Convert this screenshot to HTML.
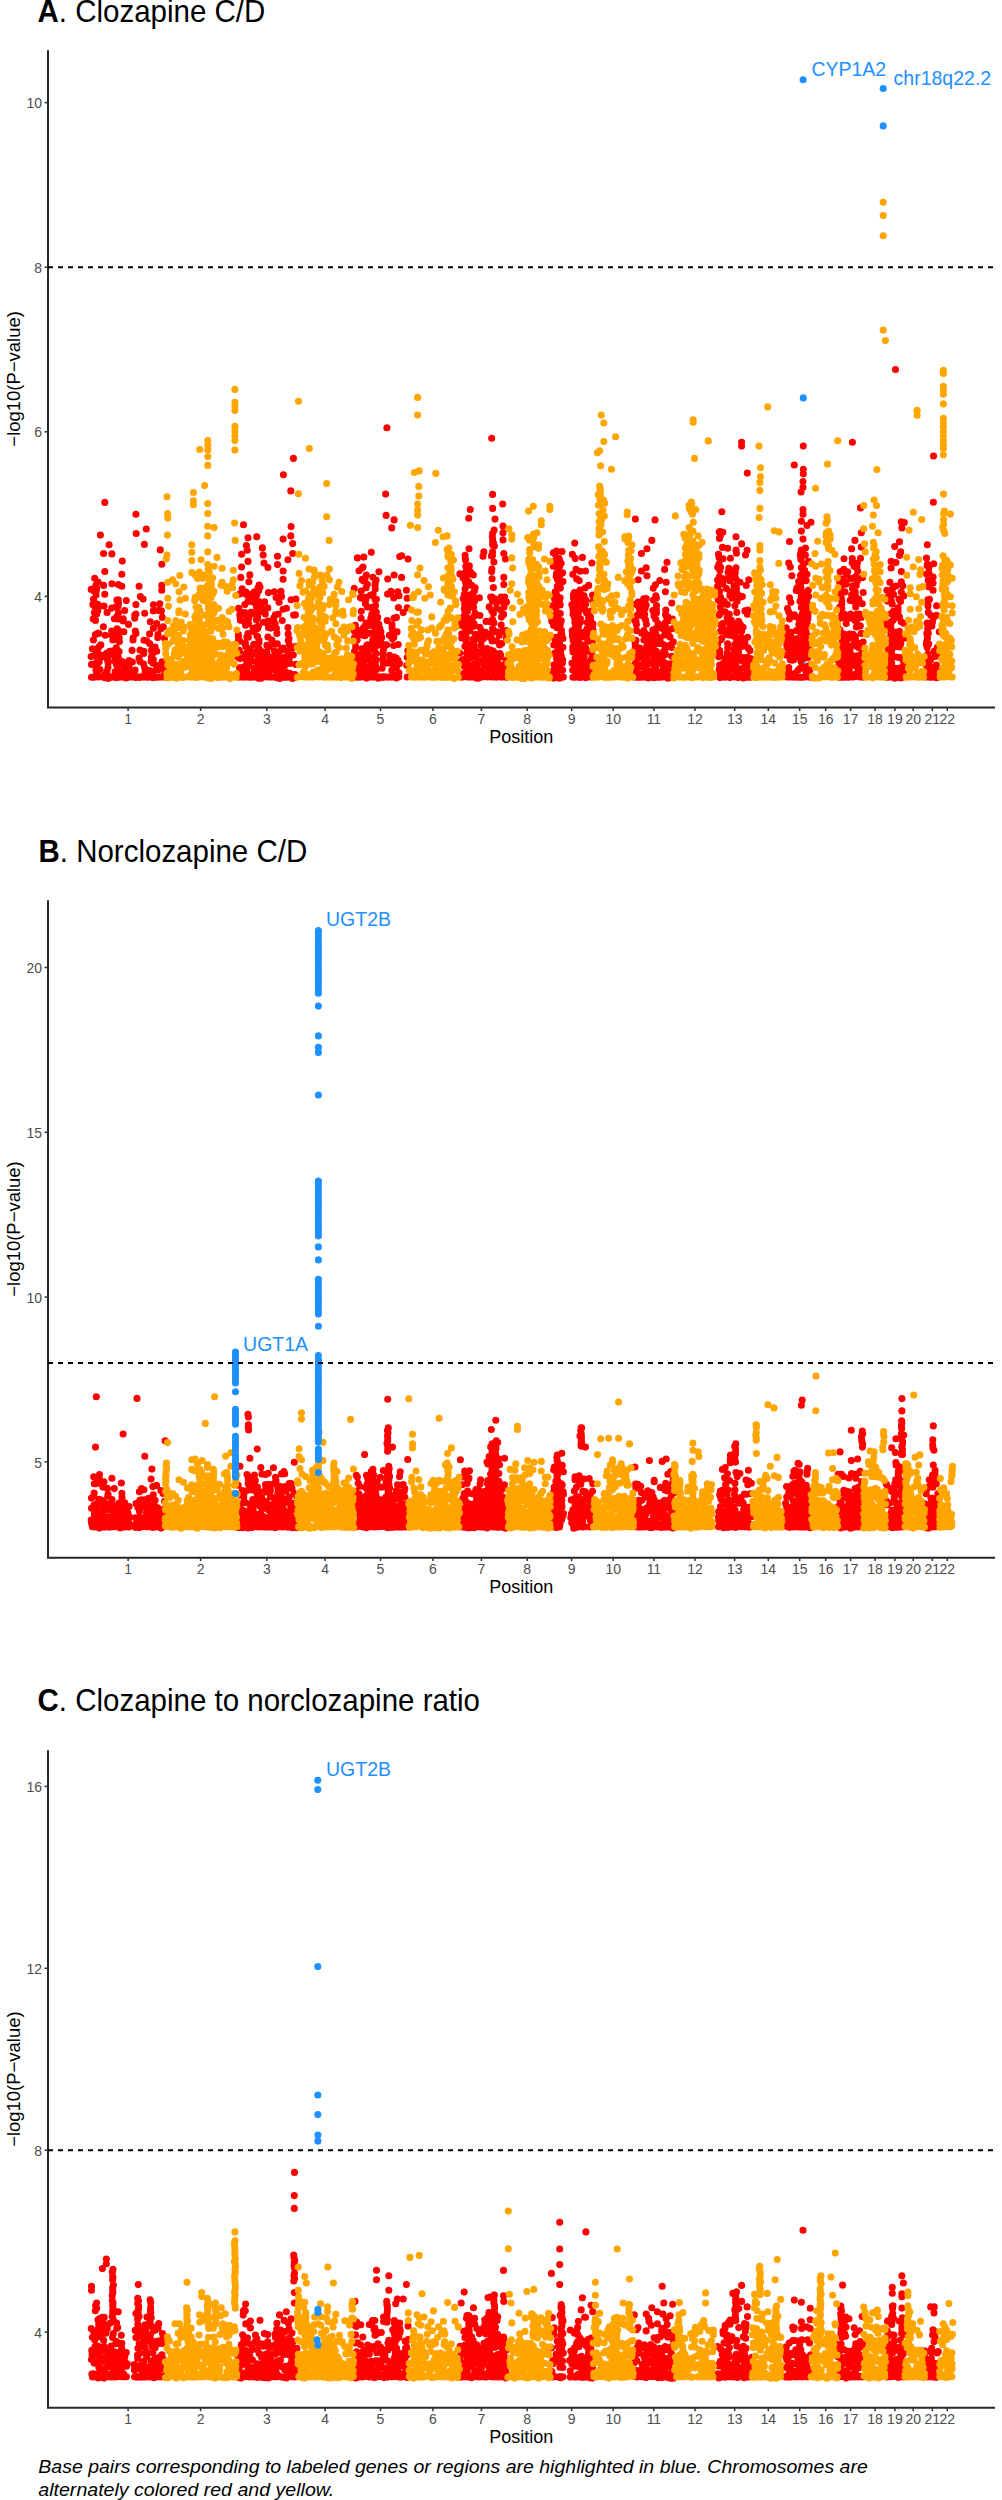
<!DOCTYPE html>
<html><head><meta charset="utf-8"><style>html,body{margin:0;padding:0;background:#fff;width:1002px;height:2500px;overflow:hidden}svg{display:block}</style></head><body>
<svg width="1002" height="2500" viewBox="0 0 1002 2500">
<style>
text{font-family:"Liberation Sans",sans-serif}
.yt{font-size:14px;fill:#4D4D4D;text-anchor:end}
.xt{font-size:14px;fill:#4D4D4D;text-anchor:middle}
.xl{font-size:18px;fill:#000;text-anchor:middle}
.yl{font-size:18px;fill:#000;text-anchor:middle}
.lab{font-size:19.5px;fill:#1E90FF}
.ttl{font-size:29.5px;fill:#000}
.cap{font-size:18.6px;fill:#000;font-style:italic}
</style>
<path d="M804.6 638.1h0M803.8 657.2h0M805.4 666h0" stroke="#1E90FF" stroke-width="7.1" stroke-linecap="round" fill="none"/>
<path d="M104.8 502.4h0M100.4 535.1h0M109.1 544.7h0M103.6 553.5h0M111.9 553.9h0M122.3 561.1h0M104.8 571.5h0M121.8 574.2h0M94.7 578.2h0M111.9 583.8h0M118.3 584.6h0M121.8 586.2h0M91.2 589.4h0M103.6 585.4h0M96 595h0M104.8 594.2h0M118.3 599.8h0M126.3 600.6h0M115.9 606.9h0M124.7 610.6h0M92.8 604.6h0M97.6 605.3h0M104 606.1h0M107.1 612.5h0M94.4 612.5h0M135.9 514.3h0M136.2 533.5h0M146.3 529h0M144.4 544.4h0M139.1 586.2h0M140.4 596.6h0M143.1 599h0M135.9 604.6h0M135.9 614.1h0M144.7 613.3h0M160.3 549.9h0M161.8 564.3h0M161.8 585.4h0M161.8 590.2h0M159.8 603.8h0M161.4 610.9h0M150.3 621.8h0M91.5 664.4h0M91.1 656.5h0M92.4 648.7h0M91.5 677.3h0M93.7 677.2h0M94.7 655.4h0M93.4 640h0M93.3 618.9h0M94 605.4h0M93.5 599.2h0M93.3 590.5h0M94.2 677.2h0M96.5 676.4h0M96 670h0M96.9 668.1h0M96.8 663.4h0M97 650.2h0M95.4 634.6h0M97.8 675h0M97.8 668h0M99.2 661.7h0M97.6 652h0M98.8 647h0M98.8 633.4h0M98 607.9h0M97.8 604.4h0M98.2 676.9h0M99.9 669.5h0M100.9 657.5h0M100.8 644.9h0M100.9 676.8h0M103.2 655.4h0M103.4 626.7h0M103 677h0M104.9 677.7h0M104.7 675h0M105.2 654.9h0M105.3 635.2h0M105 677.1h0M108.2 678.5h0M106.8 671.6h0M108 667.6h0M108.1 662.9h0M107.5 659.7h0M107 653.1h0M107 677.1h0M109.6 677.8h0M110.7 654.7h0M109.8 651.2h0M110.1 676.9h0M112.1 651h0M112.8 640h0M111.9 635.1h0M111.6 631.1h0M111.7 608.1h0M112.6 677h0M115.1 671.8h0M114.6 660.8h0M115.3 654.2h0M114.6 634.2h0M114.4 618.7h0M115 677.2h0M116.3 677.7h0M116.5 674.3h0M117.2 669.8h0M116.3 664.2h0M116.3 647.9h0M117.4 676.9h0M118.4 674.8h0M118.9 664.5h0M118.6 661.2h0M119.1 651.5h0M118.3 640.1h0M119.2 637.7h0M118.5 630.4h0M118.3 619h0M119.1 677.1h0M121.3 671.3h0M120.8 664.1h0M122.1 661.5h0M121.7 676.9h0M123.4 677.2h0M123.4 674.3h0M124.5 667.8h0M123.9 631.7h0M123.1 620.9h0M123.2 618.9h0M126.2 677.9h0M126.8 673.2h0M126 667.7h0M126.8 663.9h0M125.4 677.2h0M129.2 665.2h0M129 660.6h0M128.5 624.4h0M127.8 677h0M130.7 670.5h0M130.1 676.9h0M133.2 674.2h0M132.4 662h0M132.1 650.4h0M133 640h0M133.2 637.8h0M132.7 676.9h0M135.8 677.6h0M135.1 670.1h0M135.9 633.4h0M135.3 631.1h0M134.7 618.3h0M134.8 615.1h0M135 676.9h0M137.1 676.9h0M139.8 677.4h0M139.9 661.5h0M139 658.1h0M140 650h0M139.8 676.9h0M141.7 676.9h0M143.9 677.1h0M145.2 672.9h0M144.7 668.1h0M143.6 664h0M143.7 653.4h0M143.9 651.4h0M144 640.2h0M145.9 671.8h0M146.6 640.7h0M147 677.3h0M148.6 674.5h0M149 670.6h0M149.6 643.6h0M149.6 633.9h0M148.8 677.1h0M151.1 673.9h0M151.1 661.3h0M151.4 657.4h0M152.2 654.9h0M151.5 650.4h0M151.6 677.1h0M152.9 677.7h0M153.4 671.5h0M153.1 663.3h0M153.4 659.8h0M153.4 628.3h0M153.3 610.9h0M153.4 604.7h0M154 677h0M156.3 665.3h0M156.7 651.2h0M155.1 647h0M156.7 623.6h0M156.3 677.2h0M158.3 669.7h0M157.6 668.6h0M157.7 637.6h0M158 634.6h0M158.5 610.4h0M158.2 677.1h0M160.9 628.8h0M160.3 677h0M163.1 667.5h0M162.4 663.8h0M162 661.8h0M163.3 626.9h0M162.3 617.4h0M163.3 676.9h0M164.3 675h0M165.1 671.7h0M164.7 661.8h0M164.4 638.2h0M165.3 676.8h0M239.5 671.7h0M239.5 667.7h0M238.3 657.6h0M239.3 651h0M238.2 641.2h0M238.4 636.7h0M238.4 634.5h0M238.6 608.4h0M238.3 676.9h0M290.8 490.9h0M243.5 524.7h0M291.1 526.6h0M256.8 536.7h0M248 537.8h0M283.1 539.1h0M290.8 535.9h0M292.7 543.6h0M246.4 545.5h0M247.2 550.3h0M262.4 547.9h0M263.2 555h0M241.6 554.3h0M248 561.4h0M264 563h0M267.9 567.5h0M277.5 556.3h0M287.9 559.8h0M292.7 553.5h0M241.6 567h0M277.5 564.6h0M283.1 571h0M283.1 579.3h0M240.8 577.4h0M260 587h0M274.3 591.8h0M281.5 596.6h0M291.1 599.8h0M295.9 599h0M249.6 594.2h0M254.4 591.8h0M241.6 593.4h0M279.1 602.2h0M283.1 609.3h0M244.8 612.5h0M245.6 625.3h0M273.5 620.5h0M282.3 620.5h0M385.6 494.1h0M386.1 515.4h0M394.1 519.9h0M391.7 527.9h0M371.3 552.2h0M357.4 557.9h0M363.8 557.1h0M363 567h0M359 570.7h0M378.9 571.8h0M394.1 575h0M387.7 579h0M362.2 579.8h0M399.7 556.6h0M240.4 674.5h0M240.5 671.1h0M240 658.6h0M239.2 650.3h0M239.9 641.2h0M240.4 620.3h0M240 616.7h0M239.8 614.5h0M240.8 612.1h0M239.6 594.1h0M240.3 676.9h0M242.5 670.5h0M242.8 667.3h0M242.1 588.8h0M242.9 677.2h0M244.8 667.9h0M245 654.3h0M245.1 643.9h0M244.8 622.1h0M244.8 604.6h0M244.4 677h0M246.5 677h0M246.7 671.1h0M246.6 668.3h0M246.3 659.9h0M247.4 658.1h0M246.9 654.7h0M247.5 651.8h0M247.3 648.1h0M246.9 637.3h0M246.6 677h0M249.1 677.1h0M248.9 664.6h0M249.9 661.7h0M249 656.8h0M249.6 649.9h0M248.4 637.3h0M248.5 623.4h0M248.8 618.3h0M248.9 581.8h0M249.8 574.9h0M249.3 677h0M251.3 677.3h0M250.6 657h0M252 654.5h0M250.9 651.8h0M251 612.4h0M251.9 677h0M253.2 673.7h0M253.9 668.5h0M253.7 651.9h0M253.7 644.4h0M253.3 631.5h0M253 628.4h0M254 614h0M253 602.1h0M253.3 597h0M253.8 595.9h0M253.4 677h0M256.2 677h0M256.5 669.9h0M255.7 661.8h0M255.5 653.6h0M256.7 651.4h0M256.1 627.5h0M255.5 676.8h0M258.6 678.3h0M258.4 674h0M257.8 664.6h0M259.1 659.7h0M258.3 658.3h0M259 640.2h0M257.6 636.6h0M257.6 628.6h0M257.7 617.4h0M257.9 611.6h0M257.8 608.1h0M258.5 601.4h0M258.6 590.8h0M259.1 585.1h0M258.9 677.2h0M261.1 678.3h0M260.3 673.5h0M260.5 658.3h0M261.6 651.5h0M260.5 611.5h0M261.2 606.9h0M260.9 677.2h0M262.1 672.8h0M262.7 670.2h0M263.4 660.2h0M263.5 622.3h0M262.2 611.1h0M262.5 677.3h0M264.6 667.7h0M264.8 663h0M264.5 660.9h0M265.5 658.3h0M264.6 654.6h0M265.3 614h0M264.6 601.7h0M265.2 676.8h0M268.5 672.9h0M266.8 671.1h0M267 667.2h0M267.4 655.1h0M266.7 651.8h0M266.9 645.2h0M267.9 637h0M268.4 627.4h0M268.1 623.6h0M267.9 621.1h0M267.8 607.9h0M268.4 592.6h0M267.4 676.9h0M269.9 676.4h0M270 663.7h0M270.3 661.4h0M269.8 658h0M269.2 646.8h0M270.8 628.1h0M270.1 677h0M272.5 667.1h0M272.5 660.4h0M272.8 658.2h0M271.9 640h0M271.8 677h0M275 676.6h0M274.5 670h0M274.4 666.9h0M274.7 661.5h0M273.9 656.6h0M275 654.4h0M274.4 651.1h0M274.4 643.9h0M275.1 623.5h0M273.8 617.7h0M275.4 614.8h0M274.8 677h0M276.8 677.8h0M276.2 659.7h0M277.6 657h0M277.3 643.9h0M276.9 633.4h0M276.4 628.4h0M276.1 597.4h0M276.2 676.8h0M279.7 678.4h0M279.6 674.8h0M278.4 666.6h0M279.8 665.1h0M278.8 656.9h0M278.3 614.3h0M278.5 677.3h0M281.1 673.7h0M280.7 670.9h0M280.8 663.2h0M281.9 660.2h0M280.8 650.5h0M281 591.4h0M281.6 677.2h0M283.3 673.5h0M284.5 670.9h0M283.2 664.7h0M283.2 659.8h0M283.5 657.6h0M282.8 648h0M283.5 677.2h0M286.7 673.7h0M285.3 664.8h0M286.5 608.3h0M286.5 677.3h0M288.4 673.1h0M289 659.6h0M288.7 658.4h0M287.5 651.4h0M289.1 644.4h0M288.3 640.6h0M289 638.7h0M288.2 633.9h0M288 627.6h0M288 677.1h0M291.5 676.8h0M289.9 673.3h0M290.1 663.5h0M289.9 655.3h0M290.4 677h0M292.4 678.4h0M293.3 655h0M292.1 648.2h0M293.6 615.1h0M293.1 677h0M294.7 676.6h0M295 674.5h0M295.9 664.4h0M295.5 646.5h0M295.4 614.9h0M295.3 677.1h0M354.9 672.8h0M354.3 667.4h0M355.2 660.3h0M355.6 654.1h0M354.6 651.2h0M355.7 646.9h0M354.9 642.1h0M354.4 637.8h0M354.5 631.3h0M355.4 625.4h0M354.2 588.4h0M355.5 676.8h0M357.1 673.7h0M356.5 670.1h0M357.2 667.4h0M358.1 665h0M357.8 654.9h0M357.2 640.1h0M357.3 635.1h0M356.7 677.2h0M359.9 671.8h0M359.8 667.7h0M359.1 630.5h0M360.4 597.6h0M359.9 677.2h0M362.1 671.3h0M361.2 660h0M362 657.1h0M361.2 654.6h0M361.9 648.8h0M362.6 635.1h0M361.1 618.2h0M361.3 611.2h0M361.4 598.3h0M361.2 591.1h0M362.2 579.4h0M362.1 568.1h0M362 676.8h0M364.3 673.3h0M363.3 668.3h0M363.8 664.1h0M364.7 661.3h0M364.4 656.6h0M363.8 650.8h0M364.6 630.8h0M363.6 627.6h0M364.1 597.5h0M363.7 581h0M364.4 676.9h0M366.5 678.1h0M365.6 667h0M366.2 659.9h0M366.2 653.4h0M366.4 646.9h0M367.4 644.8h0M365.7 624.6h0M366 599.2h0M367.3 584.4h0M368.5 673.6h0M368.6 669.5h0M368.4 658.2h0M368.1 654h0M368.6 647.7h0M369.3 633.4h0M369.4 625.4h0M369.5 622.3h0M368.9 676.9h0M371 668.2h0M371.5 664.6h0M370.9 647.1h0M370.9 617.9h0M371.8 614.3h0M371.2 607.6h0M370.3 595.3h0M370.8 676.9h0M373.9 673h0M373.8 663.8h0M373.1 657.6h0M373.5 648.5h0M372.9 644.6h0M372.7 640h0M373.1 594.2h0M372.9 577.3h0M373.9 677.1h0M376.2 676.8h0M375.4 665.3h0M375.3 662h0M375.3 640.3h0M375 634.4h0M375.7 616.7h0M375 610.4h0M375 599.2h0M375.2 589.1h0M375.1 585.3h0M378.4 678.3h0M377.9 645.2h0M378.4 628.7h0M378.8 624.3h0M377.7 617.4h0M378.2 676.9h0M379.9 677.1h0M379.5 638.2h0M380.9 631.7h0M379.7 628.2h0M380.8 677.2h0M383 677.4h0M382.1 668.2h0M383.3 663h0M383 658.6h0M382.8 654h0M383.2 650.9h0M382 643.7h0M381.7 637.4h0M382.4 676.9h0M384.2 647.1h0M384.6 676.8h0M387 663.1h0M386.6 644.7h0M387.2 620.6h0M387.6 594.1h0M387.8 677.3h0M389.9 660.9h0M390.3 656.8h0M389.6 655.2h0M389.4 635.2h0M390 676.9h0M391.8 670.2h0M391.4 663.5h0M391.9 661.7h0M392.3 638.7h0M392.5 630.4h0M392 627.4h0M392 624.6h0M391 591.4h0M391.8 677.1h0M394.3 677h0M393.4 675h0M394.9 663.2h0M394.2 657.1h0M393.6 645.5h0M393.7 637.4h0M394.1 618.1h0M393.7 597.9h0M394.2 677h0M396.5 677.9h0M396.3 667.8h0M397.2 664.1h0M396.2 658h0M397.1 631.9h0M396.4 617.4h0M396.7 676.8h0M398.9 672.9h0M399.6 663.6h0M398 660.2h0M398.2 644.5h0M398.4 607.5h0M399.1 595.7h0M397.8 591.7h0M398.8 676.8h0M401.6 555.8h0M408 559h0M401.6 577.4h0M406.4 590.2h0M407.2 598.2h0M403.2 612.5h0M407.2 607.7h0M492.6 494.4h0M470.3 509.5h0M502.7 504h0M492.6 508.4h0M468.7 518.3h0M495 519.1h0M503 526h0M492.6 533.5h0M503 532.7h0M492.6 539.1h0M503 539.9h0M492.6 544.7h0M469 548.7h0M483.8 551.9h0M483 556.3h0M503.8 553.5h0M505.4 559h0M459.9 573.9h0M503.8 577.4h0M503.8 584.6h0M553.3 552.7h0M558.9 558.2h0M553.3 566.2h0M406.8 665.2h0M407.2 657.3h0M407.9 650.9h0M407.2 677h0M460.6 673.9h0M460.5 662h0M459.7 653h0M460 624.8h0M460.2 622.2h0M460.5 618.4h0M460.4 677h0M461.5 663.2h0M462.4 659.8h0M461.7 637.9h0M461.8 633.9h0M461.9 625.6h0M463.2 598.5h0M463.1 577.9h0M462.7 574.1h0M462.9 677h0M464.4 666.6h0M465.6 640.1h0M465.3 636.6h0M464.7 633.8h0M465 626.8h0M465 620.5h0M464.8 614.2h0M464.3 608.9h0M464.7 604.7h0M464.7 597h0M464.3 594.5h0M465.3 558.6h0M465.1 555.2h0M466.6 653.6h0M466.5 646.9h0M466.3 638.1h0M467.5 622.1h0M466.8 619.1h0M467.7 605.5h0M466.4 585.6h0M467.3 676.9h0M468.8 666.6h0M469.7 657.8h0M469.4 644.7h0M469.9 630.9h0M468.5 620.1h0M468.8 602h0M469.6 596h0M468.7 581.8h0M469.5 570.7h0M469.3 565.8h0M469 677h0M472.1 671.1h0M471.6 657.5h0M470.7 648.5h0M472.1 593.9h0M471.7 585.4h0M471.1 572.8h0M472 676.9h0M473.1 675h0M473.7 671.5h0M474.6 666.3h0M473.8 664.4h0M474.8 649.8h0M473.4 642.2h0M474.1 623.8h0M473.6 607.5h0M473.2 604.5h0M474.7 600.8h0M473.4 676.9h0M476.9 678.3h0M476.9 668h0M476.8 663.3h0M476.3 656.9h0M475.3 650h0M475.6 634.2h0M475.9 676.9h0M478.3 678.2h0M477.9 674.1h0M478.6 653.7h0M478.5 652h0M478.6 638.9h0M479.4 597.7h0M478.6 677.1h0M481.5 674.9h0M480.9 663h0M480.7 653.2h0M481 645.2h0M481.5 640.5h0M480 638.3h0M481.4 634.2h0M481.4 630.7h0M479.9 627.3h0M479.9 615.5h0M480.4 677h0M483.3 676.8h0M482.7 675.2h0M483 669.7h0M483.7 663.5h0M482.3 660.4h0M483.5 650.3h0M483.6 638.4h0M482.6 677h0M485.2 674.3h0M485.2 660.9h0M485.1 655.2h0M485.5 632.2h0M486.1 621.4h0M487.9 676.2h0M487.5 670h0M487.6 666.5h0M488.1 663.1h0M488.2 653.9h0M487.1 648.6h0M487.1 635.3h0M487.6 677h0M489.9 676.7h0M490.6 668.3h0M489.3 660.9h0M490.6 650.1h0M490.2 637.3h0M489.6 621.6h0M489.2 606.9h0M490.7 597.1h0M491.6 667.5h0M492 665.2h0M491.8 661.2h0M492.8 650.7h0M492.1 640.9h0M492.6 628.6h0M491.8 610.8h0M492 597h0M492.1 578.7h0M491.9 569h0M491.4 556h0M492.6 551.9h0M492.7 542.8h0M492 676.9h0M493.9 666.2h0M494.3 665.2h0M494.4 657.6h0M493.8 653.5h0M493.8 652h0M494.4 598.5h0M494.4 677h0M496.4 669.8h0M497.7 663.4h0M496.1 653.6h0M496.5 641h0M496.9 631.7h0M496.8 608.1h0M496 602.4h0M497 677.1h0M498.9 670.3h0M499 668.5h0M498.9 664.2h0M499.6 657.3h0M499.9 653.5h0M499.6 645h0M499.2 635.5h0M498.6 676.8h0M501.6 674.7h0M500.6 655.1h0M501.7 643.6h0M502 631.6h0M501.2 625.1h0M501.4 617.1h0M501 610.3h0M500.9 601.2h0M501.1 597h0M501 677.1h0M503.2 669.9h0M504.3 664.7h0M503.6 614.4h0M504.1 607.1h0M504.7 597h0M503.7 677h0M506.2 660h0M506.4 637.5h0M506.7 633.7h0M506.1 630.5h0M506.6 602.1h0M506.3 677.2h0M552.2 671.8h0M551.8 621.2h0M551.7 618.8h0M552.2 605.7h0M552.3 677.2h0M553.9 678.1h0M553.7 670.7h0M554.6 668.3h0M554.1 664.9h0M555.2 653.2h0M553.8 645h0M554.6 638.6h0M553.6 625.4h0M554.6 597.2h0M555.2 591.8h0M554.2 677.1h0M556.8 676.6h0M556 674h0M557.1 666.3h0M556.7 663.5h0M556.6 658.6h0M556.6 652.1h0M555.9 645.3h0M555.9 640.8h0M557 614h0M556.8 598.5h0M556.1 592.1h0M557.4 577.4h0M557 677.1h0M559.5 678.3h0M558.9 669.7h0M559 665h0M559 654h0M559.6 643.9h0M559.2 641.1h0M559.4 601.6h0M558.7 677h0M574.7 543.1h0M575.2 558.2h0M582.4 557.4h0M591.9 563h0M585.5 571h0M576 569.4h0M579.2 580.6h0M588.7 585.4h0M574.4 592.6h0M582.4 598.2h0M585.5 604.6h0M635.4 519.1h0M655 519.9h0M651.8 540.4h0M647 548.7h0M641.4 553.5h0M646.2 567.8h0M641.4 571h0M647 575.8h0M638.2 579.8h0M667 562.2h0M664.6 569.4h0M659.8 580.6h0M666.2 582.2h0M665.4 591.8h0M655.8 595.8h0M644.6 606.1h0M654.2 612.5h0M671.8 603h0M670.2 620.5h0M559.7 676.8h0M560.1 664.8h0M560.7 661.3h0M559.4 657h0M560.6 653.2h0M560.7 649.8h0M560.3 613.5h0M560.2 605h0M560.2 597.7h0M560.4 588.1h0M560.6 574.5h0M560.3 677h0M563.3 677.1h0M562.6 670h0M562.4 663.1h0M562.6 659.8h0M562.9 647.2h0M562.9 638.4h0M561.8 634.4h0M563 581.6h0M562.6 572.8h0M562 551.5h0M563 676.8h0M572.7 670.1h0M572 663.3h0M573 651.9h0M572.8 646.9h0M573.2 640.4h0M572.4 634.7h0M572.2 630.7h0M571.9 604.6h0M572.8 574.3h0M572.4 554.4h0M572.9 677.3h0M575.1 658.2h0M575.9 647.6h0M574.9 640.6h0M574.8 637.3h0M576 631.9h0M575 628.4h0M575.8 625.6h0M574.8 622.3h0M575 607.6h0M575.4 600.3h0M575.2 558.6h0M575.2 677.2h0M577.1 671.8h0M578 663.7h0M577.9 660.9h0M577.2 651.4h0M577.7 646.9h0M577.7 640.3h0M576.6 632.2h0M577.1 608h0M576.7 605h0M576.7 578.9h0M577.6 677h0M579.5 677.4h0M579.1 670.8h0M578.8 667.4h0M579.6 653.2h0M580.3 651.9h0M579.9 597.2h0M580.1 571.2h0M581.8 671.1h0M581.6 666.7h0M581.5 663h0M582.5 603.5h0M582.7 602.1h0M581.6 677.1h0M585.1 676.2h0M584.5 669.5h0M585.1 661.7h0M584.2 656.3h0M583.5 653.8h0M583.5 649.9h0M583.5 646.7h0M584.9 636.9h0M583.5 635.2h0M584 595.9h0M585.1 588h0M584.4 677.2h0M585.8 677.8h0M587.2 674h0M586.7 666.9h0M586.6 665h0M586.1 650.6h0M585.8 648.3h0M587.3 638.7h0M586.3 630.6h0M587.1 677h0M588.3 676.7h0M588.4 674.4h0M588.8 641h0M588.6 617.4h0M588.3 676.8h0M592.1 676.9h0M591.1 674.3h0M591.9 665.1h0M591.8 661.8h0M591.4 651.6h0M591.9 624.2h0M590.7 676.9h0M592.8 670h0M592.7 663.1h0M592.7 660.3h0M592.9 657.7h0M592.7 642.2h0M593 630.4h0M634.1 666.5h0M634.9 664.1h0M635.6 650.8h0M635.1 648.6h0M635.2 644.5h0M634.4 640.1h0M634.7 620.6h0M635.4 604.2h0M635.2 677.1h0M637.3 676.1h0M637.7 674.2h0M636.7 663.5h0M636.9 653.1h0M637 651.9h0M636.5 630.4h0M636.9 677.2h0M639.7 674.1h0M640.1 666.7h0M639.1 657.3h0M639.9 653.3h0M639.8 648.1h0M639.4 615.1h0M639.3 608.8h0M639.8 677.3h0M641.1 665h0M641.6 657.2h0M641.8 633.3h0M642.5 613.4h0M642.3 604.1h0M642.3 677.3h0M645 671h0M643.4 663.5h0M644.9 658.4h0M643.9 640.1h0M644.7 634.4h0M643.9 616.9h0M643.7 598.8h0M643.7 677h0M646.1 665.2h0M647.2 659.8h0M646.6 658.4h0M645.8 653.1h0M646.4 650.3h0M646.7 646.7h0M645.6 620h0M646.2 605.1h0M646.2 598.6h0M646.2 676.9h0M648.2 677.9h0M648.4 670.5h0M647.9 663.8h0M649.2 654h0M649.2 649.7h0M648.6 647.2h0M648.7 640h0M648.2 636.7h0M648.4 635.6h0M648.8 677.1h0M650.8 677.3h0M650.8 673.4h0M651.1 661h0M650.7 648.2h0M651.3 643.5h0M651.5 677.2h0M654.1 677.8h0M653.9 665h0M652.9 654h0M654.1 644.7h0M653.8 640.5h0M653.1 636.8h0M652.8 630.1h0M652.8 610.6h0M653.3 588.3h0M653 677.1h0M654.8 669.8h0M655.7 667.7h0M656.2 665.3h0M656.2 660.8h0M654.9 657.5h0M655.3 641.3h0M655.8 634h0M656.5 605.5h0M656.4 598.1h0M655.4 584.7h0M658.5 671.7h0M658.7 643.5h0M658 627.9h0M658 623.6h0M657.8 677.2h0M659.4 663.2h0M660.1 655.1h0M660.3 637.7h0M660.5 677.2h0M662.2 673.8h0M662.3 660.1h0M662.2 643.8h0M662.2 627.9h0M662.4 676.9h0M665.1 670.8h0M665.4 654h0M664.5 651.8h0M665.4 648h0M664.8 634.9h0M664.6 623.7h0M665.5 614.5h0M665 676.8h0M667.9 678.2h0M666.2 670.9h0M666.4 663.6h0M667.7 631h0M667.7 616.7h0M666.6 677.1h0M670 674.3h0M670 664.1h0M670 637h0M668.5 635h0M669.5 677h0M671.2 677h0M672.4 673.6h0M671.8 667.8h0M670.9 663.9h0M671.7 656.3h0M671.7 647.4h0M671 644.6h0M672.1 628.8h0M672.5 619h0M671.6 677.3h0M673.2 641.9h0M720 531.9h0M736 536.7h0M741.6 543.9h0M747.1 550.3h0M745.5 555h0M736 550.3h0M730.4 558.2h0M736 567.8h0M729.6 577.4h0M740 582.2h0M748.7 579.8h0M746.3 585.4h0M730.4 593.4h0M742.4 596.6h0M747.9 610.1h0M732 598.2h0M726.4 588.6h0M803 481.6h0M803 487.2h0M801.1 492h0M803 509.5h0M803 514.3h0M801.4 521.2h0M811 522.3h0M807 525.5h0M801.4 531.1h0M803 539.1h0M789.5 541.5h0M802.2 552.7h0M800.6 556.6h0M788.7 563h0M790.3 567h0M801.4 567.8h0M791.9 575.8h0M802.2 575.8h0M806.2 580.6h0M799.8 583.8h0M800.6 591.8h0M789.5 597.8h0M788.7 611.7h0M789.5 618.9h0M811 609.3h0M838.2 628.5h0M860.5 507.9h0M861.3 532.7h0M854.9 540.4h0M861.3 547.1h0M860.5 558.2h0M854.1 566.2h0M847.7 571.8h0M855.7 576.6h0M852.5 588.6h0M841.4 579h0M839.8 588.6h0M841.4 598.2h0M854.1 598.2h0M858.9 599h0M720 677.6h0M719.6 675.2h0M721.2 669.5h0M719.7 668h0M719.6 665.1h0M720.7 639.8h0M721 624.9h0M720.2 613.4h0M720.3 607h0M719.6 601.1h0M720.6 597.4h0M719.7 591.3h0M720.4 582.1h0M720.6 567.3h0M719.9 531.5h0M720.9 677h0M722.3 670.6h0M723.4 663.4h0M721.7 638.6h0M723.5 628.7h0M722.7 623.6h0M722.2 604.5h0M722.4 601h0M722.8 584.1h0M723 558.7h0M722.5 547.4h0M722.8 532.3h0M721.8 511.8h0M723.1 677h0M724.7 666.7h0M725.1 658.1h0M724.5 631.8h0M725.1 611.7h0M724.2 601.4h0M724.1 578.9h0M724.7 677.2h0M727.4 673.1h0M727.1 670.5h0M727.5 666.7h0M727 664.6h0M726.6 662h0M727 653h0M727.7 648h0M727.6 643.8h0M727.1 634.6h0M727.1 617.8h0M727.4 604.5h0M728.1 572.2h0M727.7 548.3h0M727.1 676.9h0M729.9 677.6h0M729 673h0M728.9 661.8h0M728.9 657.8h0M730.2 635.3h0M729.1 630.1h0M729.7 624.2h0M728.6 620.5h0M729.3 614.2h0M729.8 595.5h0M730.3 591.9h0M729.8 580.8h0M729 572.6h0M728.8 568.2h0M729.6 677.1h0M732.5 668.4h0M732.6 657.9h0M732.3 655.1h0M731.3 620.3h0M731.4 676.9h0M734.9 663h0M734.3 650.2h0M734.6 648.4h0M734.7 644.5h0M734.9 628.7h0M734.9 605.8h0M734.6 595.5h0M734.1 585.9h0M734.6 677h0M735.9 671.1h0M735.9 663.2h0M735.7 648.1h0M736.6 624.6h0M736.8 612.4h0M735.7 578.6h0M736.2 676.8h0M738.1 677.6h0M739.5 673.2h0M739.5 670.7h0M738.8 668.5h0M738.4 651.9h0M738.4 644.8h0M738.8 640h0M738.9 630.5h0M738.6 621.3h0M738.3 597.1h0M738.6 595.3h0M737.9 581.6h0M739 677.1h0M741.4 659.6h0M740.5 657h0M741.9 646.5h0M741.3 637.2h0M741.5 631.3h0M740.3 624.2h0M740.4 596.9h0M743.4 678.1h0M744.1 667.8h0M742.8 661.3h0M743.7 657.6h0M742.6 638.8h0M743.1 627.2h0M742.9 676.9h0M744.9 677.1h0M746.3 673.8h0M746 660.5h0M744.9 644.1h0M744.7 641.8h0M744.9 610.9h0M746 677.2h0M748.1 676.7h0M748.1 673.3h0M748.4 671.4h0M747.7 664h0M747.5 660.8h0M747.9 657.2h0M748.1 647.9h0M747.6 637.2h0M747.4 614.3h0M748 677.1h0M749.9 674.5h0M749.7 670.9h0M750.2 668h0M749.3 663.9h0M750.5 659.8h0M750.6 658.6h0M749.9 650.4h0M750.3 677.3h0M787.5 673h0M786.3 671.5h0M786.6 655.3h0M787.1 648.2h0M786.7 644.7h0M786.2 640.4h0M786.6 637.8h0M787.4 634.1h0M786.2 627.7h0M787.5 608.5h0M786.5 676.9h0M788.6 675h0M788.8 671.5h0M788.8 667.5h0M790.2 659.8h0M789.7 656.4h0M789.6 650h0M790.1 648.1h0M789.3 638.1h0M789.4 633.6h0M789.9 614h0M789 676.9h0M792.4 660.3h0M792.4 656.4h0M792.3 654.2h0M791.8 641.7h0M791.1 636.8h0M791.1 632.3h0M790.9 602.2h0M791.4 677h0M794.1 677.2h0M793.6 659.8h0M794.3 654.5h0M794.1 647.3h0M793.3 641.4h0M794.4 614.9h0M794 676.8h0M795.4 673.1h0M796.7 650.3h0M796.1 647.8h0M795.9 641.2h0M796.4 638.9h0M796.4 630.6h0M795.8 616.8h0M796.3 590.5h0M797 587.9h0M796.2 676.9h0M798 670.2h0M798.2 656.5h0M798.5 654.6h0M798.4 640.6h0M798.8 630.2h0M798.8 624.5h0M799.4 587.5h0M798.6 581.5h0M798 677.3h0M801.4 667.1h0M800.9 661.2h0M801 657.9h0M801.2 654.8h0M800.3 651.2h0M801.3 643.2h0M800.6 628.4h0M800.6 624.3h0M801 587.7h0M800.6 580.6h0M800.9 577.3h0M800.7 575h0M800.3 555h0M801 677.2h0M803.2 667.2h0M804 658.5h0M802.7 654h0M803 650.7h0M803.1 639.9h0M803.7 630.3h0M802.6 622h0M802.8 571.3h0M802.8 565.7h0M803 677.3h0M806.2 673.1h0M805.7 654.2h0M804.7 636.6h0M805.4 630h0M805.1 624.9h0M805.7 618.9h0M805.6 677h0M807.5 671.9h0M808.2 666.6h0M807.3 647.2h0M808.4 643.5h0M807 637.6h0M807.4 624.5h0M809.9 676.8h0M809.7 670.2h0M810.6 664.6h0M810.3 654h0M809.4 648.2h0M810.9 636.8h0M810.1 677.2h0M840.6 667.7h0M839.9 651.7h0M839.2 636.8h0M839.4 618.5h0M839.6 607.2h0M839.6 581.7h0M840.2 571.7h0M839.5 677.2h0M843 667.1h0M841.6 663.8h0M842.6 653.7h0M843 646.8h0M841.6 643.9h0M842.4 617.6h0M841.5 611.8h0M841.8 608.6h0M841.7 677.2h0M845.4 675.1h0M845.2 671.2h0M844.2 660.2h0M843.8 656.9h0M844.6 653.4h0M843.9 647.5h0M844.3 640.5h0M844 634.1h0M844.8 617.5h0M844.7 614.2h0M844.9 591.9h0M845.3 581.7h0M843.8 569.2h0M844 558.8h0M844.2 677.2h0M847.3 653.8h0M847.7 645.4h0M847.8 638.6h0M846.2 623.5h0M847.7 617.4h0M846.3 584.1h0M846.5 574.7h0M846.9 677.1h0M849.5 676.2h0M850.1 673.8h0M849.3 669.6h0M849.2 667.8h0M849 663.3h0M849.1 661.4h0M849.6 658.3h0M850 649.8h0M849.4 636.7h0M849.7 634h0M850.1 600.4h0M848.6 677.2h0M850.7 660.5h0M850.8 654.2h0M850.8 637.5h0M851.4 634.2h0M851.4 618.2h0M850.7 614h0M851.6 595.1h0M851 578.6h0M852.2 562.8h0M852.3 558.6h0M851.6 548.7h0M851 676.9h0M854.6 674.6h0M853.2 664.9h0M854.5 644.9h0M854.2 641.3h0M853.1 634.3h0M853.1 601.1h0M853.8 594.7h0M853 585.8h0M854.5 565.4h0M853.4 676.9h0M855.9 657h0M856.1 641.8h0M855.4 638.2h0M856.3 621.1h0M856.3 615.7h0M855.7 606.9h0M855.4 595.6h0M856.5 567.4h0M858.3 674.6h0M858.1 669.6h0M857.6 663h0M858.5 647.5h0M858 643.3h0M859.3 614.1h0M857.5 580.7h0M857.6 578.4h0M857.7 571.1h0M858.6 676.8h0M860.9 667.7h0M859.9 660.7h0M861.5 653.5h0M860.2 643.9h0M861.3 633.4h0M860.3 625.7h0M861.1 617.5h0M860.2 676.9h0M863 671.6h0M862.4 659.6h0M863.1 656.9h0M863.1 642.1h0M862.3 603.8h0M863.2 592.5h0M862.6 577.6h0M863 677.1h0M889.9 593.8h0M893.5 594.4h0M886.3 622.5h0M899.5 541.7h0M894.7 546.5h0M900.7 551.9h0M899.5 555.4h0M891.1 561.4h0M895.9 562.6h0M891.1 568h0M901.3 571.6h0M901.3 581.8h0M901.3 592h0M901.3 521.9h0M901.9 527.9h0M904.3 522.5h0M933.4 502.2h0M927.3 544.7h0M927.1 565.6h0M933.7 563.8h0M928.9 572.8h0M933.1 577h0M933.1 583h0M933.1 590.2h0M928.3 586.6h0M929.5 599.2h0M936.6 605.7h0M930.7 615.3h0M936.6 615.3h0M927.1 623.1h0M931.9 626.1h0M928.3 633.3h0M888 677.2h0M886.6 674.6h0M887.1 667.9h0M887.5 659.9h0M887.8 656.9h0M886.7 654.4h0M888.1 650.1h0M888 644.5h0M886.7 630h0M887.8 628.3h0M887 625h0M887.3 601.1h0M888 597.1h0M886.9 590.3h0M886.7 677.1h0M889.2 676.3h0M889.8 671.7h0M890.3 667h0M889.5 665.2h0M889.7 654h0M890 651h0M888.7 628.3h0M889.9 624h0M889.5 594.2h0M889.9 582.2h0M889.3 677h0M891.1 676.1h0M892.5 671.8h0M891.9 666.2h0M891.6 663.1h0M892 657.1h0M891.3 640.9h0M892.5 637.8h0M891.8 621.4h0M891.3 602.2h0M891.4 593.7h0M892.2 677.1h0M894.8 678.3h0M894.5 674.6h0M894.7 670.5h0M894.3 668.3h0M894.7 656.7h0M894.6 646.9h0M893.3 644.8h0M894.2 640.9h0M894.3 637.2h0M894.2 632h0M893.4 611.2h0M894.5 677h0M895.8 676.4h0M896.8 672.9h0M896.9 671.2h0M896.2 668.5h0M897.1 617.1h0M895.9 586h0M896.8 677.1h0M898.6 668.4h0M898.6 657.4h0M899.5 646.9h0M898.2 644h0M899.2 638.2h0M899.3 635.4h0M899.3 631.2h0M899.4 616.7h0M898 611.6h0M898.1 607.9h0M899 599h0M899.1 676.9h0M900.7 678h0M901.5 674.7h0M901.3 669.9h0M901.5 657.8h0M900.8 643.8h0M901.1 635.4h0M901.2 621.7h0M900.5 601.4h0M901.2 676.9h0M903.5 673h0M902.8 666.3h0M904 664.7h0M903.3 660.4h0M903.6 657.3h0M904.1 638.3h0M903.6 623.3h0M903.7 595.9h0M902.8 585.7h0M903.8 676.9h0M904.9 664.4h0M905 638h0M925.9 671.8h0M926.1 664.4h0M926.6 641.8h0M926.8 633.4h0M926.8 676.9h0M928.2 676.8h0M929.4 670h0M928.1 664.4h0M929.5 661.1h0M928.7 643.9h0M929.2 677.1h0M931.4 676.3h0M931.8 668.3h0M930.6 660h0M931.2 677.2h0M933.5 676.4h0M934.1 673.7h0M934.1 651.2h0M932.5 621.7h0M934.1 616.9h0M933.8 677.1h0M936.3 677.8h0M934.9 666.9h0M936.3 665h0M935.3 656.4h0M935 677.1h0M937.2 670.5h0M937.1 653.6h0M937.2 647.5h0M937.6 677.3h0M939.3 631.8h0M293.4 458.4h0M283.4 474.7h0M386.9 427.8h0M491.7 438.3h0M895.5 369.5h0M933.5 456h0M741.6 442.2h0M741.6 446.1h0M803.3 446.1h0M794.3 465h0M803.3 469.2h0M803.3 473.7h0M747.3 473.1h0M852.4 442.2h0M98.1 582h0M95.9 585.2h0M96.7 588.4h0M96.1 591.6h0M97.3 604.4h0M95.5 607.6h0M97.8 610.8h0M96.7 614h0M95.5 620.4h0M97.7 633.2h0M97.7 652.4h0M96.8 662h0M96.6 665.2h0M96.3 674.8h0M116.9 600h0M118.6 603.2h0M118 606.4h0M118.5 612.8h0M117.2 616h0M117 628.8h0M119.1 632h0M118.4 635.2h0M119.4 641.6h0M117.6 654.4h0M118.3 657.6h0M116.5 673.6h0M118.7 676.8h0M246 592h0M247.2 595.2h0M248 601.6h0M245.8 614.4h0M247.3 617.6h0M248 633.6h0M246.9 636.8h0M245.4 643.2h0M245.8 646.4h0M247 652.8h0M248 656h0M247.4 662.4h0M245.9 665.6h0M246.9 672h0M248.4 675.2h0M257.9 588h0M257.4 591.2h0M256.9 594.4h0M258.9 604h0M256.5 607.2h0M256.5 620h0M258.4 626.4h0M257 636h0M259 642.4h0M259 648.8h0M259.1 652h0M259.6 655.2h0M259 661.6h0M259.4 664.8h0M257.4 674.4h0M366.3 575h0M365.1 578.2h0M366.1 587.8h0M365.9 597.4h0M365.5 603.8h0M367.4 607h0M366.4 623h0M366.2 632.6h0M364.9 635.8h0M366.9 645.4h0M366.8 651.8h0M365.8 658.2h0M365.6 674.2h0M376.1 580h0M375.2 583.2h0M376.4 599.2h0M375.5 605.6h0M376.3 612h0M374.7 615.2h0M376.5 621.6h0M374.9 624.8h0M374.8 628h0M374.8 631.2h0M375.7 640.8h0M375 644h0M374.4 650.4h0M375.9 653.6h0M376.3 660h0M373.7 666.4h0M376.5 669.6h0M373.5 672.8h0M373.9 676h0M465.5 560h0M465.8 566.4h0M465.1 572.8h0M466.7 576h0M465.6 582.4h0M466.4 585.6h0M465.1 588.8h0M467.4 595.2h0M464.6 598.4h0M464.5 601.6h0M465.9 608h0M467.4 611.2h0M467 617.6h0M467.1 627.2h0M465.9 630.4h0M465.7 633.6h0M467.3 643.2h0M464.9 646.4h0M467.4 649.6h0M465 659.2h0M467.5 662.4h0M464.9 665.6h0M466.1 672h0M473.3 575h0M475.2 587.8h0M474.4 591h0M472.8 594.2h0M473.6 597.4h0M474.6 600.6h0M475.1 613.4h0M473.8 616.6h0M473 623h0M473.5 626.2h0M473.3 639h0M473.9 645.4h0M473.6 648.6h0M473.6 651.8h0M472.4 655h0M474.2 671h0M494.1 530h0M492.7 533.2h0M492.3 536.4h0M492.6 539.6h0M493.4 542.8h0M494.4 546h0M492.5 555.6h0M493.9 562h0M491.6 571.6h0M493.4 587.6h0M492 597.2h0M492.4 600.4h0M493.4 613.2h0M492.5 619.6h0M493.9 622.8h0M492.4 632.4h0M491.8 638.8h0M492 651.6h0M492.6 654.8h0M494.6 658h0M494.1 661.2h0M493.8 674h0M556.6 551h0M555.2 554.2h0M555.4 560.6h0M557 567h0M556.5 573.4h0M556.2 576.6h0M557.6 579.8h0M557.3 586.2h0M557 595.8h0M554.5 599h0M556.9 602.2h0M556 608.6h0M555 615h0M557.5 618.2h0M554.8 624.6h0M557 627.8h0M556.2 637.4h0M556.4 640.6h0M556.7 643.8h0M554.5 653.4h0M557.5 656.6h0M559.6 560h0M561.2 563.2h0M559.5 566.4h0M560.1 572.8h0M559.1 576h0M560 585.6h0M561.3 620.8h0M560.3 624h0M559.9 627.2h0M561.5 630.4h0M561 633.6h0M559 643.2h0M561.3 656h0M560.1 659.2h0M573.4 595h0M573.5 598.2h0M575.6 601.4h0M572.7 607.8h0M573.3 611h0M573.1 614.2h0M574.4 617.4h0M572.6 633.4h0M572.5 636.6h0M573.4 639.8h0M574.9 646.2h0M572.8 649.4h0M575.1 662.2h0M575.4 665.4h0M574.6 668.6h0M575.4 671.8h0M575.2 675h0M580 590h0M580.2 593.2h0M579 609.2h0M578.5 612.4h0M580.4 618.8h0M580.5 622h0M578.8 625.2h0M579.6 631.6h0M579.6 638h0M580.1 644.4h0M579.7 650.8h0M581.1 657.2h0M579.8 660.4h0M580.4 676.4h0M586 600h0M584.7 609.6h0M586.5 612.8h0M587.3 622.4h0M587.1 628.8h0M585.7 632h0M584.9 644.8h0M586.6 651.2h0M584.8 664h0M585.1 670.4h0M585.5 673.6h0M592.6 595h0M592.9 601.4h0M591.1 611h0M590.5 617.4h0M590.7 620.6h0M592.9 623.8h0M592.5 627h0M590.9 633.4h0M592.2 639.8h0M591.4 652.6h0M592.2 655.8h0M591.3 659h0M592.1 662.2h0M592.2 668.6h0M590.8 671.8h0M638.2 602h0M637.5 605.2h0M637.6 614.8h0M636 621.2h0M636.4 624.4h0M636.7 630.8h0M636 640.4h0M638.3 650h0M636.5 659.6h0M638.5 666h0M636.1 672.4h0M637.7 675.6h0M644.1 605h0M645.1 608.2h0M643.7 611.4h0M644.8 614.6h0M646.4 624.2h0M643.8 630.6h0M645.7 633.8h0M645.1 637h0M646 640.2h0M645.9 672.2h0M643.7 675.4h0M653.4 600h0M656.4 609.6h0M656.5 612.8h0M654 616h0M655.8 619.2h0M655.4 628.8h0M653.5 635.2h0M654.6 641.6h0M653.8 644.8h0M656.3 651.2h0M654.3 657.6h0M654.8 664h0M655.2 673.6h0M655 676.8h0M665.8 610h0M666.5 616.4h0M665.3 622.8h0M665.4 626h0M663.6 629.2h0M664.8 645.2h0M663.5 651.6h0M664.9 654.8h0M665.1 664.4h0M663.6 667.6h0M665 670.8h0M665.6 674h0M719.2 532h0M720.5 535.2h0M719.5 538.4h0M718.5 554.4h0M719.1 557.6h0M719 564h0M717.7 567.2h0M719.9 570.4h0M719.4 576.8h0M717.6 580h0M717.6 586.4h0M718.8 592.8h0M718.2 599.2h0M719 615.2h0M720.4 631.2h0M718.1 640.8h0M717.8 644h0M719.6 650.4h0M719.6 653.6h0M718.7 656.8h0M719.1 669.6h0M718.8 672.8h0M736.1 550h0M736.5 553.2h0M735.3 569.2h0M735.3 572.4h0M734.8 575.6h0M736.5 588.4h0M736.4 591.6h0M735.5 598h0M737.1 601.2h0M737.1 623.6h0M734.6 626.8h0M735 633.2h0M734.5 636.4h0M736.6 639.6h0M735.1 646h0M736.8 649.2h0M736.4 655.6h0M734.8 658.8h0M734.5 665.2h0M736.5 671.6h0M736.8 674.8h0M801.3 550h0M800.7 553.2h0M801.4 556.4h0M800.9 559.6h0M800.5 575.6h0M801.5 582h0M801.3 591.6h0M801.4 594.8h0M801.2 598h0M800 601.2h0M801.3 607.6h0M802.2 614h0M799.5 620.4h0M800.7 623.6h0M800.8 633.2h0M801.4 649.2h0M802.4 655.6h0M800.1 668.4h0M805.5 548h0M802.6 554.4h0M803.6 564h0M804.6 570.4h0M804.9 573.6h0M805.1 580h0M805.4 592.8h0M805.5 599.2h0M803 602.4h0M803.7 608.8h0M804.4 612h0M803.9 615.2h0M802.6 618.4h0M804.4 621.6h0M803 631.2h0M805.2 634.4h0M803.8 637.6h0M803 640.8h0M802.9 644h0M804 647.2h0M805.4 555h0M808.4 561.4h0M807 574.2h0M808.4 590.2h0M808.6 596.6h0M806.8 599.8h0M807.1 603h0M808 606.2h0M807.9 612.6h0M808 615.8h0M807.9 619h0M806 631.8h0M807 635h0M806.8 638.2h0M806.3 647.8h0M806.9 651h0M806.6 654.2h0M808.1 657.4h0M806 670.2h0M805.7 676.6h0M839 597.2h0M838.8 635.6h0M838.9 645.2h0M838.7 654.8h0M838.4 658h0M838.7 661.2h0M839.1 664.4h0M838.5 667.6h0M842.1 585h0M840 588.2h0M840.1 591.4h0M840.4 597.8h0M841.8 601h0M841.7 604.2h0M841.3 610.6h0M840.9 617h0M839.9 629.8h0M841.2 636.2h0M842.3 639.4h0M840.1 645.8h0M842.4 649h0M841.4 652.2h0M842.3 661.8h0M841.6 668.2h0M840 674.6h0M857.4 563h0M856.9 566.2h0M855.9 579h0M856.2 585.4h0M855.2 591.8h0M856.9 601.4h0M856.6 614.2h0M855.1 617.4h0M855 620.6h0M857.1 623.8h0M856.4 627h0M855.3 636.6h0M856.9 646.2h0M856.8 655.8h0M854.6 659h0M855.3 662.2h0M854.4 665.4h0M856.2 675h0M892.8 588h0M891.3 594.4h0M891.3 600.8h0M892.2 604h0M891 613.6h0M893.2 620h0M890.8 626.4h0M893.4 632.8h0M890.6 636h0M890.8 642.4h0M891.5 652h0M891.5 655.2h0M891.2 658.4h0M890.9 668h0M891.2 674.4h0M926.5 558h0M927.4 564.4h0M928.8 567.6h0M926.5 574h0M928.2 580.4h0M928.6 586.8h0M928 599.6h0M927.8 602.8h0M928 606h0M928.3 612.4h0M927.7 628.4h0M927.5 638h0M926.4 644.4h0M927.2 647.6h0M927.9 654h0M928.5 657.2h0M928.1 660.4h0M926.8 663.6h0M927 666.8h0M927.9 676.4h0" stroke="#FF0000" stroke-width="7.1" stroke-linecap="round" fill="none"/>
<path d="M167 496.8h0M167.5 513.5h0M167.8 518h0M167.5 535.1h0M167 555h0M166.2 559h0M193.4 492.5h0M193.4 500.8h0M193.4 504.8h0M204.6 485.6h0M207.7 503.6h0M207.7 513.5h0M207.7 526.3h0M214.1 527.6h0M207.7 535.9h0M207.7 551.9h0M234.6 523.1h0M235.2 540.4h0M191.8 544.7h0M191.8 552.3h0M191.8 560.6h0M201 559.8h0M217 557.4h0M222.1 568.3h0M179.8 575.5h0M172.6 579.8h0M191.8 572.6h0M198.2 576.6h0M207.7 564.6h0M214.1 566.2h0M233.3 570.2h0M233.3 579.8h0M222.1 582.2h0M225.3 586.2h0M175.8 583.8h0M183.8 587h0M167.8 582.2h0M167.8 598.2h0M179 591.8h0M185.4 598.2h0M179 610.9h0M185.4 614.1h0M168.6 606.1h0M167.8 620.5h0M175.8 620.5h0M165.7 653.8h0M165.8 648.8h0M165.3 643.6h0M167 677.8h0M166.8 673.4h0M167.7 665h0M167 658.5h0M168.3 644.2h0M167.6 633.9h0M167.8 677.3h0M169.3 677.4h0M170.4 675.2h0M169.6 671.3h0M170.5 667.4h0M169.8 664.4h0M170 661.5h0M169.9 630.5h0M170 677.2h0M172.2 671.2h0M171.4 659.6h0M172.7 641.2h0M171.8 677.3h0M174.5 673h0M173.9 666.6h0M174.1 653.9h0M175.1 649.8h0M174.2 638.3h0M173.8 635.3h0M174.1 630.6h0M173.5 625.7h0M174.6 677.2h0M176.5 678.3h0M176.3 675.2h0M176.4 667.8h0M176.3 664.6h0M176.7 627h0M176.3 677.1h0M178.7 666.4h0M178 656.7h0M178.7 655.2h0M179.7 640.7h0M178.6 627.5h0M179.4 677.1h0M181 676.7h0M180.6 674.2h0M180.9 670.5h0M181.6 663.5h0M180.7 653.7h0M180.9 677.2h0M182.6 677.6h0M183.8 665.1h0M183.8 661.2h0M183.7 649.9h0M183.3 640.6h0M183.3 631h0M183.8 627.2h0M183.3 677.1h0M185.6 667.1h0M185.6 663h0M184.9 647.2h0M186.3 676.9h0M187.9 676.8h0M188.8 666.3h0M188.1 663.6h0M189 660h0M187.6 657.9h0M187.2 654.3h0M188.1 648h0M190.8 674.5h0M190.6 660.8h0M190.8 651h0M189.9 647.2h0M190.4 643.4h0M189.6 640h0M190.3 635.1h0M191.1 628.7h0M190 624.5h0M190.5 677.1h0M192.5 671.1h0M192.1 666.2h0M193 654h0M193.1 636.8h0M192.3 635h0M192.4 626.7h0M192.6 677h0M195.3 677.4h0M194.4 669.8h0M195 663.2h0M194.1 661h0M195.2 657h0M195 653.9h0M194.2 649.9h0M194.2 643.5h0M195.7 634.4h0M195.1 677h0M196.4 656.7h0M196.5 653.9h0M197.3 646.4h0M198.1 643.1h0M198.1 611.1h0M197.4 597.4h0M197.5 677.1h0M198.9 676.9h0M200 670.8h0M198.9 663.2h0M199.5 659.6h0M199.7 652h0M200.3 647.2h0M200.5 640.8h0M199.4 634.9h0M199.2 631.5h0M199.3 622.4h0M199.8 617.6h0M200.2 588.7h0M199.7 677h0M201.8 665.3h0M202.3 658.7h0M202.8 647.6h0M202.5 644.7h0M202.6 625h0M202 595.5h0M203.5 676.2h0M204.9 674.8h0M203.6 670.4h0M205.1 656.8h0M204.5 644.1h0M203.9 640.6h0M204.4 634.9h0M203.5 631.6h0M203.5 625.6h0M205.1 615.1h0M204.4 597.9h0M203.9 677h0M207.1 677.7h0M206.9 667.6h0M206.4 660.3h0M206.8 651.3h0M206.3 646.7h0M206.4 640.6h0M207.2 623.5h0M206.7 598h0M206.7 676.8h0M209.1 676.6h0M208.6 669.8h0M209.2 666.4h0M209.1 664.4h0M209.4 658.1h0M208.7 649.7h0M208.5 637.8h0M209.3 630.6h0M208.9 623.6h0M208.8 620.7h0M208.3 607.9h0M209.4 594h0M208.2 569.2h0M209.1 677.2h0M210.7 678.4h0M210.9 666.4h0M210.4 665.1h0M211.1 661.2h0M210.9 630.9h0M211.7 613.5h0M210.9 597.7h0M210.9 582.7h0M211.3 579.4h0M211.2 677.1h0M213.4 674h0M212.7 666.8h0M213.9 663.9h0M213.7 653.2h0M213.9 626.7h0M214.2 611.9h0M213.8 604.5h0M213.9 591.4h0M213.2 676.9h0M215 666.9h0M215.5 654.3h0M216.4 647.5h0M215.6 644h0M216.1 620.4h0M215.4 608.2h0M216.3 677.1h0M218.4 677.5h0M217.2 674.8h0M218.4 670.5h0M218.5 646.6h0M218.6 643.2h0M218.8 628.4h0M218.5 620.5h0M218.5 608.2h0M218.5 676.9h0M219.8 672.8h0M219.9 666.8h0M220.3 663.6h0M219.9 660.8h0M220.9 655.1h0M221.1 624.2h0M221.1 585.3h0M220.8 677.2h0M223.3 672.9h0M221.8 667.6h0M222.6 646.8h0M223 634.2h0M222.6 627.9h0M222.2 617.5h0M222.6 677h0M224.9 671.8h0M224.2 668.3h0M224.1 661.6h0M224.1 641.7h0M225.4 620.6h0M225.1 677.1h0M226.6 676.7h0M226.7 667.8h0M227.2 663.5h0M226.7 657h0M227.6 654.6h0M227.7 643.7h0M227 642.2h0M227.7 621.9h0M227.2 591.2h0M227.9 587.3h0M229.9 678.4h0M228.8 674.4h0M228.8 657h0M228.9 650.5h0M229.1 646.8h0M229.5 644.4h0M229 626.8h0M229.2 611.5h0M229.8 677.1h0M232.2 676.6h0M231.3 674.7h0M230.9 660.3h0M231.4 657.8h0M231.5 645.2h0M231.8 609.2h0M232.6 587.7h0M232.1 584.5h0M231.8 676.8h0M234.1 676.7h0M234.1 664.1h0M234 653.2h0M234.7 648.3h0M234.8 644.3h0M233.7 676.9h0M236.4 673.6h0M236.7 653.3h0M235.8 644.8h0M236.8 630h0M235.8 595.5h0M236.2 677.2h0M326.7 483.5h0M298.4 493.7h0M326.7 516.7h0M329.1 540.4h0M298.8 554.3h0M305.5 558.2h0M299.1 573.4h0M329.4 569.1h0M327 575h0M329.4 579.8h0M339 582.2h0M337.4 587h0M314.3 571.3h0M314.3 577.4h0M319.8 587.3h0M299.9 585.7h0M305.5 591h0M352.6 593.4h0M348.6 599.8h0M297.2 647.2h0M297.1 630.8h0M297.7 627.6h0M297.1 605.6h0M297.3 677.2h0M299.1 664.7h0M299.9 651.2h0M300.6 644.3h0M300.7 640.7h0M300.1 637.1h0M299.4 634.7h0M302.2 676.3h0M302.9 673.1h0M302.6 663h0M302.5 646.5h0M302.5 634.9h0M302.9 592.1h0M301.5 580.5h0M302.2 676.8h0M303.8 676.2h0M304.2 671.8h0M305 667.5h0M303.6 664.4h0M304.8 656.9h0M303.8 645.4h0M304.2 632.1h0M304 626.7h0M304.1 617.2h0M304.5 603.6h0M304.3 676.9h0M306.2 664.1h0M306.8 659.8h0M306 651.9h0M307.1 635.5h0M305.8 630.2h0M307.2 628.1h0M307 620.3h0M306.9 618.2h0M306.3 607.1h0M307.4 601.8h0M306.5 677.3h0M308.9 674.9h0M309.2 656.5h0M309.1 643.3h0M308.9 638.5h0M309.5 621.4h0M308.9 613.6h0M308.2 611.1h0M309.6 608.3h0M308.6 598.9h0M309.2 677h0M310.5 664.2h0M310.8 653h0M311.9 651.8h0M310.4 647.8h0M311.5 645.3h0M311.5 637.2h0M312 631.5h0M310.5 605h0M311.8 597.2h0M311.8 677h0M313.7 676.7h0M312.7 663.8h0M312.9 631h0M314.1 607h0M313.6 590.7h0M313.7 677.1h0M316.3 670.9h0M315.7 654h0M316.7 645.5h0M315 628h0M316.2 592h0M317.6 674.9h0M318.6 669.9h0M318.8 659.6h0M317.9 640.9h0M318.3 634.3h0M318.5 601.4h0M317.7 594.7h0M318.2 676.9h0M320.1 671.2h0M321.1 660.2h0M321.4 626.6h0M321.1 624h0M319.9 621.2h0M319.9 613.4h0M320.2 611.3h0M322.8 676.4h0M322.8 668.1h0M323 663.1h0M322.2 660.8h0M323.1 654.4h0M322.1 631.4h0M322 626.8h0M322.4 621.8h0M323.1 615.8h0M322.5 676.9h0M325.2 673.5h0M325.4 645.3h0M325.1 621.2h0M325.5 617.3h0M325.1 677.2h0M327.6 669.8h0M326.7 666.3h0M326.5 658.1h0M327.9 649.9h0M327.9 648.2h0M327.4 645h0M326.6 633.7h0M326.9 677h0M329.3 667.9h0M329.4 660.7h0M329.3 604.6h0M330.4 599.2h0M330.2 677.3h0M332 666.4h0M332 664.9h0M332.3 659.9h0M331.2 657.7h0M331.6 631.2h0M332.8 617.8h0M331.6 677.2h0M335 671h0M335 663.7h0M335.1 657.9h0M334.7 653.4h0M334.1 636.7h0M334.1 594.4h0M333.7 676.9h0M336.9 666.8h0M336.3 652h0M336.7 644.7h0M336.3 638.2h0M335.8 623.7h0M335.7 611.4h0M335.9 605.2h0M336 601.4h0M336.4 677.3h0M338.8 674.1h0M338.1 671.7h0M339.2 647.5h0M338.5 640.1h0M338.1 613.5h0M341.1 677.6h0M341.5 673.6h0M341.2 667.2h0M340.7 661.3h0M341.2 658.7h0M341.1 630.6h0M341.5 612.3h0M341.7 591.5h0M341.3 676.9h0M343.5 673.9h0M343.1 669.9h0M342.7 667.7h0M344.3 660.6h0M343.9 635h0M343.9 627h0M343.3 615.2h0M342.7 611.1h0M343.9 676.9h0M345.2 673.6h0M345.2 668h0M345 661.6h0M346.2 648h0M345.2 677h0M348.4 667.3h0M347.7 663.8h0M347.3 654.9h0M347.7 640.9h0M347.2 631h0M347.5 677h0M350.5 677.4h0M349.9 673.2h0M350.6 667.8h0M350.6 663.5h0M350.6 658.1h0M349.8 626.8h0M350.2 677.3h0M351.8 678.5h0M353.2 673.9h0M352.7 667.8h0M353.5 663.7h0M351.9 656.5h0M353.2 641h0M352.1 626.8h0M353.2 613.7h0M353.5 610.6h0M353.1 594.5h0M352.2 677.1h0M418.8 486.4h0M418.8 496h0M417.6 504h0M417.6 510.3h0M417.6 515.1h0M410.4 525.2h0M417.6 527.6h0M438.3 530.3h0M447.1 535.9h0M443.1 536.7h0M435.4 542.6h0M447.1 549.5h0M447.9 556.6h0M420 568.1h0M417.6 575h0M424 580.6h0M428.4 586.7h0M418.4 591.8h0M430.3 595h0M424.8 598.2h0M412.8 596.6h0M440.7 602.2h0M447.9 595h0M454.3 591.8h0M455.9 604.6h0M447.9 567.8h0M447.9 575.8h0M452.7 579h0M447.9 586.2h0M533.3 506.3h0M528.5 511.1h0M549.8 506.3h0M549.8 509.5h0M541.3 520.7h0M541.3 524.7h0M508.9 528.7h0M511.8 535.1h0M511.8 539.1h0M537 532.7h0M527.7 537.5h0M511.8 557.9h0M512.6 568.1h0M511.8 583.8h0M517.4 594.2h0M510.2 590.2h0M544.5 559h0M550.1 561.4h0M545.3 571h0M546.9 579.8h0M542.1 590.2h0M547.7 594.2h0M546.9 603.8h0M545.3 610.9h0M550.1 615.7h0M537.3 604.6h0M409.4 670.1h0M408.7 663.8h0M409.8 659.8h0M409.1 654.3h0M409.9 650.4h0M408.7 645.2h0M411.6 653h0M411.5 635.4h0M412.5 631.8h0M411.3 628.4h0M411.8 620.5h0M411.6 610.1h0M412.6 597.5h0M411.5 676.9h0M413.5 674.4h0M414.6 670.4h0M414.2 660.7h0M414.8 657.1h0M414.9 652.1h0M414.4 644.2h0M413.5 638.5h0M413.3 597.4h0M413.9 594.5h0M414.7 677.3h0M416.6 677h0M415.7 674.4h0M416.9 663.7h0M416.2 658.5h0M416.2 655.2h0M417 625h0M416.7 612.2h0M416.4 676.9h0M418.6 671.5h0M419.3 667h0M419 664.3h0M418.1 660.6h0M418 638.5h0M418.7 634.2h0M418.6 621.3h0M418.4 612.1h0M418.5 676.9h0M421.8 669.9h0M420.2 664.5h0M421.7 660h0M420.6 650.4h0M420.5 637.4h0M421.4 629.9h0M420.5 677.1h0M422.7 664.4h0M423.2 677.2h0M425.3 670.3h0M425.4 667.1h0M424.9 661.9h0M425.5 653.9h0M426 648.6h0M425.8 677.1h0M428.5 669.6h0M427.5 663.5h0M427.1 646.6h0M427.3 643.8h0M428.5 640.7h0M427.9 630h0M428.4 676.8h0M429.6 671.5h0M430.6 663.2h0M430.9 660.1h0M430.7 653.9h0M430.4 677.2h0M432.3 676.4h0M432.2 671.8h0M432.1 659.9h0M431.9 653.3h0M431.9 628.1h0M431.8 616.9h0M432.5 677.3h0M435.4 676.1h0M435.7 667.5h0M435.2 663h0M434 651.7h0M435.5 633.2h0M435.3 677.2h0M437.6 657.8h0M436.8 641.3h0M436.8 676.9h0M438.6 669.9h0M438.8 657.3h0M439 654.2h0M438.8 647.5h0M439.7 641.2h0M439.4 627.3h0M438.9 677h0M442.6 677.4h0M442.5 671.2h0M441.6 663h0M442.2 659.9h0M441.4 658.6h0M441.5 654.3h0M441.8 649.9h0M441.4 625h0M442 677.2h0M444.6 671.3h0M443.6 668.2h0M444.9 660.1h0M444.3 658.7h0M443.1 650.2h0M444.3 641.4h0M444.7 637.3h0M444.2 620.4h0M444.9 590.5h0M444.2 589.4h0M443.4 578h0M446.2 677.3h0M446.8 673.3h0M445.6 661.5h0M446.6 654.8h0M445.8 646.6h0M446.5 633.9h0M446.8 620.1h0M446.6 616.9h0M446.2 677.1h0M449.1 676.2h0M449.2 671.5h0M447.9 666.7h0M449.4 664.8h0M447.7 660.9h0M449.4 644.2h0M448.1 636.9h0M448.7 633.8h0M447.9 630.1h0M449.5 616.7h0M448.2 611.3h0M448.2 594.3h0M447.9 583.8h0M448.9 582.7h0M448.1 552.9h0M448.6 677.2h0M450.9 676.2h0M450.2 673.9h0M451.5 653.3h0M451.4 648.2h0M451.5 641.5h0M450.9 677h0M454 678.4h0M452.6 666.7h0M454 658.3h0M452.3 655.4h0M453.8 638.7h0M454 628.1h0M453 677.2h0M454.9 670.1h0M455.4 668.5h0M455 664.7h0M455.1 657.3h0M454.8 654.3h0M455 651.6h0M455.9 626.7h0M455 623.6h0M455 621.9h0M455.4 600.7h0M457.6 670.7h0M458.5 664.2h0M457.3 651.3h0M457.7 617.7h0M458.3 677h0M508.4 676.6h0M508.6 673.1h0M508.6 671h0M508 663.2h0M508.3 654.7h0M507.6 640.2h0M509.1 633.9h0M508.6 631.5h0M508.3 676.8h0M510.6 673.3h0M510.6 667.1h0M510.8 664.6h0M510 661.1h0M510.5 677.1h0M512.3 677.4h0M513.3 658.5h0M512.3 653h0M513.8 651.8h0M512.1 646.7h0M512.8 621.7h0M512.5 608.1h0M512.8 676.9h0M516 669.7h0M515.1 654.8h0M515.5 677.2h0M517.4 673.2h0M518.4 651.6h0M517.1 639.9h0M517.2 677.1h0M519.5 677.1h0M519.2 666.3h0M519.5 658.3h0M520.3 655h0M519.9 614.4h0M520.3 601.6h0M519.5 677.1h0M521.8 678.4h0M522.2 673h0M522.8 667h0M521.5 664.4h0M522.5 660.9h0M522.5 658h0M522.9 655.1h0M522.1 642h0M522.6 635.1h0M521.8 677h0M524.4 678.5h0M524 673.7h0M523.9 667.5h0M524.8 663.2h0M525.2 661.4h0M523.9 650.8h0M525.3 637.1h0M524 610.9h0M523.7 608.9h0M524.9 677.1h0M526.7 677h0M526.8 650.3h0M527.1 641.3h0M526.9 633.5h0M526.8 613.6h0M526.8 606.8h0M526.7 676.9h0M529 673.6h0M529.2 670.5h0M529.1 666.7h0M529.5 661h0M528.8 658.1h0M529.6 655.1h0M528.7 637.1h0M529.1 612.2h0M529 594.3h0M528.7 592.6h0M528.8 677.1h0M531.6 677.9h0M530.9 674.2h0M531.2 646.7h0M531.2 633.2h0M531.8 623.4h0M532.2 620.5h0M531.9 598.1h0M531.8 581.6h0M531.2 677h0M533.1 670h0M533.3 664.9h0M534.1 660.5h0M534.5 658.4h0M533 654.3h0M534.5 650.5h0M532.9 647.6h0M534 641h0M533 608.3h0M533 592.3h0M534.5 568.2h0M533.3 534.7h0M533.9 677.1h0M536.8 671.7h0M536.1 668.3h0M536.6 663.6h0M536.8 658.4h0M536.2 651.1h0M536.7 647.4h0M536.4 641.1h0M536.8 637.2h0M536.4 634.2h0M535.3 614.6h0M536.5 610.9h0M535.6 604.4h0M536 588.6h0M536.6 585.5h0M535.2 579.2h0M536.1 677h0M537.9 667.4h0M539 649.7h0M537.9 644.1h0M538.3 638.4h0M538.7 676.9h0M541.4 676.9h0M541 671.6h0M541.2 656.8h0M541.2 654.3h0M541.3 648h0M539.7 631.3h0M540.9 594.6h0M540.9 677.2h0M543.4 674.3h0M542.7 666.3h0M543.8 647.3h0M542.1 642h0M542.9 638.2h0M542.4 604.4h0M542.8 677.2h0M544.8 659.9h0M545.2 656.4h0M544.6 651.6h0M545 638.6h0M545 633.8h0M544.6 631.7h0M546.1 607.4h0M545.3 597.2h0M545.2 677h0M548.2 678h0M547.1 670h0M547.3 663.4h0M547.4 658.1h0M547.5 650.2h0M546.7 640.7h0M548.1 638.8h0M547.9 677.2h0M549.4 677.3h0M549.2 654.7h0M550.4 635.3h0M549.2 611.4h0M549.2 595.5h0M549.2 676.8h0M599.9 487.2h0M598.3 494.4h0M604.7 503.2h0M603.1 510.3h0M599.1 513.5h0M599.1 521.5h0M599.1 527.9h0M599.1 535.1h0M599.1 547.1h0M599.9 555h0M606.3 562.2h0M599.9 569.4h0M603.9 574.2h0M598.3 580.6h0M607.9 583.8h0M607.1 588.6h0M618.3 577.4h0M616.7 595h0M607.9 599h0M600.7 599.8h0M594.3 610.9h0M628.7 537.5h0M631.9 544.7h0M628.7 550.3h0M628.7 558.2h0M628.7 566.2h0M628.7 575.8h0M628.7 583.8h0M631.9 595h0M674.2 595h0M675.3 515.9h0M691.7 503.6h0M695.7 509.5h0M692.5 514.3h0M693.3 522.3h0M683.8 534.3h0M698.1 535.9h0M702.1 542.3h0M685.3 547.9h0M698.9 554.3h0M689.3 550.3h0M694.9 561.4h0M682.2 569.4h0M686.1 574.2h0M697.3 577.4h0M678.2 583.8h0M690.9 583.8h0M705.3 590.2h0M705.3 599h0M706.9 607.7h0M709.3 618.9h0M674.2 622.1h0M594.2 674.3h0M593.1 666.5h0M593.7 647.1h0M593.7 633.3h0M593.2 676.9h0M595.9 668.6h0M596.1 664.9h0M596.7 657.1h0M595.8 647.1h0M595.7 603.9h0M596.4 598h0M595.2 677.2h0M597.4 673.4h0M598.5 670.8h0M598.5 667.1h0M597.3 664.8h0M597.4 647.6h0M597.7 638.8h0M597.6 594.5h0M597.4 591h0M598.3 588.3h0M598.4 677.1h0M600.1 673.2h0M599.6 667.3h0M600.9 663h0M600 659.9h0M600.6 643.5h0M600.8 624.1h0M601 608.4h0M602.5 666.5h0M603.4 658.5h0M603.4 654.7h0M602 651.2h0M603 633.9h0M602.6 630h0M603.5 625.7h0M602.4 611.2h0M603 608.8h0M602.4 602.3h0M603.1 676.9h0M605.9 677.5h0M604.7 670.8h0M604.8 667h0M605.6 664.3h0M604.6 653.4h0M604.3 648.4h0M605.8 643.9h0M604.6 677h0M607 674.4h0M606.8 663.3h0M607.1 661.4h0M607.7 653.5h0M606.8 648.4h0M606.9 634.8h0M607.2 630.9h0M606.9 627.2h0M607.8 677.2h0M609.6 677.1h0M609.5 673.1h0M609.7 646.4h0M609.4 640.7h0M609.6 631.9h0M610.2 615.3h0M610.3 611.3h0M609.8 677.2h0M612.4 655h0M611.2 651.9h0M611.1 647.3h0M611.8 638.5h0M611.8 635.5h0M612 627.1h0M612.5 625.5h0M611 617.5h0M612.6 611.2h0M611.8 603.8h0M611.6 595.9h0M612 677.1h0M613.8 670.5h0M615 656.7h0M613.5 651.3h0M613.5 640h0M613.6 634.3h0M613.7 604.8h0M614.9 602.2h0M614 677.1h0M615.7 676.3h0M615.9 673.8h0M615.8 670.9h0M616.8 664.2h0M617.1 661h0M616.5 656.4h0M617.2 653.9h0M616.4 648.5h0M617.1 630.5h0M616.3 676.8h0M618.8 669.9h0M619.7 665.1h0M619.5 660.7h0M617.9 650.4h0M618 639.8h0M618.2 638.8h0M618.7 627.2h0M618 608.5h0M618.7 676.8h0M621 673.3h0M621.6 658h0M620.9 648.1h0M621.9 644.8h0M621.8 625.5h0M621.4 614.4h0M620.7 676.9h0M623.3 676.7h0M622.6 673.1h0M622.9 670.3h0M623.2 646.9h0M624.1 610.3h0M622.9 677.2h0M624.8 666.6h0M626.4 657.3h0M625.5 638.8h0M625.6 625.7h0M624.8 580.7h0M626.4 571.9h0M625 538.8h0M625 536.5h0M625.2 676.9h0M627.5 678.1h0M628.8 673h0M627.3 671.8h0M627.5 667.1h0M628.2 663.9h0M627.4 635h0M627.3 628.5h0M627.8 621.4h0M628.7 582.3h0M627.9 561.3h0M627.2 514.7h0M627.3 512.1h0M627.4 677.2h0M630.4 676.9h0M630.8 667.4h0M630 657.1h0M629.4 653.9h0M629.5 637.9h0M630.2 630.8h0M630.6 615.4h0M630.9 609h0M630.4 604.2h0M629.6 582.1h0M630 560.6h0M631.1 550.7h0M632.7 677.1h0M631.8 657.3h0M632.2 652.1h0M632.1 638.4h0M631.8 592.4h0M632 581.3h0M632.1 571.4h0M632.7 569.2h0M673.9 678h0M674 672.9h0M674.8 668.3h0M674.9 657.9h0M674.3 677h0M675.4 673.5h0M675.7 670.6h0M675.4 664h0M675.7 657.1h0M677 650.2h0M676.9 626.8h0M675.9 677h0M678.1 671.8h0M678.7 658.6h0M678.2 654.5h0M677.9 630.4h0M679.1 608.3h0M678.8 585.7h0M678 576h0M679.1 677h0M680.7 668.3h0M680.7 664.7h0M681.3 661.1h0M681.7 650.9h0M680.6 648.5h0M680.1 644.4h0M681.2 635.4h0M680.6 624.2h0M681.6 613.5h0M681.4 591.7h0M680.5 587.3h0M680.4 583.9h0M680.8 562.9h0M680.9 677h0M683.7 667.9h0M682.5 661.5h0M683.5 653.7h0M683.9 651.1h0M682.3 645h0M683 628.4h0M683.3 621.6h0M683.6 618.8h0M682.3 611.5h0M682.6 584.8h0M683.3 564.1h0M683 562.7h0M682.6 677.1h0M686.3 668.2h0M685.9 660.3h0M685.5 654.3h0M685.4 645.2h0M686.1 636.9h0M686.1 622.1h0M686 608.1h0M684.9 677.2h0M688.3 671h0M687.5 665.3h0M688.7 660.4h0M688.3 657.2h0M687.6 653.8h0M687.5 651h0M687 648.7h0M687.4 636.7h0M687.7 623.7h0M688.4 605.7h0M688.2 676.9h0M690.5 664.8h0M689.5 661.8h0M690.5 654.2h0M690.6 637.8h0M689.8 635.2h0M690.1 626.9h0M689.6 623.3h0M690 677.2h0M692.6 677.8h0M691.8 675h0M692.2 671.7h0M692.9 653.6h0M692.9 643.2h0M692.6 641.7h0M693 633.8h0M692 620.5h0M691.5 611.9h0M692.9 571.1h0M691.9 567.9h0M692.5 564.5h0M692.1 551.6h0M692.8 541.1h0M692.4 677.2h0M694.8 668h0M695.2 665h0M694.3 657.9h0M695 591.3h0M695.5 582.5h0M694.2 676.8h0M696.3 665h0M697.3 660.4h0M696.9 651h0M697.6 647.5h0M697.7 638.8h0M697.6 630.1h0M697.3 677h0M698.8 667.8h0M699.4 605.2h0M699.8 600.8h0M699.8 677h0M702.2 673.8h0M701 649.9h0M702.5 641.2h0M701.5 637.4h0M703.2 677.6h0M703.8 666.3h0M704.1 663.2h0M703.6 661.3h0M703.8 657.1h0M703.2 654.6h0M703.5 640.5h0M704.2 628.1h0M703.5 614h0M704.2 676.8h0M705.5 668.3h0M706.8 657.1h0M706.6 650.4h0M706 648.8h0M705.4 641.7h0M705.9 622.1h0M706.7 676.8h0M709.2 677.1h0M708.9 674.2h0M708.3 670.5h0M708.4 664h0M709.3 643.4h0M708 637.1h0M708.9 621.4h0M708 677.3h0M710.7 677.6h0M710.6 670.6h0M711.4 664.8h0M711 660.6h0M710.5 656.5h0M710.6 648.5h0M710.2 677h0M713.6 673.8h0M712.9 654.5h0M712.3 645.1h0M713.2 636.6h0M713 634h0M713 627.3h0M713.6 676.9h0M759.9 482.4h0M759.9 490.4h0M759.9 508.4h0M759.1 517.5h0M774.3 530.8h0M779.1 531.9h0M759.9 545.5h0M759.9 550.3h0M759.9 560.6h0M759.9 567h0M778.8 563.4h0M755.9 577.4h0M762.3 584.6h0M761.5 593.4h0M763.1 602.2h0M775.9 591.8h0M775.9 598.2h0M775.9 606.1h0M779.1 615.7h0M780.7 626.9h0M811.8 563.8h0M815.5 488.3h0M827 516.7h0M827.3 520.7h0M828.6 531.1h0M830.2 535.1h0M830.2 539.1h0M817.7 541.2h0M828.6 545.5h0M831.8 550.3h0M835 554.3h0M815 553.5h0M827.8 566.2h0M815.8 566.2h0M815.8 578.2h0M819 582.2h0M812.6 585.4h0M827.8 575.8h0M827.8 585.4h0M815.8 595h0M835 591.8h0M831.8 617.3h0M863.7 505.5h0M874.1 500h0M876.5 505.5h0M873.3 515.1h0M863.7 528.7h0M872.5 526.3h0M878.1 532.7h0M864.5 543.9h0M873.3 542.3h0M865.3 551.9h0M873.3 559h0M878.1 566.2h0M863.7 574.2h0M878.1 579h0M754.7 673.4h0M753.5 667.8h0M753.7 664.9h0M755 641.9h0M754.5 622h0M753.4 615.7h0M754.8 608.6h0M753.7 605.7h0M754.7 592h0M754.6 572.9h0M753.8 677.2h0M756.1 677.7h0M756.9 674.7h0M757.2 666.8h0M755.9 660.6h0M756.8 658.2h0M756.9 653.1h0M756.9 638.6h0M756.1 625h0M757.1 676.9h0M759.3 674.3h0M758.1 658.3h0M758.8 653.9h0M758.5 633.4h0M758.8 598.9h0M758.1 588.9h0M759.2 676.9h0M761.3 671.8h0M761.1 659.7h0M760.8 658.1h0M760.6 654.9h0M761.8 638.4h0M761.9 620.2h0M761.5 677.3h0M764.2 674.1h0M763.1 671h0M763 668.4h0M763.6 650.5h0M764.4 647.4h0M763.8 634.4h0M763 626.6h0M763.2 677.2h0M766.7 674.6h0M765.9 666.3h0M765.7 661.1h0M766.4 635.1h0M766 676.9h0M768.3 676.9h0M768 674h0M767.6 664.1h0M769 657.8h0M767.3 643.7h0M768 641.1h0M768.3 677.2h0M770.9 673.1h0M770.5 671.6h0M769.9 660.2h0M770.9 648.6h0M770.9 641.9h0M769.6 635.5h0M770.5 631.2h0M770.1 626.6h0M770.2 611.9h0M770.7 600.3h0M770.9 599h0M770.3 584.8h0M772.9 675.1h0M772.3 653h0M773 650.7h0M772.3 648h0M772.4 644.2h0M773.2 634h0M773 631.9h0M773 627.2h0M773.5 611.4h0M772.7 595.9h0M772.7 591.5h0M772.5 677.2h0M775.5 677.5h0M775.7 674.1h0M775.8 671.6h0M774.7 663.1h0M774.8 650.7h0M774.2 633.9h0M774.9 677.2h0M777.6 654.7h0M777.3 647.4h0M776.7 642.1h0M777.3 638.5h0M778.1 634.8h0M777.5 677.2h0M779.4 671.3h0M779.4 667.1h0M779.8 657.2h0M779.1 655.3h0M778.8 644.3h0M779.1 638.2h0M779.3 633.8h0M779.5 631.2h0M780 676.9h0M781.9 674.1h0M782.4 669.7h0M782.2 667.1h0M782.3 664h0M781.3 653.9h0M781.6 651.2h0M781.1 640.6h0M781.6 638h0M782.2 632h0M781.2 626.9h0M782.2 620.7h0M782.1 677.1h0M812.4 676.2h0M812 663.9h0M811.5 654.6h0M812.1 651.4h0M812.6 644.1h0M811.9 639.9h0M812.3 636.8h0M812.4 626.7h0M812.7 608.6h0M812.6 605.2h0M812.4 677.1h0M814.3 678.1h0M815.2 667.5h0M815 656.6h0M813.8 651.8h0M814.6 643.8h0M815.1 633.9h0M815.3 611.4h0M816.1 678h0M817.6 660.5h0M816.8 654.3h0M816.7 651.8h0M816.7 642.2h0M816.9 632.3h0M819.6 677.8h0M819 656.5h0M818.6 651.3h0M820.2 623.5h0M820.1 617.9h0M819 580.5h0M819.2 579.3h0M821.4 673.9h0M821 669.9h0M820.7 646.6h0M820.8 640h0M822.4 614.4h0M821.1 598.6h0M822.2 587.6h0M821.5 564h0M821.8 677h0M823 674.7h0M823.7 667.5h0M824 657.2h0M824.5 654.5h0M823.1 633.2h0M824.6 624.7h0M824.1 615.4h0M823.1 597.6h0M824 676.8h0M826 669.8h0M825.8 666.5h0M826.8 664.4h0M826.2 641.1h0M826.7 637.4h0M826.1 630.7h0M825.9 628.1h0M825.7 615.4h0M826.2 601.7h0M826.3 595.2h0M826.9 577.7h0M826.4 676.9h0M827.6 671.5h0M828 615.3h0M829.2 607.1h0M828.2 604.2h0M827.9 588.7h0M831.2 670.6h0M830.1 666.8h0M830.2 661.5h0M831.3 645.1h0M829.9 634h0M830.9 598.2h0M830 570.5h0M831.3 677.2h0M833.1 675.2h0M832.3 660.1h0M833.3 658.3h0M833.2 640.2h0M833.1 636.9h0M833.8 627.8h0M832.4 623.7h0M832.7 615.5h0M832.7 677.1h0M834.5 667.7h0M836.1 657.7h0M835.9 654.5h0M835.1 644.7h0M835.1 634.5h0M834.8 632h0M835.4 620.4h0M835.4 617.9h0M836.1 598.6h0M835 676.9h0M837.1 677h0M837.6 657.1h0M837.9 653h0M836.9 650.4h0M836.8 644.5h0M837.5 637h0M837.6 623.5h0M837.4 677.1h0M865.6 674.9h0M865.7 670.5h0M865.2 665.3h0M864.9 657.7h0M865.3 654.1h0M864.9 648.1h0M866.1 634.1h0M865.8 614.8h0M865.6 612.3h0M865.7 677.2h0M868 660.6h0M868.1 656.3h0M866.9 654.2h0M866.9 634.5h0M868 630.3h0M867.9 617.4h0M867 677.2h0M869.8 660.5h0M870.6 631.5h0M870.1 623.3h0M869.7 622h0M872.6 677.8h0M871.8 666.8h0M872.8 663.4h0M872.8 654.5h0M872.1 650.6h0M872.6 645.3h0M871.7 627.8h0M872.6 619h0M871.5 614.6h0M872.9 604h0M873 601.3h0M872.2 578.9h0M871.6 677h0M874.3 675.1h0M874.8 668.5h0M874.1 663.6h0M874.2 657.1h0M875 651.8h0M873.8 631h0M873.9 628h0M873.9 677h0M877.3 673h0M877.7 668h0M876.7 665.2h0M876.2 656.5h0M876.2 654.5h0M877.2 651h0M877.5 638.4h0M876.5 629.9h0M876.9 615.1h0M877.5 611h0M876.8 595.9h0M877.3 581.8h0M876.7 572.3h0M876.6 676.8h0M878.4 671.5h0M879.2 666.8h0M879.2 662h0M879.6 654.1h0M878.7 643.3h0M879 638.4h0M879.8 631.6h0M879.4 627.8h0M879.1 610.3h0M878.7 603.9h0M878.3 590.4h0M878.9 677h0M909.1 530.3h0M913.3 512.3h0M921.7 519.5h0M906.7 557.2h0M918.7 559.6h0M913.3 566.8h0M920.5 569.8h0M919.9 574.6h0M906.7 575.2h0M910.3 587.8h0M910.3 593.8h0M919.3 587.8h0M922.9 586.6h0M916.3 596.8h0M921.7 602.2h0M910.3 609.3h0M918.7 608.7h0M920.5 616.5h0M916.3 621.3h0M907.9 627.9h0M919.9 626.1h0M943.5 494.1h0M943.6 513.5h0M950.4 514.1h0M943.6 519.5h0M943.6 524.3h0M943.6 530.3h0M950.4 565h0M952.2 578.2h0M947.4 581.8h0M950.4 596.8h0M952.2 605.7h0M952.2 612.9h0M879.7 675h0M880.8 667.8h0M879.8 654.4h0M879.9 651.5h0M880.4 643.1h0M880.5 630.3h0M881.1 628.7h0M880.5 624.8h0M880.4 620.9h0M880.2 617.4h0M881.1 608.4h0M880.8 597.8h0M880.1 582.6h0M880.2 571.8h0M880.2 564.5h0M880.6 677.1h0M882.2 672.9h0M882.9 667h0M883.3 660.2h0M883.1 658h0M882.2 646.8h0M882.2 644h0M882.2 633.5h0M881.8 611.6h0M882.3 597.2h0M882.8 677.1h0M884.4 670.8h0M884.5 664h0M884.7 661.8h0M884.8 657.3h0M885 654.7h0M885.5 643.4h0M885.6 638.8h0M884.4 631.1h0M885.4 617.5h0M885.3 614.4h0M884.9 599.3h0M884.6 677.1h0M906 660.1h0M906.5 656.4h0M905.5 654.7h0M905 650.2h0M905.5 634h0M906.2 676.9h0M908.6 667.4h0M907.5 661h0M908 654.7h0M907.2 634.1h0M908.5 620.2h0M907.5 677.2h0M909.9 670.2h0M910.9 660h0M909.7 651.5h0M909.7 644.4h0M910.5 641.8h0M910.1 638.7h0M910.1 631.2h0M910.4 677h0M912.4 676.4h0M912.9 667h0M913 661.1h0M913.3 657.3h0M912.8 646.7h0M911.8 627.1h0M912.2 677h0M915.2 668.1h0M914.8 647.6h0M914.1 631.8h0M914.5 676.8h0M917.7 676.8h0M917 674.3h0M916.5 664.3h0M917.7 654h0M917.5 627.6h0M917.1 677.2h0M918.8 673.8h0M920.1 659.7h0M919.4 623.4h0M919.5 677.2h0M921.2 674h0M921.8 671.5h0M922.5 663.3h0M921.5 658.5h0M922 677h0M923.7 671.5h0M924.2 656.5h0M923.6 677.3h0M940.3 672.8h0M939.7 650.8h0M940.5 648.4h0M939.5 644.1h0M940.2 676.9h0M941.8 674h0M942.7 670.5h0M941.9 660.2h0M943.2 656.9h0M942.9 647.9h0M943.1 634.1h0M941.8 631h0M943 627.3h0M941.9 625.1h0M942.1 589h0M942.4 677h0M945.5 673.4h0M944.2 670.7h0M945.6 664.3h0M945.4 645.1h0M944.5 636.5h0M944.8 599.2h0M945.5 590.5h0M945 588.4h0M944.5 564.4h0M945.3 676.9h0M947.9 654.9h0M946.8 622.2h0M946.2 605h0M947.5 594.2h0M947.2 581h0M947.5 576.1h0M946.5 676.8h0M949.4 669.7h0M949.9 666.7h0M948.7 658.6h0M949.8 654.3h0M949.1 640.8h0M950 638.3h0M949.8 623.5h0M952.2 677h0M951.7 667.6h0M950.9 662.9h0M951.7 660.9h0M951.7 646.9h0M951.4 640.6h0M951.3 677h0M234.9 389.4h0M234.9 402.2h0M234.9 406.4h0M234.9 410.5h0M234.9 426.2h0M234.9 430.9h0M234.9 435.7h0M234.9 440.5h0M234.9 450.1h0M207.8 440.5h0M207.8 445.3h0M207.8 450.1h0M207.8 456.5h0M207.8 465.4h0M199.8 449.5h0M298.5 401.2h0M309.3 448.5h0M417.6 397.4h0M417.6 415h0M414.4 472.5h0M419.2 470.9h0M435.8 473.4h0M601.2 415h0M603.8 423h0M603.8 441.5h0M615.6 436.7h0M597.4 452.7h0M599.6 450.8h0M600.6 465.8h0M611.4 469.3h0M693.2 419.8h0M693.2 422.3h0M708.2 440.8h0M694.5 458.4h0M943.4 370.4h0M943.4 373.4h0M943.4 386.2h0M943.4 389.8h0M943.4 394.3h0M943.4 403.9h0M943.4 418.3h0M943.4 422.8h0M943.4 427.2h0M943.4 431.7h0M943.4 436.2h0M943.4 440.7h0M943.4 445.2h0M943.4 448.2h0M943.4 454.8h0M917.1 410.2h0M917.1 415.3h0M767.7 406.9h0M708.4 441h0M759 446.1h0M837.7 440.7h0M827.5 464.1h0M876.9 469.5h0M760.5 467.7h0M760.5 476.6h0M883.2 202.3h0M883.2 215.5h0M883.2 235.7h0M883.2 330.1h0M885.4 340.6h0M195.3 575h0M197.3 578.2h0M195.2 597.4h0M194.7 600.6h0M196 607h0M196.8 613.4h0M194.9 616.6h0M195.3 619.8h0M196.6 626.2h0M195 629.4h0M197.1 632.6h0M194.7 635.8h0M196.3 639h0M196.6 642.2h0M195.5 645.4h0M196.4 655h0M196.4 661.4h0M195.9 664.6h0M195.3 671h0M199.3 572h0M201.1 575.2h0M198.6 578.4h0M200.1 588h0M199.4 594.4h0M198.7 607.2h0M199.8 610.4h0M200.2 639.2h0M199.1 642.4h0M200 652h0M201.2 664.8h0M200.5 671.2h0M201.5 674.4h0M203.4 575h0M202.6 578.2h0M205.6 587.8h0M202.5 594.2h0M204.6 597.4h0M203.3 600.6h0M203 626.2h0M203.1 635.8h0M203.5 639h0M204.1 642.2h0M205.3 648.6h0M202.9 655h0M204 658.2h0M202.9 661.4h0M204.1 664.6h0M203 674.2h0M209.2 572h0M208.5 578.4h0M208.2 584.8h0M209.5 591.2h0M208.2 594.4h0M207.2 600.8h0M208.2 604h0M208.8 613.6h0M208.2 616.8h0M209.4 620h0M209.3 623.2h0M209.5 639.2h0M208.2 642.4h0M207.8 658.4h0M207.1 664.8h0M209.1 668h0M209.6 671.2h0M212.6 578h0M211.5 584.4h0M213.3 590.8h0M212.6 594h0M211.5 606.8h0M213.5 613.2h0M212.5 619.6h0M210.7 622.8h0M210.6 629.2h0M212.8 638.8h0M210.9 642h0M210.5 645.2h0M210.8 648.4h0M210.5 654.8h0M211.9 658h0M212.6 670.8h0M210.9 674h0M180 600h0M178.8 612.8h0M181.3 622.4h0M180.2 625.6h0M178.5 635.2h0M178.5 644.8h0M178.7 648h0M178.6 654.4h0M178.8 664h0M180.7 667.2h0M179.2 670.4h0M179.9 676.8h0M309.1 569h0M308.9 581.8h0M309.2 585h0M309.7 594.6h0M308.6 597.8h0M310.2 601h0M309.3 604.2h0M310.7 607.4h0M311 610.6h0M309.8 617h0M309.1 620.2h0M311.1 623.4h0M308.8 639.4h0M310.2 649h0M310.9 655.4h0M308.7 658.6h0M311.6 661.8h0M314.1 570h0M312.5 582.8h0M314.2 589.2h0M312.8 618h0M312.5 624.4h0M313.2 630.8h0M314.3 640.4h0M315.1 643.6h0M314.5 650h0M313.6 656.4h0M313.4 659.6h0M313.1 662.8h0M313 672.4h0M313 675.6h0M320.5 575h0M317.8 594.2h0M319.9 597.4h0M318.7 607h0M318.5 619.8h0M319.9 632.6h0M317.7 635.8h0M317.7 639h0M319.3 651.8h0M319.8 658.2h0M318.4 661.4h0M322.1 580h0M322.6 583.2h0M324.1 586.4h0M322.7 592.8h0M323.1 605.6h0M322.8 608.8h0M324.6 637.6h0M323.4 640.8h0M322.4 653.6h0M321.9 660h0M324.4 672.8h0M448.9 548h0M451.3 554.4h0M451.4 557.6h0M450.6 560.8h0M449.8 570.4h0M450.6 573.6h0M449.7 576.8h0M449.2 580h0M451.5 586.4h0M451 589.6h0M450 592.8h0M450.8 596h0M450.2 608.8h0M453.5 560h0M450.8 566.4h0M451.2 569.6h0M450.6 572.8h0M451.7 576h0M452.9 579.2h0M452.5 595.2h0M450.4 608h0M451.2 617.6h0M529.4 540h0M529.6 549.6h0M529.7 552.8h0M528.8 559.2h0M528.7 562.4h0M530.1 565.6h0M530.7 568.8h0M530.2 575.2h0M528.8 578.4h0M528.4 581.6h0M529.5 584.8h0M530.6 588h0M529.9 594.4h0M528.9 597.6h0M529.6 600.8h0M531.4 613.6h0M528.7 616.8h0M529.4 620h0M531.1 629.6h0M531 632.8h0M529.9 636h0M530.3 642.4h0M529.6 652h0M528.6 655.2h0M529.4 664.8h0M533.6 534h0M533.7 537.2h0M533.7 543.6h0M534.3 546.8h0M532.6 559.6h0M532.9 575.6h0M534.9 588.4h0M535.4 591.6h0M534.9 598h0M533 601.2h0M532.8 604.4h0M535.4 607.6h0M533.7 610.8h0M532.8 614h0M534 617.2h0M535.6 623.6h0M533.4 626.8h0M534.5 630h0M535 636.4h0M533.6 642.8h0M535.1 646h0M532.9 655.6h0M534.2 658.8h0M532.7 671.6h0M538.7 545h0M538.4 548.2h0M536.6 564.2h0M538.8 567.4h0M538.9 573.8h0M538.9 577h0M536.9 583.4h0M539.1 586.6h0M539 589.8h0M538.5 599.4h0M538.2 602.6h0M536.5 605.8h0M536.5 615.4h0M537.6 621.8h0M538.4 641h0M536.5 647.4h0M537.2 653.8h0M537.6 657h0M537.9 660.2h0M537 663.4h0M539.4 673h0M537 676.2h0M599.7 486h0M600.3 489.2h0M600.4 492.4h0M600.2 495.6h0M599.8 498.8h0M598.5 505.2h0M600.8 518h0M601 524.4h0M599.6 527.6h0M599.3 530.8h0M598.6 546.8h0M600.3 550h0M598.8 556.4h0M599.6 562.8h0M600 566h0M599.3 569.2h0M599.6 575.6h0M603.5 500h0M602.8 503.2h0M604.3 516h0M601.7 519.2h0M602.6 532h0M604.3 541.6h0M602.5 551.2h0M604.5 554.4h0M604.5 560.8h0M602.1 573.6h0M604.4 580h0M603.3 586.4h0M604.2 589.6h0M628.7 536h0M627.9 542.4h0M628.4 555.2h0M630.5 558.4h0M630.4 564.8h0M629.1 568h0M630.5 574.4h0M628 577.6h0M629.4 580.8h0M627.7 584h0M630.1 587.2h0M630.1 600h0M628.5 606.4h0M629.2 609.6h0M593.4 604.6h0M593.1 636.6h0M593.4 646.2h0M593 649.4h0M593.2 665.4h0M686.3 535h0M685.2 538.2h0M687 544.6h0M685.4 554.2h0M685.2 560.6h0M685.1 563.8h0M685.4 567h0M684.8 576.6h0M685.3 579.8h0M684.9 592.6h0M686.2 602.2h0M685.8 605.4h0M684.8 608.6h0M686.2 611.8h0M687.5 618.2h0M687.3 621.4h0M687.4 627.8h0M684.6 631h0M686.5 634.2h0M687.1 637.4h0M691.4 502h0M689.1 505.2h0M689.3 508.4h0M691 511.6h0M689.1 527.6h0M691.1 530.8h0M690.3 534h0M690.9 540.4h0M689.6 546.8h0M690.1 553.2h0M689.4 556.4h0M690.8 562.8h0M689.4 566h0M691.5 575.6h0M688.4 582h0M691.2 585.2h0M688.4 588.4h0M689.9 604.4h0M691.1 607.6h0M688.8 610.8h0M690.7 614h0M689.2 620.4h0M688.6 623.6h0M688.8 626.8h0M691.5 633.2h0M689.6 636.4h0M692.9 531h0M694.3 543.8h0M693.3 556.6h0M692.8 563h0M693.8 569.4h0M695.2 582.2h0M694.8 585.4h0M692.8 595h0M694 598.2h0M695.1 601.4h0M694.2 607.8h0M693 611h0M693.2 617.4h0M693.4 620.6h0M694 623.8h0M695.1 636.6h0M699.3 545h0M696.5 548.2h0M698.5 554.6h0M699 557.8h0M697 561h0M696.9 564.2h0M697 567.4h0M699.4 570.6h0M698.8 573.8h0M696.9 577h0M698.7 583.4h0M697.6 586.6h0M697.5 589.8h0M698.6 599.4h0M697.6 602.6h0M698.5 605.8h0M698.2 609h0M698.8 612.2h0M697.4 615.4h0M698.6 618.6h0M699.2 621.8h0M699.5 625h0M699.3 634.6h0M702.2 589h0M703 595.4h0M703.5 598.6h0M701.8 614.6h0M703.2 621h0M702.3 633.8h0M703.2 637h0M702.8 649.8h0M702 653h0M701.2 659.4h0M702.9 662.6h0M703.1 665.8h0M702.9 672.2h0M702.6 675.4h0M707.1 589h0M705.2 595.4h0M705.4 598.6h0M705.5 601.8h0M705.9 605h0M704.4 608.2h0M705.7 611.4h0M706.2 614.6h0M706.4 621h0M706.2 630.6h0M707.2 633.8h0M705.9 637h0M706.9 640.2h0M707.5 646.6h0M706 656.2h0M707.2 665.8h0M705.8 669h0M706.6 675.4h0M711.1 590h0M708.9 596.4h0M709.2 602.8h0M709.9 606h0M711.6 609.2h0M710.3 615.6h0M709.3 625.2h0M708.8 631.6h0M708.5 638h0M710.8 644.4h0M708.8 647.6h0M711.1 654h0M711.4 657.2h0M711.1 660.4h0M714.6 592h0M714.6 595.2h0M713.1 604.8h0M713.4 611.2h0M712.4 614.4h0M715.3 620.8h0M715 624h0M715.1 633.6h0M713.4 636.8h0M715.5 640h0M715.5 646.4h0M712.6 649.6h0M712.6 675.2h0M758.3 573h0M755.5 579.4h0M756.8 585.8h0M758.4 589h0M756.8 592.2h0M756.9 598.6h0M756.2 601.8h0M756.4 608.2h0M756.9 614.6h0M756.5 617.8h0M756.3 621h0M756.8 624.2h0M756.3 630.6h0M756.3 633.8h0M758.1 640.2h0M758.5 643.4h0M757.6 646.6h0M756.3 665.8h0M757.6 672.2h0M760.6 570h0M758.5 576.4h0M761 579.6h0M759.4 589.2h0M759.7 595.6h0M759.3 598.8h0M760.7 605.2h0M761.1 608.4h0M761.4 614.8h0M761.4 618h0M761.6 621.2h0M761.4 640.4h0M758.7 653.2h0M759.1 659.6h0M759.7 669.2h0M761.4 672.4h0M759.3 675.6h0M827.2 520h0M826 523.2h0M826.4 532.8h0M826 536h0M827.5 539.2h0M826.1 542.4h0M828.2 545.6h0M828.6 548.8h0M828.1 561.6h0M825.8 571.2h0M826.4 577.6h0M828.3 580.8h0M827.2 584h0M837.3 578h0M838 587.6h0M836.7 610h0M838 629.2h0M837.5 632.4h0M837.8 670.8h0M874.1 545h0M873.6 548.2h0M876.1 551.4h0M875.1 554.6h0M876.3 557.8h0M874.2 564.2h0M874.4 570.6h0M875.4 573.8h0M875.9 583.4h0M876.1 589.8h0M874.7 599.4h0M873.6 615.4h0M873.9 618.6h0M876.3 621.8h0M876.2 628.2h0M875.3 634.6h0M876.5 647.4h0M873.8 650.6h0M873.9 653.8h0M876.5 669.8h0M874.4 673h0M944.3 511h0M942.6 527h0M944.7 533.4h0M943.1 555.8h0M944.6 559h0M942.7 565.4h0M942.1 568.6h0M942.2 575h0M944.9 578.2h0M943 581.4h0M942.8 584.6h0M944 587.8h0M944.9 591h0M944.3 594.2h0M944.7 597.4h0M942.9 603.8h0M943.5 607h0M944.2 610.2h0M941.9 616.6h0M943.4 619.8h0M943.3 623h0M944.9 632.6h0M943.5 635.8h0M944.3 645.4h0M942.7 651.8h0M942.3 658.2h0M942.7 667.8h0M942.7 671h0M946.5 560h0M948.4 563.2h0M945.6 566.4h0M947.8 569.6h0M947.4 572.8h0M948.2 576h0M946 582.4h0M945.6 588.8h0M946.6 617.6h0M947.5 620.8h0M945.9 633.6h0M947.2 636.8h0M946.7 643.2h0M948.5 646.4h0M946.5 649.6h0M947.1 656h0M948.3 672h0M946.7 675.2h0" stroke="#FFA500" stroke-width="7.1" stroke-linecap="round" fill="none"/>
<path d="M803.3 397.9h0M803.1 79.8h0M883.2 88.5h0M883.2 125.9h0" stroke="#1E90FF" stroke-width="7.1" stroke-linecap="round" fill="none"/>
<path d="M48 50.2V707.6H995" stroke="#262626" stroke-width="2" fill="none" stroke-linecap="butt"/>
<path d="M48 267.2H995" stroke="#000" stroke-width="2" stroke-dasharray="5 5" fill="none"/>
<path d="M44.6 102.6H48" stroke="#333" stroke-width="1.5"/>
<text x="42" y="108.2" class="yt">10</text>
<path d="M44.6 267.2H48" stroke="#333" stroke-width="1.5"/>
<text x="42" y="272.8" class="yt">8</text>
<path d="M44.6 431.8H48" stroke="#333" stroke-width="1.5"/>
<text x="42" y="437.4" class="yt">6</text>
<path d="M44.6 596.4H48" stroke="#333" stroke-width="1.5"/>
<text x="42" y="602" class="yt">4</text>
<path d="M128.1 707.6v3.4" stroke="#333" stroke-width="1.5"/>
<text x="128.1" y="723.8" class="xt">1</text>
<path d="M200.6 707.6v3.4" stroke="#333" stroke-width="1.5"/>
<text x="200.6" y="723.8" class="xt">2</text>
<path d="M266.8 707.6v3.4" stroke="#333" stroke-width="1.5"/>
<text x="266.8" y="723.8" class="xt">3</text>
<path d="M325.1 707.6v3.4" stroke="#333" stroke-width="1.5"/>
<text x="325.1" y="723.8" class="xt">4</text>
<path d="M380.5 707.6v3.4" stroke="#333" stroke-width="1.5"/>
<text x="380.5" y="723.8" class="xt">5</text>
<path d="M432.9 707.6v3.4" stroke="#333" stroke-width="1.5"/>
<text x="432.9" y="723.8" class="xt">6</text>
<path d="M481.4 707.6v3.4" stroke="#333" stroke-width="1.5"/>
<text x="481.4" y="723.8" class="xt">7</text>
<path d="M527.2 707.6v3.4" stroke="#333" stroke-width="1.5"/>
<text x="527.2" y="723.8" class="xt">8</text>
<path d="M571.6 707.6v3.4" stroke="#333" stroke-width="1.5"/>
<text x="571.6" y="723.8" class="xt">9</text>
<path d="M613.2 707.6v3.4" stroke="#333" stroke-width="1.5"/>
<text x="613.2" y="723.8" class="xt">10</text>
<path d="M653.9 707.6v3.4" stroke="#333" stroke-width="1.5"/>
<text x="653.9" y="723.8" class="xt">11</text>
<path d="M695 707.6v3.4" stroke="#333" stroke-width="1.5"/>
<text x="695" y="723.8" class="xt">12</text>
<path d="M734.7 707.6v3.4" stroke="#333" stroke-width="1.5"/>
<text x="734.7" y="723.8" class="xt">13</text>
<path d="M768.3 707.6v3.4" stroke="#333" stroke-width="1.5"/>
<text x="768.3" y="723.8" class="xt">14</text>
<path d="M799.7 707.6v3.4" stroke="#333" stroke-width="1.5"/>
<text x="799.7" y="723.8" class="xt">15</text>
<path d="M825.7 707.6v3.4" stroke="#333" stroke-width="1.5"/>
<text x="825.7" y="723.8" class="xt">16</text>
<path d="M850.6 707.6v3.4" stroke="#333" stroke-width="1.5"/>
<text x="850.6" y="723.8" class="xt">17</text>
<path d="M875.1 707.6v3.4" stroke="#333" stroke-width="1.5"/>
<text x="875.1" y="723.8" class="xt">18</text>
<path d="M894.9 707.6v3.4" stroke="#333" stroke-width="1.5"/>
<text x="894.9" y="723.8" class="xt">19</text>
<path d="M913.2 707.6v3.4" stroke="#333" stroke-width="1.5"/>
<text x="913.2" y="723.8" class="xt">20</text>
<path d="M932.3 707.6v3.4" stroke="#333" stroke-width="1.5"/>
<text x="932.3" y="723.8" class="xt">21</text>
<path d="M947.3 707.6v3.4" stroke="#333" stroke-width="1.5"/>
<text x="947.3" y="723.8" class="xt">22</text>
<text x="521.3" y="742.7" class="xl">Position</text>
<text transform="translate(19.8 378.9) rotate(-90)" class="yl" textLength="135.5" lengthAdjust="spacingAndGlyphs">−log10(P−value)</text>
<path d="M96.3 1396.8h0M137 1398.4h0M123.1 1434h0M95.5 1447.1h0M165.1 1440.7h0M144.8 1456.3h0M151.9 1469.1h0M99.5 1474.5h0M111.9 1478.2h0M151.1 1479h0M156.6 1485.4h0M163 1493.4h0M114.3 1488.6h0M141.5 1488.6h0M96 1483.8h0M92.6 1525.9h0M91.6 1523.5h0M91.2 1520h0M91.5 1508.3h0M91.5 1498.1h0M92.4 1526.7h0M94.3 1523.2h0M94.6 1518.2h0M94.4 1514.1h0M94.1 1505h0M93.5 1496.3h0M94.2 1493.1h0M94.3 1483.7h0M93.7 1476.7h0M94.3 1527h0M96.5 1519.4h0M97 1513.2h0M95.8 1506.9h0M97.3 1503.4h0M99.3 1528.1h0M99.2 1523.8h0M98.1 1521.2h0M98.5 1515h0M98.1 1509.5h0M99.1 1499.4h0M98.1 1480.6h0M99.2 1478.3h0M98.8 1526.9h0M102 1526h0M101.2 1524.2h0M101.6 1514.2h0M101.9 1500.3h0M100.8 1483.6h0M101.2 1527h0M102.8 1524.8h0M102.9 1520h0M103.8 1516.5h0M103 1511.3h0M103.8 1506.5h0M103.3 1501.7h0M102.9 1487.1h0M102.9 1485.2h0M104 1481.8h0M103.5 1527h0M104.9 1527.1h0M105.4 1523.6h0M105.1 1517.8h0M105 1509.8h0M105.9 1506.5h0M105.2 1526.7h0M107.3 1521.2h0M108.3 1517h0M107.7 1510.1h0M108.3 1508.1h0M107.3 1503.9h0M107.7 1496.2h0M108.1 1494.4h0M107.4 1488.4h0M108.1 1527h0M110.1 1527.1h0M109.8 1524.2h0M109.8 1521.2h0M110.9 1508.2h0M109.8 1526.8h0M112.1 1524.7h0M113.4 1519.7h0M113.2 1514.4h0M111.9 1507h0M112.7 1504.7h0M112 1499.5h0M112.1 1526.7h0M115.7 1523.7h0M114.5 1520.2h0M115.5 1517.7h0M114.5 1513.6h0M115 1509.9h0M114.9 1506.1h0M114.4 1526.7h0M116.8 1524.3h0M116.5 1516.8h0M117.2 1510.2h0M117 1526.6h0M120.2 1527.9h0M119.2 1524h0M120.2 1519.8h0M119.2 1516.4h0M119.6 1514.3h0M119.9 1510.1h0M119 1503h0M119.8 1526.8h0M121 1527.5h0M121.8 1523.7h0M122.1 1517.4h0M121.6 1514.4h0M121.9 1506.5h0M122.1 1500.5h0M122 1497.5h0M121.9 1493.2h0M121.4 1483h0M121.5 1526.7h0M124.2 1526.1h0M124.6 1523h0M124.2 1519.4h0M124.4 1516.1h0M124.3 1514.6h0M124.5 1509.3h0M123.8 1508.2h0M124.7 1502.8h0M124.7 1527h0M125.9 1523.3h0M126.8 1520.1h0M126.1 1512.8h0M127 1511.1h0M126.1 1506.3h0M126.2 1526.8h0M129 1526.9h0M128.5 1523h0M128.4 1520h0M129.5 1516.9h0M127.9 1513.1h0M129.1 1506.6h0M129.1 1526.7h0M135.7 1527.5h0M134.8 1524.6h0M135.4 1517.8h0M136 1503.5h0M135 1526.7h0M137.8 1524.4h0M137.8 1507.2h0M136.9 1526.8h0M139.6 1527.6h0M139.9 1522.8h0M139.3 1520.3h0M139.5 1516.8h0M139.4 1511h0M139.9 1500.2h0M139.4 1491.7h0M140.1 1526.9h0M141.4 1526.6h0M141.1 1524.4h0M142.1 1520.5h0M142.5 1506.2h0M141.5 1499.9h0M141.8 1526.8h0M145.1 1524.7h0M144.6 1521.1h0M144.5 1518.3h0M144.7 1507.2h0M144.4 1499.7h0M143.9 1489.8h0M144.8 1526.5h0M146.8 1526.8h0M147 1522.9h0M147.1 1519.7h0M147.3 1516.3h0M146.3 1513.2h0M146.7 1509.6h0M145.8 1503.2h0M146.3 1500.1h0M146.4 1526.7h0M149.7 1523.1h0M149.7 1520.5h0M149.3 1513.2h0M149 1506.6h0M149.5 1504.2h0M148.5 1498.4h0M148.9 1526.7h0M151.1 1520.2h0M151.5 1516.5h0M150.3 1510h0M150.6 1507.6h0M150.7 1526.8h0M152.7 1527.4h0M152.9 1520h0M154 1513h0M153.9 1510.9h0M154.3 1508h0M153.3 1494.8h0M152.9 1486.6h0M153.7 1526.8h0M156.1 1526.3h0M155.2 1522.8h0M155.1 1520.1h0M155.9 1517.8h0M155 1514.3h0M156.2 1511.6h0M155.3 1506.9h0M155.1 1500.4h0M156 1527h0M158 1526.5h0M158.6 1521.4h0M157.8 1514.9h0M157.8 1507.9h0M158 1526.5h0M161.1 1528.1h0M160.9 1524.8h0M159.9 1519.8h0M160.5 1514.8h0M160.6 1510.6h0M160.9 1490.5h0M162.2 1526.5h0M162.1 1524.3h0M162.9 1520.6h0M163.5 1513.3h0M162.8 1509.9h0M162.7 1526.8h0M164.3 1524.8h0M164.6 1514.1h0M164.6 1501.4h0M238.1 1527.4h0M238.3 1521.2h0M239.1 1516h0M238.9 1503.7h0M238.2 1485.3h0M238.3 1526.8h0M257.2 1449h0M249.9 1458.2h0M294.3 1462.2h0M273.5 1467.8h0M260.8 1467.5h0M364.6 1454.6h0M387.7 1399.2h0M392.5 1447.1h0M240 1466.2h0M247.9 1414.3h0M248.4 1416.9h0M248.4 1424.7h0M248.2 1427.3h0M248.6 1429.9h0M388.3 1427.9h0M387.5 1430.5h0M388 1433.1h0M387.5 1435.7h0M387.7 1438.3h0M387.7 1440.9h0M387 1443.5h0M387.7 1446.1h0M387.8 1448.7h0M387.6 1451.3h0M372.9 1469.4h0M372.6 1472h0M372.2 1474.6h0M372.5 1477.2h0M371.9 1479.8h0M373.1 1482.4h0M372.6 1485h0M372.4 1487.6h0M373 1490.2h0M388.7 1466.2h0M389.2 1468.8h0M388.6 1471.4h0M388.8 1474h0M388.9 1479.2h0M388.2 1481.8h0M388.9 1484.4h0M388.6 1487h0M388.7 1489.6h0M241.2 1527.4h0M241.5 1524.4h0M241 1520.2h0M240.4 1517.6h0M240.8 1514.2h0M240.1 1507.8h0M240.9 1503.9h0M241 1495h0M240.9 1526.6h0M243.3 1527.6h0M243.3 1523.1h0M242.3 1519.6h0M242.4 1517.8h0M242.5 1510.3h0M243.7 1497.3h0M243.8 1494.4h0M242.3 1490.6h0M243.1 1526.9h0M244.9 1527.2h0M245.6 1520.5h0M245.8 1515.9h0M244.6 1511h0M245.6 1502.8h0M244.9 1526.8h0M248 1527.9h0M247.7 1520.5h0M248.1 1516.9h0M247.4 1512.6h0M247.8 1490.3h0M248.2 1483.7h0M248.3 1479.6h0M248.5 1477.9h0M247 1474.6h0M248.3 1526.5h0M250.1 1522.6h0M250 1520.7h0M250.8 1516.1h0M250.6 1507.5h0M249.9 1504h0M250.1 1488.3h0M250 1526.7h0M251.9 1527.6h0M253.1 1524.2h0M252.4 1520.6h0M251.4 1517h0M252.2 1513.1h0M253.2 1510.2h0M251.6 1504.4h0M252.8 1499.5h0M252.7 1490h0M251.7 1486.3h0M251.9 1477.1h0M252.7 1526.6h0M254.4 1522.6h0M253.9 1520.3h0M255 1516.8h0M254.7 1513.7h0M254.4 1504.4h0M254.5 1490.3h0M254.3 1483h0M255.3 1480.4h0M254.4 1475.1h0M254 1526.6h0M256.2 1520.6h0M256.2 1515.9h0M256.7 1514.7h0M257.5 1503.6h0M257 1499.5h0M257.1 1494.6h0M257.2 1490.7h0M257.4 1487h0M256.8 1526.8h0M259.7 1526.9h0M258.6 1523.3h0M259.7 1521.6h0M259.2 1517.7h0M258.8 1514.3h0M259.8 1506.1h0M259 1504.9h0M258.9 1500h0M259.3 1497.5h0M259.6 1491.8h0M259.6 1526.9h0M261.4 1526.8h0M262 1522.8h0M261.4 1521.5h0M261.2 1515h0M261.9 1509.3h0M261.8 1507.6h0M261.3 1501.5h0M261.6 1497.4h0M261.9 1474.1h0M264.1 1524.7h0M263 1520.2h0M262.9 1516.2h0M264.3 1507.5h0M264.1 1502.9h0M264.1 1501h0M263.7 1526.9h0M265.9 1527h0M265.8 1523h0M266.9 1519.6h0M265.7 1517.8h0M266.4 1501.7h0M266.5 1491.9h0M265.7 1488.5h0M265.5 1484.5h0M265.6 1474.4h0M265.8 1526.9h0M268.1 1525.8h0M269 1524h0M268.9 1521.3h0M267.8 1517.5h0M268.4 1510.1h0M269 1507.4h0M268.2 1491.8h0M268.7 1484.2h0M268.2 1473.3h0M268.4 1526.9h0M271.2 1526.9h0M270.7 1523.2h0M271.3 1517.4h0M270.9 1512.8h0M271.1 1509.4h0M271.4 1508.3h0M270.4 1496.7h0M269.9 1492.9h0M270.4 1490.4h0M272.4 1520.9h0M272.5 1518.3h0M273.9 1513.8h0M273.6 1507.1h0M272.9 1504.3h0M273.7 1483.9h0M273.1 1526.9h0M275.1 1527.7h0M274.4 1523h0M274.9 1520.5h0M275.2 1518.1h0M275.4 1507.9h0M275 1503h0M275 1501h0M275.6 1497.5h0M275.6 1483.7h0M276 1480.6h0M275.5 1477.3h0M275.1 1526.6h0M277 1527.1h0M277.1 1520.6h0M277 1510.6h0M277.1 1506.2h0M278.3 1500.8h0M278.3 1498.5h0M277.9 1492.9h0M277.8 1488h0M278.2 1526.7h0M279.2 1526.7h0M279.5 1524.5h0M279.5 1519.5h0M279.6 1516.1h0M280.8 1513.4h0M279.3 1506.1h0M280.6 1504.7h0M280.4 1500.3h0M279.6 1494.3h0M279.6 1486.3h0M279.9 1526.7h0M281.5 1526.3h0M282.6 1522.6h0M282.3 1521.2h0M282.7 1516.7h0M282.5 1514.3h0M282.6 1508.3h0M282.5 1503h0M282 1499.8h0M282 1497.6h0M281.5 1473.9h0M282.4 1527h0M284.6 1523.8h0M284.5 1519.3h0M285.2 1514.7h0M283.9 1510h0M284.1 1503.3h0M285.4 1500.5h0M284.2 1490.3h0M284 1486.7h0M284.7 1473.8h0M283.9 1471.6h0M284.7 1526.8h0M287.4 1527.3h0M287.1 1524.4h0M286.1 1520.7h0M287.6 1516h0M287.5 1512.7h0M285.9 1491.2h0M286.1 1486.5h0M286.3 1526.7h0M289.4 1522.9h0M288.8 1521h0M288.3 1516.7h0M289.9 1513.6h0M288.5 1501.3h0M289.1 1497.1h0M288.3 1488.1h0M289.2 1483.5h0M288.9 1526.9h0M292.3 1527.8h0M291.2 1522.7h0M291.6 1521.1h0M290.6 1510.9h0M290.7 1506.6h0M292.2 1503.5h0M292 1488.4h0M291.1 1483.5h0M291.4 1526.5h0M293.9 1527.2h0M293.4 1519.9h0M293.3 1517.2h0M293.5 1507.4h0M292.9 1503.2h0M293.9 1493.4h0M294 1527h0M296.5 1527.8h0M296.1 1520.6h0M296.8 1516.3h0M296.5 1510.5h0M296.5 1507.4h0M296.9 1504.8h0M296.7 1496.2h0M295.9 1526.8h0M355.8 1526.2h0M355.9 1523h0M355 1519.5h0M355.6 1516.6h0M355 1513.3h0M356.4 1506.5h0M355.5 1498.2h0M355.9 1494.5h0M355.8 1491.6h0M356.3 1475.2h0M355.7 1526.9h0M358.6 1520.1h0M358 1516.9h0M358.3 1513.8h0M358.8 1511.1h0M358.3 1505h0M358.9 1499.7h0M358.8 1493.7h0M358.2 1483.2h0M357.4 1477.1h0M357.9 1526.5h0M360.9 1526.3h0M359.9 1524.4h0M360.6 1520.7h0M360.7 1517.6h0M360.2 1514.3h0M360.3 1511.7h0M360.4 1502.7h0M359.8 1499.8h0M359.7 1486.2h0M362.5 1526.4h0M363.5 1523.3h0M363.6 1520.8h0M363.5 1512.6h0M363.4 1510.7h0M363.4 1506.7h0M363 1526.9h0M364.2 1520.1h0M365.3 1518h0M365 1513.3h0M365.1 1509.5h0M365.4 1504.2h0M364.1 1496.7h0M365.4 1487.6h0M364.8 1527h0M366.4 1527.8h0M367.8 1523.5h0M366.8 1520.7h0M367 1513.6h0M367.1 1500.6h0M367.2 1496.9h0M367 1495h0M367.8 1490h0M367.2 1483.8h0M367.6 1477.9h0M366.5 1475.2h0M367.6 1526.9h0M368.7 1526.8h0M369.5 1524.5h0M369.7 1519.2h0M370.2 1517.5h0M369.3 1513.4h0M369.8 1511.3h0M370 1500.8h0M368.7 1496.2h0M369.6 1493.5h0M370.1 1491.1h0M368.7 1487.7h0M369.9 1526.6h0M372.2 1526.2h0M372.6 1521.1h0M372.2 1517.8h0M371.1 1511.3h0M371.3 1507.7h0M371.2 1503h0M371.4 1497.8h0M372.1 1490.7h0M371.4 1480.9h0M371.3 1471.6h0M371.6 1526.8h0M373.9 1523.5h0M373.7 1520.7h0M373.4 1518.2h0M373.8 1507.3h0M374.8 1500.7h0M373.9 1491.3h0M373.7 1475.1h0M374.6 1527h0M376.1 1526.5h0M377.4 1524.5h0M375.7 1517h0M376.6 1514.1h0M375.7 1507.4h0M376.6 1501.2h0M376.4 1497.2h0M375.8 1493.3h0M375.7 1488.6h0M377.1 1481.6h0M376.5 1526.8h0M379 1526.2h0M378.1 1522.7h0M379.6 1519.4h0M379 1516.5h0M379.5 1510.9h0M379.5 1503.1h0M379.4 1500.2h0M378.7 1526.8h0M381.2 1525.9h0M380.6 1519.9h0M381.7 1518h0M380.7 1514.6h0M381 1506h0M380.5 1503.2h0M380.9 1499.8h0M380.5 1487.3h0M380.3 1477.4h0M380.6 1526.6h0M383.5 1526.1h0M384.1 1524h0M383.7 1517.9h0M383.5 1510.7h0M383 1506.1h0M383.5 1503.1h0M383.2 1499.7h0M382.7 1487h0M383.3 1470.5h0M383.9 1526.6h0M386.3 1526.8h0M384.9 1524h0M385.8 1520.8h0M385.6 1517.7h0M384.9 1513h0M385.5 1510.3h0M386.4 1507.5h0M386.4 1504.1h0M386 1496.9h0M386.2 1481.8h0M385.5 1526.8h0M388 1527.8h0M388.8 1522.6h0M388.5 1517.3h0M387.9 1514.6h0M387.3 1510.2h0M387.2 1506.5h0M387.2 1503.4h0M387.4 1501.2h0M388 1496.7h0M388.2 1491.4h0M387.2 1484.7h0M387.2 1476.4h0M388.5 1526.8h0M390.5 1523.9h0M390.4 1520.8h0M389.9 1516.3h0M390.4 1513.2h0M389.7 1508.3h0M390.5 1495h0M389.6 1487.7h0M389.6 1476.5h0M390.7 1526.8h0M392.1 1527.5h0M392.8 1516.1h0M391.8 1514.7h0M392.3 1511.6h0M392 1507.2h0M392 1504.5h0M391.8 1500.3h0M393.3 1497.1h0M392.3 1526.6h0M395.4 1522.6h0M395.2 1521h0M394.9 1516.3h0M395 1514h0M395.3 1506.6h0M394.8 1499.6h0M394.9 1526.9h0M397.6 1525.8h0M396.3 1523.8h0M397.9 1520.9h0M396.5 1517.2h0M397.2 1514.9h0M397.2 1509.4h0M396.5 1506.5h0M396.5 1494.8h0M396.3 1490.6h0M397.5 1484.7h0M397.6 1527h0M399.5 1522.7h0M399.5 1516.7h0M400.2 1511.2h0M398.8 1498.4h0M399.2 1495.1h0M399.4 1491.8h0M398.9 1485h0M399.5 1476.5h0M400.2 1471.8h0M399.5 1526.7h0M407.7 1459.5h0M404.8 1488.6h0M495.8 1420.2h0M491.3 1429.5h0M497.7 1442.3h0M504.6 1458.2h0M460.4 1459.8h0M464.7 1471h0M469.5 1470.7h0M480.6 1479.8h0M468.7 1479h0M492.1 1443.9h0M493 1446.5h0M492.6 1449.1h0M492.1 1451.7h0M492.3 1454.3h0M493.3 1456.9h0M492.3 1459.5h0M493 1462.1h0M493.1 1464.7h0M492.1 1467.3h0M492 1469.9h0M492.9 1472.5h0M492.6 1475.1h0M491.9 1480.3h0M493 1482.9h0M492.1 1485.5h0M492.7 1488.1h0M492.1 1490.7h0M492 1493.3h0M496.3 1440.7h0M495.7 1443.3h0M495.9 1445.9h0M496 1448.5h0M495.3 1451.1h0M495.5 1453.7h0M495.8 1456.3h0M495.6 1461.5h0M495.9 1464.1h0M496.4 1466.7h0M495.2 1469.3h0M495.4 1474.5h0M495.8 1477.1h0M495.6 1479.7h0M496 1482.3h0M495.7 1484.9h0M495.9 1487.5h0M495.6 1490.1h0M557.3 1455h0M556.9 1457.6h0M557.1 1460.2h0M557.9 1462.8h0M557.9 1465.4h0M557.7 1468h0M557.2 1470.6h0M556.8 1473.2h0M557.4 1475.8h0M557 1478.4h0M557.8 1481h0M557.1 1483.6h0M556.9 1486.2h0M557.4 1488.8h0M557.8 1491.4h0M401 1527.3h0M400.4 1524.4h0M400.6 1519.6h0M399.9 1511.4h0M401.1 1506.8h0M401 1503.5h0M399.9 1526.9h0M403.4 1526.2h0M402.3 1523.8h0M402.7 1519.4h0M403 1518.1h0M402.9 1514.4h0M403.1 1511.1h0M403.2 1484.6h0M402.3 1526.6h0M404.9 1527h0M405.6 1522.9h0M405.6 1521.3h0M404.4 1515.9h0M404.1 1512.8h0M405.7 1506.8h0M404.5 1504.6h0M404.9 1497.3h0M404.2 1491.6h0M405.1 1526.6h0M407.1 1520.4h0M408 1508.1h0M406.9 1526.7h0M460.1 1526.1h0M460.3 1510.6h0M460.8 1508.3h0M460.4 1526.8h0M462.9 1523.6h0M463.2 1516.9h0M462.4 1513.1h0M462.4 1499.8h0M463.2 1497.8h0M462.1 1484.8h0M463 1476.9h0M462.9 1526.9h0M464 1522.8h0M464.3 1517.9h0M464.8 1511.6h0M464.6 1497.3h0M464.3 1493.6h0M465.1 1476.9h0M467 1527.8h0M466.6 1523.4h0M467.6 1519.8h0M466.7 1516.3h0M466.9 1513.5h0M467.7 1509.3h0M466.7 1504.8h0M466.2 1501.7h0M467.4 1493.4h0M467.6 1491.1h0M467.1 1483.4h0M466.7 1473.7h0M467.3 1526.9h0M470.1 1527.7h0M470.1 1521.5h0M470.1 1517h0M469.9 1513.9h0M469.1 1503.9h0M469 1478h0M469.6 1526.8h0M471.2 1526.1h0M471.8 1522.9h0M471.9 1520.4h0M470.9 1516.7h0M472.1 1510.5h0M471.9 1507h0M472.2 1493.7h0M474.2 1527.8h0M473.6 1523.6h0M473.4 1512.7h0M473.8 1510.5h0M474 1506.2h0M474.2 1503.8h0M474 1526.6h0M475.5 1523.5h0M476.4 1519.5h0M476.5 1518.1h0M475.6 1508.3h0M476.6 1499.8h0M476.5 1496.3h0M476 1489.5h0M476.7 1526.8h0M479.3 1512.8h0M478 1508.1h0M479.1 1504.6h0M478 1494h0M478.7 1489.8h0M478.7 1526.7h0M480.9 1524.3h0M480.7 1518.1h0M481.1 1512.7h0M481.5 1506.4h0M480.2 1496.4h0M481.4 1494.2h0M480.1 1483.9h0M480.6 1526.9h0M483.8 1527.1h0M483.1 1523h0M484 1516.4h0M483.1 1509.4h0M483.3 1506.6h0M483.3 1500.8h0M482.2 1494.3h0M482.9 1526.9h0M485.7 1527h0M485 1524.6h0M484.9 1520h0M484.9 1517.5h0M485.8 1513.1h0M485.5 1507.6h0M485.9 1505h0M484.8 1499.4h0M485 1491.4h0M484.8 1526.7h0M487.2 1528h0M488.4 1523.4h0M486.9 1520.9h0M487.2 1517.3h0M488.2 1514.1h0M487 1511.1h0M488.5 1507h0M486.8 1503.1h0M487.7 1501.3h0M486.9 1496.3h0M487.7 1489.7h0M487.5 1483.4h0M487.7 1480.6h0M487.8 1463.9h0M487 1462h0M488.2 1526.7h0M489.1 1526.7h0M489.3 1521.5h0M490.4 1518.1h0M490.7 1512.9h0M489.6 1509.7h0M490.9 1506.6h0M489.7 1502.9h0M490.8 1501.4h0M490 1496.8h0M489.4 1490.2h0M490.3 1488h0M490.7 1481.8h0M490.6 1474.1h0M489.2 1456.6h0M490.7 1446.9h0M490.3 1526.5h0M492.3 1524.4h0M491.8 1520.6h0M492.3 1509.5h0M492.1 1503.8h0M493 1499.4h0M492.6 1487.2h0M492.9 1526.9h0M494.8 1525.9h0M494.9 1520.1h0M494.1 1513.4h0M495.4 1504.5h0M494.5 1501.5h0M494.5 1495h0M493.7 1475.3h0M495.1 1465.1h0M494 1526.7h0M496.6 1527.2h0M497.4 1524h0M497.5 1520.9h0M497.3 1508.4h0M496.5 1504.1h0M496.1 1500.9h0M496.1 1497.2h0M497.7 1484.5h0M497.2 1526.8h0M498.7 1527.3h0M499.5 1523.3h0M499.9 1519.7h0M499.4 1514.2h0M499.5 1510.7h0M498.9 1506.2h0M499.2 1501.4h0M499.5 1493.6h0M498.6 1482.9h0M498.9 1481.2h0M498.8 1473.5h0M499.6 1464.7h0M498.7 1458.8h0M499.5 1526.8h0M502 1527.1h0M501.9 1524.8h0M501.1 1518.3h0M501.5 1513.6h0M500.6 1509.8h0M502.1 1504.2h0M501.3 1501.6h0M502 1496.5h0M501.6 1489.8h0M500.7 1484.9h0M500.9 1526.6h0M503.2 1526.9h0M504.5 1522.9h0M504.5 1516.3h0M503 1514.7h0M503.5 1510.6h0M503.2 1506.1h0M503.3 1503.7h0M503.8 1497.6h0M504.4 1487.7h0M504.4 1484.9h0M504.1 1526.8h0M505.4 1528.2h0M505.7 1524.5h0M505.5 1520.2h0M506.9 1516.6h0M506.6 1512.7h0M505.3 1510.2h0M505.2 1508.1h0M506.6 1526.5h0M552.4 1520.8h0M551.7 1513.3h0M552.5 1510.7h0M552 1503.1h0M551.9 1526.5h0M555.2 1527.2h0M553.9 1524.3h0M553.8 1520.3h0M553.9 1517.1h0M554.8 1514.2h0M553.6 1511.4h0M555.1 1496.3h0M554.7 1494.8h0M553.8 1491.6h0M554.2 1487h0M553.7 1469.8h0M554.4 1467h0M554.4 1527h0M556.5 1527.6h0M556.4 1523.8h0M556.1 1519.6h0M556.3 1513.7h0M557.1 1506.7h0M556.6 1501h0M556.2 1496.6h0M556.8 1487h0M555.9 1481.2h0M557.1 1476.8h0M556.5 1526.6h0M559.4 1527h0M559 1523.6h0M558.5 1519.9h0M559.4 1517.8h0M559 1511.1h0M558.5 1503.1h0M559.6 1499.7h0M558.1 1498.1h0M558.3 1491.7h0M559.2 1468.8h0M559.5 1526.7h0M581.6 1427.9h0M580 1435.9h0M581.6 1442.3h0M585.5 1447.1h0M649.4 1460.6h0M662.2 1461.4h0M666.2 1459h0M635 1467h0M654.2 1480.3h0M635.8 1486.7h0M667.8 1474.2h0M665.4 1487h0M579.2 1475.8h0M584 1479h0M592.7 1483.8h0M574.4 1491h0M641.4 1492.6h0M651.8 1492.6h0M581.1 1427.9h0M580.7 1430.5h0M581.1 1433.1h0M581.4 1435.7h0M581.4 1438.3h0M581.4 1440.9h0M581.1 1443.5h0M581.1 1446.1h0M673.5 1469.8h0M673.7 1475h0M673.5 1482.8h0M673.8 1488h0M673.5 1493.2h0M560.1 1523.6h0M560.3 1520.5h0M560.2 1517.5h0M559.7 1512.7h0M560 1510.5h0M560.4 1506.6h0M559.6 1505.1h0M560.3 1500.1h0M559.5 1490.9h0M560.9 1483.6h0M561 1468.1h0M561.8 1519.3h0M562.9 1516h0M563.5 1513.5h0M561.9 1506.9h0M561.8 1505.1h0M561.8 1500.3h0M563.5 1494.2h0M563.1 1491.5h0M562.2 1484.9h0M563.4 1471.8h0M562.2 1465.4h0M561.8 1453.3h0M571.7 1522.7h0M572 1519.9h0M570.8 1517.5h0M571.4 1513.7h0M571.3 1499.9h0M573.7 1528.2h0M574.2 1524.3h0M573.9 1519.8h0M573.1 1518.2h0M573.1 1514.1h0M572.8 1509.7h0M572.8 1500.6h0M573.7 1526.5h0M576.1 1527.5h0M576.3 1520.3h0M576.3 1509.9h0M576.6 1506.1h0M575.2 1505h0M575.7 1500.6h0M575.2 1498h0M576.4 1487.2h0M575 1479.7h0M575.1 1476.8h0M575.9 1526.5h0M577.7 1526.5h0M578.2 1522.9h0M578.6 1519.8h0M578.5 1516.5h0M578 1511.5h0M578.1 1504.6h0M578.5 1496.7h0M578 1480.4h0M578.6 1477.2h0M577.8 1526.7h0M580.3 1522.8h0M579.6 1519.4h0M580.5 1514.2h0M581.2 1509.4h0M580.9 1499.8h0M580.8 1484.2h0M580.8 1526.7h0M582.7 1526.9h0M582.6 1521.2h0M582.1 1516.9h0M582.5 1514.8h0M583.6 1508.3h0M582.9 1500.6h0M582.9 1491.4h0M584.2 1513h0M584.7 1510.2h0M584.7 1506.4h0M585.9 1497.2h0M585.3 1491.8h0M585 1526.8h0M586.8 1516h0M587.6 1514.3h0M587.3 1508h0M588 1499.7h0M586.9 1496.3h0M589.8 1526.8h0M590.4 1520.6h0M589.3 1516h0M589.9 1513.5h0M590.1 1510.1h0M589.3 1506.3h0M590.4 1504.6h0M590.4 1500.8h0M590.2 1495.1h0M589.2 1478.6h0M590.1 1527h0M591.3 1519.5h0M592.5 1513h0M591 1511.2h0M592.5 1507.3h0M592.2 1504.1h0M592.5 1491.2h0M591.9 1526.7h0M633.9 1514.8h0M634.9 1526.8h0M634.8 1524h0M635.7 1520.2h0M635 1517h0M635.2 1513.4h0M636 1488.2h0M635.7 1484.1h0M635.8 1526.7h0M637.2 1526.9h0M638 1523.6h0M637.2 1520.5h0M638.2 1517.1h0M638.6 1514.3h0M638 1509.3h0M638.1 1507.8h0M638.3 1504.8h0M638.7 1500.4h0M637.8 1484.2h0M637.6 1526.9h0M639.6 1527h0M640.5 1519.3h0M639.9 1516.7h0M639.4 1514h0M639.8 1508.3h0M640.7 1486.3h0M640.2 1526.7h0M643.1 1516.7h0M642.1 1513.8h0M642.3 1509.6h0M641.9 1500.2h0M642 1526.9h0M644.7 1523.9h0M644.6 1519.8h0M645.6 1514.4h0M645.2 1509.6h0M645.3 1497h0M644.3 1527h0M646.8 1522.8h0M647 1521h0M646.3 1513.5h0M647.6 1510.5h0M646.9 1507.9h0M647.8 1496.9h0M647.8 1490.9h0M647.3 1526.7h0M650.1 1527.6h0M649.4 1523.3h0M650.2 1521.2h0M649.7 1510.8h0M649.1 1507.8h0M649.7 1503.3h0M649.9 1526.9h0M651.9 1527.6h0M652.4 1520.1h0M652.2 1510.4h0M650.9 1506.5h0M651.9 1504.2h0M651.8 1499.7h0M651.1 1493.7h0M651.8 1526.9h0M654.3 1521.2h0M653.3 1517h0M653.7 1513h0M654.2 1507.2h0M653.7 1503.4h0M654.4 1500h0M653.1 1496.8h0M654.2 1481.7h0M654 1526.6h0M656.3 1524.8h0M655.6 1519.4h0M656.5 1511.3h0M655.9 1526.8h0M658.8 1525.9h0M657.8 1524.2h0M658.6 1516.9h0M659 1513.3h0M658.3 1511.4h0M659.1 1508.1h0M658.3 1505.1h0M658 1527h0M661.5 1527.4h0M661.5 1516.3h0M661.5 1509.8h0M660.8 1508.1h0M660.5 1502.8h0M660.3 1487.4h0M660.8 1526.5h0M662.7 1523.2h0M663.3 1520.4h0M662.5 1517.1h0M663 1514.5h0M663.4 1510h0M663 1507h0M663.9 1502.7h0M663 1527h0M665.4 1527.2h0M665.2 1524.8h0M664.7 1514.6h0M665.3 1507.3h0M664.9 1505.1h0M664.6 1500.3h0M665 1490.1h0M665.4 1486.6h0M665.7 1483.2h0M665.9 1526.5h0M667.7 1519.5h0M668.1 1517.2h0M666.9 1506.3h0M667.5 1491h0M667.8 1486.5h0M667.7 1484.5h0M667.9 1526.9h0M670.2 1527.2h0M670.9 1523.1h0M670.4 1520h0M669.3 1516.7h0M670.9 1510.2h0M670 1506.3h0M669.8 1503.5h0M669.6 1500.1h0M670.9 1497.5h0M669.3 1490.7h0M670.7 1487.8h0M670.6 1473.4h0M670.8 1471.5h0M670.2 1526.8h0M672.7 1528.1h0M671.7 1523h0M672.7 1520.8h0M673.2 1513.6h0M673.2 1511.1h0M673.2 1479.8h0M671.8 1526.6h0M673.8 1524.3h0M718.9 1526.2h0M718.7 1520.6h0M718.5 1517.1h0M718.7 1511.5h0M719.7 1494.8h0M718.5 1526.8h0M802.2 1400h0M801.4 1405.2h0M851.3 1430.3h0M862.4 1432.7h0M862.4 1447.1h0M840.1 1451.9h0M851.3 1460.6h0M857.6 1459h0M722.4 1469.4h0M748.4 1470.2h0M736 1472.6h0M729.6 1480.6h0M747.9 1481.4h0M795 1470.2h0M799.8 1471.8h0M807 1474.2h0M791.9 1485.4h0M788.7 1493.4h0M841.4 1474.2h0M860.5 1472.6h0M855.7 1474.2h0M838.2 1474.2h0M735.8 1443.9h0M734.7 1446.5h0M735.6 1449.1h0M735.5 1451.7h0M735.5 1454.3h0M735 1459.5h0M735.5 1462.1h0M730.5 1455h0M730.5 1457.6h0M730.2 1460.2h0M730.4 1462.8h0M862.3 1431.1h0M862.7 1433.7h0M861.5 1436.3h0M861.6 1438.9h0M861.9 1441.5h0M862.7 1444.1h0M720.1 1526h0M721.1 1523.5h0M720.2 1521.2h0M720.5 1516.8h0M720.3 1513.6h0M720.5 1506.6h0M721.2 1499.4h0M720.6 1497.4h0M720.4 1491.1h0M720.3 1526.5h0M723.7 1527.7h0M722.6 1524.2h0M723.9 1520.4h0M723.8 1516.6h0M723.1 1511.7h0M722.4 1493.6h0M722.7 1490.1h0M723 1526.7h0M724.6 1526.2h0M725.7 1522.7h0M724.9 1516.7h0M724.9 1511.5h0M725.6 1504.6h0M725.6 1484.4h0M724.6 1477.8h0M725.2 1467.5h0M725.5 1526.8h0M728 1527.5h0M728.1 1524.4h0M728.3 1519.3h0M728.5 1514.6h0M727.9 1510.5h0M728 1504h0M727.7 1500.5h0M726.9 1494.5h0M728 1489.7h0M727.4 1473.7h0M727.7 1526.8h0M729.3 1519.8h0M730.3 1506.8h0M730.1 1504.1h0M729.1 1500h0M730.2 1526.8h0M733.1 1523.9h0M732.9 1520.6h0M732.7 1518.2h0M731.7 1513.2h0M732.3 1511.2h0M733.2 1506.8h0M732 1526.8h0M735.4 1527.5h0M734 1522.7h0M735.3 1514.8h0M735.1 1510.1h0M734.7 1499.8h0M734.4 1494.2h0M734.9 1489.7h0M735 1483.2h0M734.1 1526.5h0M737.7 1524.2h0M736.9 1519.2h0M736.2 1518.3h0M737.2 1476.6h0M736.4 1526.8h0M739.2 1526.3h0M739.2 1523.8h0M739.3 1520.2h0M739.5 1518h0M739.3 1514.8h0M738.8 1503.2h0M739.7 1500.9h0M739.9 1473.5h0M739.6 1526.6h0M741.4 1526.6h0M742.1 1523.8h0M741.3 1520.2h0M741.5 1516.1h0M741.5 1514.4h0M741.2 1499.8h0M740.7 1497.5h0M741.4 1526.6h0M743.8 1526h0M744.2 1523.2h0M744.3 1521.5h0M743.6 1510.1h0M744.2 1506.8h0M743.3 1503.3h0M744.4 1494.1h0M744.4 1526.7h0M747 1526.5h0M745.3 1524.1h0M746.9 1519.8h0M745.5 1509.6h0M746.4 1494.3h0M746 1480h0M745.8 1526.7h0M749.1 1527.2h0M748.1 1523.1h0M747.5 1521h0M747.6 1514.3h0M749.1 1509.3h0M748.9 1507.3h0M747.8 1484.7h0M748.7 1481h0M748.9 1526.8h0M750.9 1524.4h0M751.2 1516.8h0M750.2 1512.7h0M750.8 1507.6h0M750.7 1493.6h0M751.4 1483.2h0M750.4 1526.9h0M786.8 1526.2h0M785.9 1521.4h0M786.1 1516.1h0M786.7 1513.7h0M786.9 1509.5h0M786.6 1506.5h0M785.6 1503.2h0M786.7 1497.1h0M786.6 1486.6h0M786.8 1526.6h0M789.2 1527.2h0M788.9 1523.9h0M789.4 1517.8h0M787.7 1513.4h0M787.9 1511.4h0M788.4 1494.8h0M787.9 1487.4h0M789 1526.7h0M790.5 1527.1h0M791.7 1524.1h0M790.6 1520.8h0M790.1 1517.3h0M790.6 1512.9h0M790.8 1508.3h0M790.2 1497.2h0M791.5 1490.2h0M791 1526.9h0M792.3 1526.5h0M793.5 1524.4h0M793.2 1521.3h0M793.2 1515.9h0M794 1510h0M792.5 1506.6h0M794 1504.3h0M793.4 1500.9h0M793.9 1483.6h0M792.8 1476.3h0M793.9 1471.2h0M793.1 1527h0M795.4 1520.2h0M795.6 1517.6h0M795.8 1514.2h0M794.7 1503.8h0M795.8 1493.6h0M795.6 1489.8h0M796.2 1487.6h0M795 1483.2h0M795.5 1526.7h0M797.3 1526.8h0M798.4 1519.5h0M797.5 1513.6h0M797 1508.1h0M797.6 1503h0M798.6 1499.5h0M798.1 1463.2h0M797.3 1526.9h0M800 1524.1h0M800.8 1521.1h0M800.7 1516.8h0M799.7 1512.6h0M799.8 1508.3h0M799.4 1500.4h0M800.7 1494.2h0M799.7 1491.9h0M799.4 1487h0M800.4 1480.9h0M799.3 1478.5h0M799.3 1474.1h0M799.2 1464.2h0M800 1527h0M803 1526.5h0M801.5 1523h0M802.9 1520.9h0M803 1516.6h0M802.7 1512.8h0M801.8 1506.4h0M803 1492.9h0M801.5 1489.8h0M801.7 1486.6h0M801.8 1482h0M802.2 1526.9h0M804.3 1527h0M804.6 1520.8h0M805 1516.3h0M804.8 1514.4h0M805.5 1511.1h0M804.9 1500.7h0M804.5 1497.6h0M805.2 1526.8h0M807.3 1526.7h0M807.3 1523.4h0M807.1 1518.1h0M806.1 1513.4h0M807.2 1511h0M806.4 1508.1h0M807.1 1503.1h0M806.9 1497.9h0M806.6 1488h0M806.2 1485.3h0M807.1 1473.4h0M807.2 1470.6h0M807.7 1468.4h0M806.8 1526.9h0M810 1527.8h0M810 1520.7h0M809.2 1512.6h0M809.9 1507h0M808.8 1500.7h0M809.9 1494.4h0M808.8 1491.1h0M808.9 1526.6h0M810.8 1526.6h0M811.1 1524.6h0M838.4 1522.5h0M840 1519.9h0M838.7 1511.7h0M838.5 1506.4h0M839.9 1500h0M838.9 1526.8h0M840.6 1528h0M841.8 1519.6h0M842.2 1518.1h0M842.4 1506.5h0M841.1 1503h0M840.9 1526.6h0M844.2 1527.1h0M843.2 1522.9h0M843.3 1519.8h0M844 1517.1h0M844.5 1511h0M844.4 1507.3h0M843 1493.3h0M843.8 1490.4h0M843.4 1476.4h0M844.3 1526.8h0M846.8 1526h0M845.5 1523.7h0M846.3 1519.9h0M845.8 1516.9h0M845.6 1497.5h0M845.6 1490.8h0M845.9 1527h0M848.7 1524.9h0M848.3 1520.7h0M848.9 1518.3h0M849.1 1512.7h0M847.9 1510.3h0M848.6 1504.4h0M848.6 1500.2h0M848.9 1491.9h0M848.9 1478h0M847.9 1526.6h0M850.6 1528.2h0M850 1521.4h0M851.2 1513.4h0M850.6 1511.3h0M851.3 1507.9h0M849.9 1497.2h0M849.8 1493.9h0M851.5 1473.5h0M850.5 1526.8h0M853.8 1527.3h0M852.6 1523.9h0M853.5 1519.9h0M852.7 1516.5h0M853.1 1514.1h0M852.1 1510.6h0M852.9 1497.6h0M852.6 1526.9h0M855.7 1526.5h0M854.5 1523.7h0M855.1 1520.9h0M856.2 1514.9h0M854.7 1504.6h0M855.1 1501.5h0M854.7 1498h0M855.2 1488.5h0M855.9 1478.2h0M855.7 1526.5h0M857.3 1523.7h0M858.4 1520.9h0M857.2 1516h0M857.5 1514.6h0M857.2 1509.5h0M857.2 1507.5h0M858.4 1503.4h0M857.1 1496.8h0M856.8 1493.2h0M857.7 1491.3h0M858.3 1487.3h0M858 1526.9h0M860.4 1526.4h0M859.2 1524.3h0M860.4 1517.4h0M860.1 1514.4h0M859.9 1511.5h0M860.1 1499.8h0M860.3 1488.3h0M860.1 1471.2h0M862.3 1517.8h0M862.8 1514.5h0M861.6 1507.6h0M861.5 1503.9h0M861.7 1497.9h0M862.1 1484.1h0M861.6 1481.8h0M862.5 1526.9h0M901.9 1398.6h0M901.9 1410.9h0M933.3 1425.9h0M933.3 1465h0M895.9 1462.6h0M891.7 1447.7h0M895.9 1438.7h0M895.3 1452.5h0M903.7 1435.1h0M901.6 1420.7h0M901.8 1423.3h0M901.4 1425.9h0M901.7 1428.5h0M901.3 1433.7h0M902.6 1436.3h0M901.5 1438.9h0M902.6 1441.5h0M902.6 1444.1h0M901.8 1446.7h0M902.4 1449.3h0M902.3 1451.9h0M902.5 1454.5h0M932.8 1439.9h0M932.7 1445.1h0M932.9 1447.7h0M933.9 1450.3h0M885.8 1501.5h0M888 1524.4h0M887.2 1504.7h0M886.4 1501.1h0M887.3 1489.8h0M887.8 1487.5h0M886.4 1484.2h0M886.8 1526.8h0M889.4 1520.1h0M890.2 1516h0M889.6 1503h0M889.8 1526.6h0M892.4 1527.7h0M892.7 1516.9h0M891.2 1512.9h0M891.9 1510.4h0M891.8 1491.4h0M892.4 1526.6h0M893.7 1524.5h0M893.6 1517.7h0M894.2 1512.9h0M894.3 1511.5h0M894.3 1500.4h0M894.2 1497.3h0M894.9 1494.5h0M894.3 1490.8h0M894.2 1486.9h0M894.9 1483.6h0M893.9 1526.9h0M896.5 1527.2h0M895.9 1522.8h0M896 1516.7h0M896.1 1514.5h0M897.2 1511.3h0M897.2 1507.7h0M896.3 1503.5h0M896 1493.1h0M895.9 1484.2h0M895.7 1479.7h0M896 1465h0M896.5 1526.6h0M898 1527.3h0M898.2 1524.5h0M897.9 1520.9h0M898.4 1516.8h0M898.2 1509.8h0M899.3 1503.4h0M898.5 1493.7h0M899.2 1480.2h0M898.7 1477.6h0M898.3 1474.3h0M898.4 1471.4h0M898.4 1466.4h0M898.3 1526.7h0M900.2 1522.6h0M901.4 1520h0M901.8 1517h0M901.6 1514.4h0M900.9 1511h0M900.7 1503.7h0M901.6 1496.6h0M902 1489.7h0M900.9 1487.1h0M901.5 1481.1h0M900.5 1470.8h0M900.2 1467.2h0M901.6 1454.5h0M901.1 1526.9h0M903.5 1520.5h0M903.8 1516.6h0M903.1 1514h0M903.4 1506.8h0M903.4 1504.6h0M903.1 1501.7h0M903.6 1467.1h0M903.5 1526.8h0M904.9 1508.2h0M924.9 1526.3h0M924.6 1503.8h0M927.1 1528h0M925.5 1519.8h0M926.6 1517.9h0M926.5 1513.9h0M926.6 1510.4h0M926.5 1504.5h0M926.1 1493.8h0M926.7 1489.8h0M925.9 1526.6h0M928.7 1528.1h0M928.7 1524.7h0M929.1 1513.3h0M927.8 1510.1h0M929.1 1506h0M929.5 1504.5h0M929 1486.6h0M929.3 1479.7h0M929 1526.8h0M931.5 1526.3h0M930.6 1522.6h0M930.6 1517.3h0M931 1510.6h0M931.5 1503.7h0M931 1498.3h0M931.4 1527h0M933.5 1526.2h0M932.5 1519.2h0M932.7 1513.8h0M933 1507.2h0M932.4 1503.1h0M932.6 1498.2h0M932.8 1487.3h0M933.8 1483.3h0M933.8 1476.7h0M932.5 1475.1h0M933.4 1526.8h0M935.2 1522.5h0M934.7 1515.9h0M935.2 1514.9h0M934.8 1508.4h0M935.5 1505h0M936.3 1483.8h0M935.9 1481.9h0M935 1474.3h0M935.1 1470.3h0M935.9 1526.8h0M938 1526.4h0M937.8 1523.1h0M937.3 1520.1h0M937.8 1517.4h0M938.7 1514.3h0M937.8 1511h0M938.4 1506.6h0M938.3 1504h0M937.8 1501.6h0M938.1 1498.3h0M937.9 1493.6h0M937.8 1526.5h0" stroke="#FF0000" stroke-width="7.1" stroke-linecap="round" fill="none"/>
<path d="M214.6 1396.8h0M205.3 1423.4h0M167.5 1442.6h0M225.6 1456.3h0M230.9 1452.7h0M179 1479.8h0M183.5 1482.2h0M191.8 1459.8h0M195 1459h0M202.2 1460.6h0M207.7 1464.6h0M191.8 1469.4h0M230.9 1466.2h0M217.3 1488.6h0M226.9 1475.8h0M166.5 1463h0M166.2 1465.6h0M166.6 1468.2h0M166.2 1470.8h0M165.9 1473.4h0M166 1476h0M165.6 1478.6h0M165.9 1481.2h0M165.6 1483.8h0M166.8 1489h0M165.6 1491.6h0M199.8 1469.4h0M200.4 1472h0M199.3 1474.6h0M199.2 1477.2h0M199.8 1482.4h0M199.7 1485h0M199.1 1487.6h0M199.4 1490.2h0M199.4 1492.8h0M200.1 1498h0M207.9 1475.8h0M207.2 1478.4h0M208.2 1481h0M208.3 1483.6h0M207.6 1486.2h0M207.7 1488.8h0M208.4 1491.4h0M207.1 1494h0M208 1496.6h0M213.3 1469.4h0M213.7 1472h0M213.5 1474.6h0M213.5 1477.2h0M212.9 1479.8h0M213.9 1482.4h0M213.5 1485h0M212.8 1487.6h0M213.8 1490.2h0M226.7 1472.6h0M227.2 1475.2h0M227.5 1477.8h0M227.6 1480.4h0M227.4 1485.6h0M226.7 1488.2h0M227.4 1490.8h0M226.3 1493.4h0M165.3 1525.9h0M165.2 1520h0M165.4 1518.1h0M165.4 1510h0M165.2 1503.1h0M167.2 1521.1h0M167.3 1517.4h0M167.6 1509.8h0M167.2 1507.6h0M167.3 1497.3h0M168 1493.1h0M166.5 1491h0M167 1526.5h0M170.2 1519.5h0M169.4 1518.2h0M169.4 1513.1h0M170.2 1506.8h0M169.6 1497.6h0M169.5 1526.7h0M172.1 1527.2h0M172.2 1520.3h0M172.5 1517.1h0M172.2 1513h0M171.9 1505h0M172.7 1493.5h0M171.6 1526.8h0M174.6 1526.6h0M174.6 1523.5h0M174.2 1521.1h0M175 1517.9h0M174.4 1510.2h0M174.9 1507.9h0M174.8 1527h0M177 1523.4h0M177 1520.6h0M176.8 1515.9h0M175.8 1514.4h0M176.9 1509.5h0M176.8 1508.2h0M176.7 1503.7h0M175.6 1496.3h0M176 1526.7h0M179.1 1516.7h0M179 1510.8h0M178.2 1500.3h0M178.5 1526.7h0M181 1528.2h0M181.8 1524h0M180.3 1520.8h0M181.5 1513.9h0M181.7 1510h0M181.6 1508.1h0M181.2 1526.8h0M183.9 1526.6h0M182.7 1523.3h0M183.8 1519.5h0M183.3 1512.9h0M183.5 1509.6h0M183.3 1526.9h0M185.4 1523.9h0M185.4 1520.4h0M185.3 1516.9h0M185.5 1510.9h0M185.8 1506.5h0M187.7 1526.9h0M187.3 1513.1h0M187.1 1505.1h0M187.2 1500.5h0M188.6 1497.4h0M187.5 1488.1h0M189.4 1524.5h0M190.3 1520.3h0M189.6 1513.1h0M191.1 1503.6h0M190.7 1526.8h0M193.2 1523.6h0M192.3 1519.7h0M193.4 1517.3h0M192.4 1510.7h0M191.7 1508.1h0M192.9 1505.1h0M192.2 1500.2h0M192.1 1491.7h0M192.9 1487.9h0M191.7 1484.7h0M192.6 1470h0M192 1526.7h0M194.1 1525.9h0M195.8 1522.6h0M195 1516.6h0M194.8 1508.2h0M195.6 1504.2h0M194.4 1490.3h0M194.1 1487.9h0M194.9 1470.7h0M194.4 1526.7h0M197.3 1528.2h0M198 1524.8h0M196.4 1520.4h0M197.6 1514.5h0M197.4 1509.7h0M197.2 1506.7h0M197.9 1496.1h0M197.9 1491h0M197.8 1485h0M197.4 1463.9h0M197.3 1526.6h0M199.2 1526h0M198.9 1523.2h0M200.2 1518.1h0M199.1 1510.4h0M198.7 1501.4h0M200.2 1496.5h0M199.9 1526.6h0M201.4 1524.6h0M201.5 1512.9h0M201.2 1506.1h0M202.7 1502.9h0M201.4 1501.1h0M201.2 1497.8h0M201 1490.5h0M201.1 1484.4h0M201.9 1473.2h0M201 1471.9h0M201.8 1526.6h0M203.5 1523.8h0M203.3 1510.5h0M204.9 1506.7h0M204.6 1496.5h0M204.7 1483.8h0M204.7 1476.6h0M204.6 1526.7h0M205.7 1520.7h0M205.6 1517.2h0M207 1511.6h0M205.7 1505h0M205.8 1497.8h0M205.7 1493.2h0M207.1 1481.5h0M207.2 1467.5h0M206.8 1527h0M209.1 1524.2h0M208.5 1517.8h0M208.1 1514.2h0M208.5 1506.3h0M209.3 1503.6h0M208.6 1498h0M208.8 1481.6h0M208.4 1476.5h0M208.7 1526.5h0M210.9 1527.5h0M211.1 1524h0M210.5 1521.1h0M211.2 1516.9h0M211.7 1513.6h0M210.7 1501.7h0M211.2 1496.6h0M211.2 1526.6h0M214.1 1523.7h0M213.2 1520.5h0M213.5 1518h0M212.8 1514.7h0M213.2 1508h0M213.9 1501.2h0M213.6 1498.2h0M213.6 1484.9h0M213.8 1526.6h0M214.8 1528h0M215.7 1512.7h0M215.4 1509.4h0M215.6 1506.4h0M214.8 1503.8h0M215.2 1526.9h0M217.5 1526.2h0M217.2 1517.6h0M218.1 1511.4h0M218.3 1506.4h0M218.1 1498.1h0M217.9 1526.8h0M220.2 1527.8h0M221.1 1523h0M219.4 1520.9h0M219.7 1517.4h0M220.7 1496.6h0M220 1494.6h0M219.6 1484.3h0M220.3 1526.6h0M222.5 1526.4h0M222.9 1523.6h0M222.3 1520h0M221.6 1517.4h0M222.7 1503.3h0M222.2 1499.7h0M223.4 1496.3h0M222 1526.7h0M225.5 1526h0M224.9 1523.8h0M224 1520.1h0M225 1516.7h0M224 1514.7h0M224 1510h0M224.9 1506.1h0M224.6 1491.3h0M225.4 1486.7h0M224.5 1473.7h0M225.2 1526.7h0M227.4 1526.8h0M227 1522.9h0M226.7 1521.5h0M227 1517.3h0M227.2 1513.2h0M227.2 1503.6h0M227.8 1490h0M226.9 1487.8h0M227.3 1526.5h0M229.1 1526.4h0M230.1 1524.9h0M229.5 1520.7h0M228.7 1512.8h0M229.3 1509.5h0M228.6 1504.4h0M229.8 1500.8h0M228.6 1498.1h0M228.9 1526.7h0M231.1 1520.3h0M231.7 1517.9h0M232.3 1513.2h0M231 1506.1h0M232 1500.4h0M232.3 1494.6h0M232 1526.7h0M234 1527h0M234.9 1522.9h0M233.3 1517.3h0M234 1513.8h0M234.7 1504.9h0M233.2 1500.5h0M233.3 1497.3h0M234.2 1493.3h0M234.3 1485.1h0M236.1 1526.9h0M236.5 1522.8h0M236.5 1517.2h0M235.6 1513.8h0M235.7 1509.5h0M236.9 1506.3h0M236.9 1501.3h0M237.1 1493.8h0M235.5 1484.6h0M235.8 1480.8h0M235.9 1476.8h0M236.9 1475h0M236.8 1526.7h0M301.5 1412.7h0M301.5 1419.1h0M350.5 1419.4h0M299.1 1448.7h0M299.1 1456.6h0M301.5 1459.8h0M299.9 1468.6h0M319 1432.4h0M323 1442.3h0M323 1460.6h0M353.4 1469.1h0M305.5 1476.6h0M312.7 1475h0M334 1463h0M333.6 1465.6h0M333.9 1468.2h0M333.8 1470.8h0M334.4 1473.4h0M334 1476h0M334.5 1478.6h0M333.8 1481.2h0M333.7 1483.8h0M334.3 1486.4h0M334.6 1489h0M333.7 1491.6h0M318.8 1459.8h0M318.9 1462.4h0M318.2 1465h0M318 1470.2h0M318.1 1472.8h0M318.3 1475.4h0M318.2 1478h0M317.9 1483.2h0M318.7 1488.4h0M298.6 1527h0M299 1519.8h0M298.7 1517.1h0M297.6 1514.3h0M298 1510.3h0M299.1 1507.5h0M297.6 1503.4h0M297.7 1501.2h0M298 1496.5h0M298.2 1483.2h0M297.6 1480.8h0M298.6 1526.8h0M301.1 1527.8h0M301.1 1523.6h0M301.2 1516.2h0M301.5 1511.1h0M300.2 1506.6h0M300.1 1503.1h0M299.8 1492.9h0M301.5 1491.2h0M301.1 1527h0M302.1 1527.7h0M302.7 1523.4h0M303.5 1520.6h0M302.1 1517.5h0M302.9 1512.9h0M303.6 1511.6h0M302.8 1508.1h0M303.3 1500.1h0M303.6 1497h0M302 1474h0M302.7 1526.8h0M305.3 1524.9h0M305.1 1520.9h0M304.8 1516.4h0M304.3 1514.4h0M305.9 1507.2h0M304.5 1503.7h0M305.6 1501.4h0M305.2 1497.4h0M305.1 1495.1h0M305.6 1526.5h0M307.6 1527.4h0M307.9 1524.3h0M307.1 1520.9h0M308.2 1517.7h0M307.6 1513.4h0M307.8 1506h0M308.3 1502.7h0M308 1500.7h0M308.2 1496.4h0M307.5 1526.9h0M309.4 1528.2h0M310.6 1518.2h0M310.6 1514.9h0M309.3 1506.1h0M309.8 1499.4h0M309.2 1487.9h0M310 1480.5h0M309.2 1526.5h0M312.9 1527.4h0M312.1 1516.1h0M311.3 1513.9h0M312.9 1511.4h0M311.4 1507.3h0M311.2 1497.8h0M311.3 1493.5h0M312.5 1487.8h0M312.5 1470.3h0M312.1 1526.8h0M314 1527.7h0M315 1519.3h0M315.1 1517.6h0M315.2 1514.4h0M314.9 1506.1h0M315.2 1505.1h0M314 1500.1h0M314.3 1483.4h0M314 1481h0M314.6 1526.8h0M317.5 1525.9h0M316.9 1520.8h0M315.9 1514.9h0M317.2 1511.4h0M315.9 1508.1h0M316 1501.3h0M317.2 1498.4h0M316.4 1494.7h0M316.2 1491.5h0M316.9 1487.6h0M316.4 1480.5h0M317 1474.9h0M316 1467.8h0M316.9 1526.6h0M319.3 1525.9h0M318.3 1522.9h0M319.7 1518.1h0M319.2 1512.7h0M319.3 1509.3h0M319.8 1501h0M318.6 1496.8h0M318.9 1493.1h0M319.2 1480.4h0M319.4 1478h0M319.4 1475.2h0M318.5 1467.3h0M319.1 1526.5h0M321.5 1527.4h0M320.4 1520.5h0M320.5 1517.9h0M320.4 1514h0M320.9 1510.9h0M322 1506.6h0M321.3 1503.7h0M321.2 1478.1h0M321.8 1526.7h0M323.3 1526.3h0M324.2 1520.8h0M323.8 1510.6h0M323.6 1500.1h0M322.8 1497.1h0M324.2 1481.9h0M323 1526.6h0M326.7 1522.6h0M326.7 1518.2h0M326.4 1513.6h0M326.3 1510.5h0M326.7 1503.6h0M326.4 1501.1h0M325.4 1493.3h0M325.7 1483.6h0M326.4 1526.9h0M328.8 1526.8h0M327.9 1524.6h0M327.7 1519.7h0M328.6 1516.3h0M327.8 1513.5h0M329 1510.1h0M328.7 1504.4h0M327.7 1499.6h0M328.8 1486.4h0M328 1526.8h0M329.6 1526.3h0M330.2 1523.5h0M330.1 1520.7h0M330 1515.9h0M330.7 1513.2h0M330.3 1503.5h0M329.7 1494.1h0M329.9 1526.8h0M333.5 1526.8h0M332.5 1522.7h0M332.5 1520.2h0M333.6 1517.1h0M333.5 1510h0M332.9 1503.1h0M333.6 1498.1h0M332.4 1494.6h0M332.3 1489.6h0M333.4 1526.9h0M334.2 1526.4h0M335 1521.1h0M335.2 1517.8h0M335.7 1514.2h0M335.9 1510.8h0M334.5 1499.5h0M334.4 1497.9h0M335.4 1492.8h0M334.4 1489.9h0M335.9 1481.6h0M335.3 1477.2h0M334.7 1470.1h0M335.5 1526.6h0M337.1 1526.2h0M337.9 1523.3h0M338 1517.4h0M337.8 1514h0M336.9 1510.7h0M337.4 1499.8h0M336.8 1491.5h0M337.1 1487.6h0M337.1 1471.6h0M337.2 1526.5h0M339.6 1526.2h0M339.6 1516.5h0M338.8 1509.6h0M339.2 1508h0M340 1504.2h0M340.5 1497.2h0M340.2 1494.4h0M340.1 1490.6h0M341.9 1527.2h0M341.1 1517.2h0M341.7 1513.5h0M342 1511.2h0M342.7 1503.4h0M342.5 1526.6h0M344.5 1527.1h0M343.5 1522.8h0M345.2 1520.2h0M344.9 1512.7h0M344.7 1510.6h0M343.6 1508.1h0M343.9 1490.3h0M344 1483.1h0M343.8 1526.9h0M346.7 1527.5h0M346.6 1522.7h0M347.5 1520.4h0M346.8 1514.4h0M347.4 1511.7h0M346.1 1507.1h0M346.6 1503.3h0M346 1499.5h0M346.4 1497.6h0M347.2 1494.7h0M346 1483.7h0M349.2 1521.1h0M348.5 1503h0M349.4 1499.7h0M349.5 1491h0M348.9 1487.6h0M348.6 1478.1h0M349 1526.8h0M350.8 1527.4h0M350.4 1520h0M350.3 1516.2h0M351.5 1515h0M351.9 1507.4h0M351.4 1503.7h0M350.3 1496.4h0M351.2 1526.6h0M353.8 1527.5h0M352.7 1523.6h0M353 1519.9h0M353.6 1518.1h0M353.4 1513.3h0M352.7 1511.1h0M352.8 1500.1h0M353.1 1497.6h0M352.9 1490.5h0M353.1 1526.8h0M408.8 1398.7h0M439.1 1418.3h0M517.4 1426.3h0M517.4 1429.5h0M412.5 1434.3h0M412.5 1443.9h0M412.5 1447.9h0M451.4 1447.9h0M447.6 1453.5h0M416 1471h0M527.7 1460.6h0M534.1 1462.2h0M541.3 1461.4h0M541.3 1471h0M510.2 1469.4h0M515 1470.2h0M529.3 1472.6h0M545.3 1483.8h0M436.7 1483h0M459.1 1477.4h0M452.7 1482.2h0M447.2 1463h0M447.9 1465.6h0M447.4 1468.2h0M447.8 1470.8h0M448.2 1473.4h0M447.9 1476h0M447.4 1478.6h0M447.3 1481.2h0M410.1 1527.5h0M410.3 1524.4h0M410.3 1519.9h0M409.3 1517h0M409.9 1511.3h0M410.2 1506.9h0M408.9 1504.4h0M410 1501.3h0M409.2 1526.6h0M411.2 1519.3h0M412.5 1515.9h0M411.6 1513.4h0M412.4 1510.5h0M412.7 1501.1h0M411.6 1481.7h0M411.8 1477.2h0M412.2 1526.9h0M413.9 1526.1h0M413.7 1523.2h0M413.5 1517.4h0M414.6 1514.8h0M414.4 1511.4h0M414.6 1491.9h0M413.9 1488h0M414.7 1526.6h0M416.1 1524.9h0M415.8 1517.6h0M416.6 1514.2h0M417.2 1509.6h0M415.9 1507.4h0M416 1504.6h0M415.8 1500.5h0M415.5 1497.7h0M416.4 1526.8h0M417.9 1526.3h0M419.3 1523.4h0M419.5 1521h0M418.7 1516.6h0M418.9 1506h0M418.6 1504.5h0M418.2 1501.3h0M419 1494.9h0M418.8 1479.6h0M421.8 1522.8h0M421 1519.3h0M420.6 1517.3h0M420.5 1513.5h0M421.2 1509.6h0M420.5 1497.1h0M420.7 1494.9h0M420.8 1486.9h0M423 1527.8h0M424.1 1523.2h0M423 1521.1h0M423.4 1516.6h0M423.2 1509.4h0M423.9 1502.9h0M422.6 1501.5h0M423.1 1497h0M423.1 1526.9h0M425.3 1519.7h0M426.1 1516.2h0M425.9 1513.1h0M425.7 1509.4h0M426.2 1501.7h0M425.7 1526.6h0M428.8 1528h0M427.6 1523.2h0M428.7 1516.3h0M427.7 1513.7h0M428.6 1509.5h0M431 1527.9h0M430 1523.5h0M430.5 1519.5h0M429.7 1517h0M429.9 1510.1h0M431 1502.7h0M430.7 1496.5h0M430.9 1494.7h0M431 1483.5h0M430.2 1527h0M432.9 1522.7h0M432.1 1519.4h0M432.7 1516h0M432 1501h0M433.4 1480.2h0M432.3 1526.9h0M435.5 1527.7h0M435.2 1521.2h0M435.6 1518.2h0M435.2 1513.2h0M434 1510.9h0M435 1501h0M435.6 1497h0M435.6 1493.3h0M434.6 1489.7h0M434.8 1487.8h0M434 1480.7h0M434.8 1526.7h0M438 1526.2h0M437.3 1524.3h0M436.7 1516.9h0M437.2 1509.5h0M437.3 1507h0M436.4 1501.8h0M436.8 1526.7h0M439.6 1528h0M438.9 1524.8h0M440 1520.2h0M439.8 1516.6h0M438.6 1510.5h0M438.8 1500.6h0M439.3 1496.4h0M440.2 1491.2h0M439.1 1480.4h0M439.6 1526.8h0M442.2 1526.7h0M442.2 1522.9h0M441.9 1520.5h0M441.8 1510.8h0M440.9 1504.8h0M442.4 1497h0M440.9 1481.2h0M441.7 1526.9h0M444.3 1526.6h0M444.5 1522.5h0M443.3 1516.1h0M444.5 1513.1h0M443.2 1507.4h0M444.1 1503.3h0M444.5 1501.1h0M444.5 1497.8h0M444.8 1493.8h0M444.7 1481.1h0M443.5 1526.6h0M446.7 1527.8h0M447 1523.6h0M447 1519.7h0M446.4 1516.1h0M445.5 1513.9h0M445.8 1511.5h0M446.2 1506.2h0M446.5 1497.1h0M446 1488.1h0M445.5 1464.9h0M446.3 1526.8h0M449.4 1528h0M448.3 1523.9h0M449.2 1520h0M449.3 1516.7h0M447.7 1512.7h0M449.1 1509.7h0M448.3 1508.3h0M448.8 1496.5h0M448.2 1487.3h0M449.1 1467h0M448.1 1526.6h0M451.8 1526.2h0M450.1 1523.9h0M450.1 1516.8h0M451.5 1513.3h0M451.5 1500.3h0M450.9 1497h0M451.3 1526.6h0M452.9 1520.5h0M454.1 1516.2h0M454.1 1513.2h0M453.2 1506.1h0M452.9 1497.4h0M452.7 1493.4h0M452.7 1489.7h0M452.8 1487.6h0M453.5 1483.7h0M453.3 1526.9h0M455.2 1527.3h0M456.1 1522.8h0M455.4 1514.9h0M455.1 1511.4h0M454.7 1503.4h0M455.3 1501.6h0M454.9 1494.2h0M456.4 1491.5h0M455 1480.8h0M455.6 1526.9h0M458.7 1526.7h0M457.3 1524h0M456.9 1519.6h0M457.5 1516.2h0M457.9 1514.4h0M457.4 1510.3h0M458.5 1507.5h0M456.9 1500.8h0M458.2 1488.2h0M458.3 1484.5h0M458.4 1527h0M459.4 1512.7h0M459.3 1503.4h0M508.2 1517.2h0M508.4 1513.3h0M509.1 1510.4h0M508.5 1504.5h0M507.6 1500.2h0M508.6 1497.2h0M508.6 1490.4h0M508.3 1527h0M511.1 1528.1h0M509.8 1523.1h0M509.8 1521.1h0M511.3 1517.3h0M511.4 1514.7h0M511.5 1511.2h0M510.6 1507.8h0M511.5 1501.2h0M510.6 1497.2h0M511.4 1490.6h0M513.6 1524.5h0M513.5 1520.2h0M513.7 1515.9h0M513.7 1513.7h0M512.9 1500.9h0M513.5 1496.6h0M513.3 1489.9h0M512.3 1483.9h0M512.5 1477.5h0M513.5 1526.7h0M515.5 1517h0M515.4 1511.4h0M514.9 1507.8h0M515.5 1503.8h0M515.1 1500.2h0M514.8 1480.1h0M515.8 1463.9h0M514.8 1526.8h0M517.5 1521.5h0M518.1 1516.4h0M517 1510.2h0M518 1506.6h0M518.4 1496.4h0M517.9 1493.7h0M517.7 1488.6h0M517 1480.2h0M517.2 1477.7h0M517.5 1526.5h0M520.3 1526.9h0M519.9 1521.5h0M520.2 1516.2h0M520.7 1511.4h0M520.7 1508.1h0M520 1501.3h0M520.3 1496.8h0M519.3 1491.7h0M520.1 1526.6h0M522.8 1526.4h0M522.7 1523.7h0M522 1519.7h0M521.4 1516.8h0M522.9 1512.7h0M521.6 1509.5h0M522.3 1500.6h0M523 1494h0M522.8 1491.6h0M522.5 1483.9h0M522.1 1481h0M522.4 1477.4h0M522.7 1526.9h0M523.8 1527.5h0M523.8 1519.5h0M524.7 1518.2h0M524.9 1514.8h0M524 1511h0M524.9 1487.7h0M524.9 1475.1h0M524.6 1467.7h0M524.2 1526.5h0M526.6 1526.2h0M526 1524.5h0M527.2 1519.7h0M526.6 1517.5h0M527.6 1514.2h0M526.7 1504.4h0M527.4 1501.8h0M526.9 1496.5h0M526.9 1490.8h0M527.1 1486.4h0M526.4 1527h0M529.9 1528.1h0M529.4 1523.3h0M529.4 1514.4h0M529.5 1511.6h0M529.8 1503.4h0M529.3 1500.1h0M529.2 1498.4h0M529 1488.4h0M529.7 1483.7h0M529.9 1473.6h0M529.6 1467.7h0M529.3 1526.7h0M531.3 1523.3h0M531.4 1519.8h0M532.2 1517.3h0M530.9 1510.4h0M531.3 1507.6h0M531.4 1501h0M532 1493.1h0M530.7 1490.7h0M531.9 1526.9h0M534.4 1527.6h0M534.3 1524.8h0M534 1515h0M533.4 1507.2h0M534.6 1503.2h0M533.1 1498.1h0M534.1 1489.6h0M532.9 1469.8h0M533.2 1526.6h0M535.2 1526.5h0M535.5 1520.6h0M535.6 1510.2h0M536.4 1504.9h0M535.6 1526.7h0M537.5 1523.4h0M537.9 1517.6h0M537.5 1514.1h0M539.2 1511.6h0M539.1 1503.1h0M538.8 1500.2h0M538.5 1497.3h0M538.9 1526.7h0M540.1 1520.2h0M541.1 1516.3h0M540.1 1514.7h0M541 1511.3h0M540.5 1507.8h0M539.7 1503.4h0M540.8 1493.5h0M540.7 1526.6h0M543.2 1527.3h0M542.2 1524.2h0M543.1 1520.8h0M543.5 1512.7h0M542.6 1510h0M543 1508h0M543.5 1503.7h0M543.3 1500.8h0M542.6 1491.2h0M543 1526.6h0M544.9 1527.1h0M545.9 1523.6h0M545.1 1519.6h0M544.4 1517.9h0M545.1 1514.7h0M545.2 1502.8h0M545.3 1477.3h0M545.8 1526.7h0M547.8 1527.9h0M548.2 1524h0M547 1520h0M548.3 1514.4h0M547.1 1509.4h0M548.1 1508h0M547.9 1477.1h0M547.7 1527h0M550.2 1527.4h0M549.8 1523.7h0M550.1 1516.4h0M549.1 1514.3h0M550 1507.1h0M549.1 1504.3h0M550.2 1501.2h0M549 1498.5h0M550.2 1495h0M549.5 1526.9h0M618.6 1402h0M600.7 1438.8h0M608.7 1438.3h0M618.6 1438.3h0M629.5 1443.9h0M597.5 1454.6h0M612.7 1461.4h0M631.1 1467.8h0M607.1 1471h0M606.3 1475.8h0M609.5 1487h0M609.5 1497.4h0M692.9 1443.1h0M692.9 1450.3h0M698.1 1451.9h0M698.9 1456.6h0M692.2 1461.4h0M691.7 1475.8h0M674.6 1464.6h0M674.6 1467.2h0M674.6 1472.4h0M674.6 1480.2h0M674.5 1485.4h0M674.5 1490.6h0M679.7 1480.6h0M680 1483.2h0M679.5 1485.8h0M679.2 1488.4h0M679.7 1491h0M680.4 1493.6h0M679.9 1496.2h0M679.6 1498.8h0M679.6 1504h0M679.8 1506.6h0M692.7 1474.2h0M692.5 1476.8h0M691.9 1479.4h0M693.2 1482h0M692.7 1484.6h0M693.2 1487.2h0M692 1489.8h0M692.9 1492.4h0M707.3 1483.8h0M707.5 1486.4h0M707.6 1489h0M706.7 1491.6h0M707.5 1494.2h0M707.1 1496.8h0M706.4 1499.4h0M706.5 1502h0M593.5 1526.9h0M594.1 1509.5h0M594.3 1503.4h0M594.6 1499.5h0M594.1 1526.5h0M597.2 1526.5h0M596.4 1520.3h0M596 1517.1h0M597 1514.7h0M595.9 1511.4h0M597.1 1503.2h0M596.5 1501.4h0M597.4 1483.8h0M596.9 1526.8h0M598.5 1526.1h0M598.9 1523.3h0M598.4 1519.3h0M597.9 1516.1h0M599.3 1514.2h0M599.6 1511.2h0M598.2 1507.5h0M598.4 1502.7h0M602 1527.4h0M600.8 1517.6h0M601.2 1509.4h0M601.4 1526.9h0M603.5 1527.2h0M602.6 1523.3h0M603.3 1517.2h0M602.9 1514.5h0M603.7 1510h0M603.8 1499.9h0M604.2 1493.5h0M603.6 1526.7h0M606.6 1527.3h0M604.8 1519.8h0M605.2 1514.8h0M604.9 1506.2h0M606.5 1503.2h0M606 1526.9h0M608.7 1526.1h0M608 1519.6h0M607.5 1517.7h0M608.3 1514.7h0M608.1 1506.5h0M607.4 1499.9h0M608.6 1491.6h0M608.3 1526.7h0M611.1 1526.7h0M609.6 1522.7h0M610.3 1520.9h0M609.5 1517.6h0M611 1514.8h0M610 1507.7h0M611.1 1504h0M610.3 1501.7h0M610.1 1491h0M610.1 1481.3h0M609.6 1476.8h0M610.3 1464.8h0M610.8 1526.8h0M612.3 1527.6h0M612.4 1521.5h0M612.1 1518.2h0M613 1503.5h0M611.9 1500.6h0M611.8 1498.2h0M612.4 1489.7h0M612.3 1478h0M612.1 1463.2h0M612.5 1459.9h0M613 1527h0M615.5 1523h0M614.4 1518.1h0M614.5 1509.6h0M615.7 1506.4h0M614.2 1503.5h0M615.3 1486.8h0M614.5 1483.1h0M614.3 1476.4h0M614.3 1470.1h0M614.2 1468.5h0M615.2 1526.9h0M616.5 1526.4h0M616.5 1523.2h0M616.7 1521h0M616.8 1516.8h0M616.4 1506.3h0M617 1504h0M617.8 1501.6h0M616.7 1498.1h0M616.9 1526.6h0M619.4 1520.7h0M618.7 1518h0M620.4 1512.6h0M620.4 1504.9h0M619.7 1500.8h0M619.1 1496.3h0M620.2 1483.1h0M619.1 1473.8h0M619.5 1467.2h0M619 1526.9h0M621.7 1526.5h0M621.7 1523.9h0M621.2 1516.8h0M621.5 1514.3h0M621.8 1509.5h0M622.4 1506.9h0M622 1474.8h0M622.6 1468.4h0M621.2 1463.9h0M621.6 1526.9h0M624.1 1524.8h0M623.7 1517.4h0M624.4 1511.4h0M623.4 1507.7h0M623.8 1499.9h0M624.2 1496.2h0M624.4 1480.8h0M623.7 1473.3h0M624.2 1526.8h0M625.8 1524.3h0M625.8 1517.1h0M626.8 1513.1h0M626.1 1504.7h0M627 1485.3h0M626.9 1481.1h0M625.9 1476.7h0M625.6 1474.6h0M627.2 1470h0M626.8 1526.6h0M629.1 1526.2h0M627.8 1521h0M629 1516.9h0M628.7 1514.8h0M628.9 1503.2h0M628.5 1485.1h0M628.5 1526.8h0M630.5 1526.6h0M631.1 1514.4h0M631.6 1509.6h0M630.3 1507.2h0M630.9 1498h0M631.4 1526.9h0M633.5 1522.5h0M633.2 1520.6h0M632.7 1510.7h0M633.3 1508.1h0M633.2 1502.9h0M633 1499.6h0M633 1493h0M633.3 1526.7h0M674.7 1520.9h0M674 1516.1h0M675.3 1507h0M674.7 1503.3h0M675.2 1501.2h0M675.1 1490.6h0M674.9 1486.3h0M675.5 1476.6h0M673.9 1474.4h0M675.2 1466.7h0M674.6 1526.8h0M677.1 1527.3h0M677.2 1521.3h0M677.8 1517.3h0M677.8 1501.7h0M676.8 1526.7h0M679.9 1526.1h0M679.9 1524.7h0M678.5 1513.4h0M680.2 1504.3h0M679.5 1487.3h0M679.9 1480.5h0M679.8 1526.6h0M681 1526.5h0M681.5 1523.7h0M681.2 1520.2h0M681.5 1513.9h0M682.3 1511.1h0M681.2 1507.1h0M681.6 1505h0M682.2 1500.1h0M682 1527h0M683.2 1526.9h0M683.3 1524.3h0M683.4 1520.6h0M684 1514.3h0M683.8 1509.6h0M683.2 1503.2h0M684 1499.7h0M683.6 1526.5h0M686 1526.4h0M686 1516.7h0M687 1514.4h0M685.3 1500.5h0M686.5 1526.9h0M689.2 1520h0M688.2 1516.1h0M688.4 1513.1h0M688.8 1507.6h0M688.7 1500.6h0M687.6 1491.3h0M687.9 1487.2h0M688.6 1526.9h0M690.8 1528.1h0M690.8 1523.5h0M691.4 1521.6h0M691.2 1517.6h0M691.3 1512.8h0M691.1 1527h0M692.4 1524.3h0M692.4 1521.2h0M693.2 1518.2h0M693 1510.6h0M693.3 1506.9h0M693.8 1502.8h0M692.8 1497h0M692.9 1493.7h0M692.3 1486.5h0M692.3 1483h0M693.5 1476.6h0M693 1475.3h0M693.1 1526.7h0M695.6 1527.2h0M695.1 1523.6h0M694.5 1521.4h0M694.8 1510.9h0M695.1 1506.7h0M694.9 1504.9h0M694.8 1500.9h0M694.6 1488.3h0M695.7 1526.8h0M698.3 1524.4h0M698.5 1520.3h0M697.8 1516.9h0M698.1 1515h0M697.2 1510.8h0M697.1 1501.8h0M698.2 1526.7h0M699.4 1526.9h0M699.7 1522.9h0M700.5 1521.2h0M699.2 1518.1h0M699.4 1514.6h0M700.1 1511.6h0M700.3 1503.7h0M700.6 1526.6h0M702 1522.7h0M701.8 1517.6h0M701.4 1510.6h0M702.6 1504.3h0M703.1 1500.4h0M702.2 1498h0M702.4 1494.2h0M702.6 1491.8h0M704 1525.9h0M704.4 1524.4h0M704.9 1520.2h0M704.6 1517.8h0M704.9 1515h0M704.5 1507.9h0M704.4 1526.6h0M706.1 1521h0M707.4 1516.3h0M707.4 1513.8h0M707.3 1490h0M706.9 1526.7h0M709.4 1522.8h0M709.3 1516.3h0M708.6 1500.9h0M710 1497h0M709.6 1526.7h0M711.7 1526.5h0M710.6 1523.5h0M711.8 1521.6h0M711.8 1513.9h0M711.2 1510.5h0M711 1508.1h0M710.6 1497.2h0M711 1489.7h0M711.5 1484.6h0M711.2 1526.5h0M767.9 1404.8h0M774 1407.9h0M815.8 1410.7h0M756.4 1425h0M756.4 1453.5h0M777 1457.4h0M770.3 1466.2h0M765.2 1477.4h0M774.3 1475.8h0M778.3 1477.4h0M828.6 1453.1h0M833.4 1452.7h0M832.6 1468.6h0M832.6 1479.8h0M870.1 1451.1h0M874.1 1451.9h0M872.5 1463.8h0M873.3 1469.4h0M878.1 1474.2h0M763.1 1486.2h0M756 1424.7h0M756.4 1427.3h0M756.3 1432.5h0M755.8 1435.1h0M756.3 1437.7h0M756.2 1440.3h0M815.5 1472.6h0M815.3 1475.2h0M815.5 1477.8h0M814.8 1480.4h0M815.1 1483h0M814.4 1485.6h0M814.4 1488.2h0M814.6 1490.8h0M815.4 1493.4h0M754 1524.2h0M753.8 1513.1h0M753.7 1509.9h0M753.4 1506.9h0M754.2 1503.2h0M752.7 1501.5h0M753.1 1493.4h0M753.5 1526.7h0M755.2 1526.3h0M756.7 1516.7h0M756.4 1514.4h0M755.8 1510.9h0M755.1 1507.1h0M755.5 1501.1h0M756.7 1496.6h0M755.3 1526.7h0M759 1526.5h0M758.9 1524.9h0M758.4 1519.5h0M757.3 1516.5h0M758.7 1507.4h0M758.1 1500.3h0M757.4 1498h0M758.7 1495.1h0M758.9 1490.4h0M757.8 1526.6h0M760.7 1524.7h0M760.3 1519.7h0M759.7 1516.9h0M759.6 1510.7h0M761.1 1506.3h0M759.9 1500.4h0M761.1 1489.9h0M759.9 1481.5h0M760.3 1526.8h0M763 1526.9h0M761.9 1524.7h0M762.9 1519.2h0M762.9 1517.8h0M762.4 1514.4h0M763 1509.5h0M762.7 1506.7h0M762 1497h0M762.8 1483.8h0M763.4 1481.8h0M762.8 1526.5h0M765 1527.9h0M765 1523h0M764.7 1520.9h0M764.8 1517.4h0M765.1 1513.7h0M765.7 1506.5h0M765.9 1503.8h0M765.6 1475.2h0M765 1526.7h0M768.2 1526.1h0M767.8 1523.5h0M766.5 1520.9h0M766.8 1517.9h0M767.4 1511h0M767.4 1507.3h0M766.7 1502.9h0M767.5 1497.9h0M767.9 1490.5h0M767.1 1478.5h0M769.3 1526.3h0M769.9 1523.4h0M770 1517.9h0M770.5 1514.1h0M770.5 1510.6h0M769.8 1526.7h0M771.2 1527.5h0M772.7 1522.9h0M772 1520.6h0M771.3 1517h0M771.6 1506.9h0M772.6 1503.5h0M772 1526.7h0M775 1526.3h0M774.7 1523.9h0M773.5 1519.5h0M774.5 1512.6h0M775.1 1510.3h0M774.8 1507.8h0M773.5 1503.1h0M774.9 1500h0M775.8 1527h0M776.9 1524.8h0M776.9 1519.4h0M776.1 1516.9h0M776.2 1514.6h0M776.9 1506.1h0M777.4 1504.9h0M776.3 1526.9h0M778.5 1523h0M779.6 1520.3h0M778 1504h0M778.5 1497.2h0M779.4 1526.7h0M781.1 1527.2h0M781.8 1521.4h0M781.4 1518.1h0M781.2 1511.5h0M781 1526.9h0M811.7 1519.2h0M811.9 1511.6h0M812 1508h0M811.8 1500.8h0M811.2 1494.7h0M813.4 1526h0M813 1523.6h0M813.2 1520.9h0M814.8 1516.8h0M813.3 1509.9h0M813.3 1504.2h0M814 1501.1h0M813.5 1497.1h0M814 1489.9h0M813.9 1486.2h0M813.5 1527h0M815.3 1524h0M816.1 1520h0M816.7 1509.8h0M815.3 1507.2h0M817 1503.2h0M816.1 1526.8h0M818.1 1526.4h0M818.1 1523.7h0M818.8 1519.8h0M818.1 1518h0M818.7 1513.2h0M819.1 1511.5h0M819 1506.4h0M818.6 1502.8h0M819.2 1500.5h0M819.1 1492.9h0M818.5 1486.5h0M818.5 1526.5h0M820.2 1526.5h0M820.3 1524.6h0M821.3 1520.4h0M820.5 1513.5h0M820.1 1504.1h0M821.2 1487.6h0M821.2 1526.9h0M823.4 1527.6h0M823.3 1523.6h0M823.2 1520.1h0M822.7 1517.6h0M822.9 1510.3h0M823.4 1504.5h0M823.4 1500.7h0M822.6 1492.9h0M823.8 1491.4h0M823.4 1526.9h0M824.8 1523.9h0M825.1 1519.4h0M824.8 1517.6h0M825.4 1514.3h0M826 1511.5h0M825.4 1526.9h0M828.3 1520.4h0M828.2 1513.6h0M828.3 1510.4h0M828.4 1507.5h0M828.1 1504.1h0M827.5 1526.6h0M829.4 1527.4h0M830.7 1524.3h0M830.8 1520h0M830.3 1516h0M830.4 1514h0M830.7 1506.5h0M829.6 1490.9h0M829.1 1486.4h0M829.8 1527h0M832 1526.2h0M832.1 1522.9h0M833 1520.2h0M832.8 1517.2h0M832.6 1513.7h0M833.1 1507.5h0M833.1 1497h0M832.1 1526.7h0M833.8 1527.5h0M834.7 1524.4h0M834.2 1519.3h0M835.4 1518.3h0M835.3 1514.8h0M834.1 1507.9h0M834.2 1497.6h0M835.5 1491.3h0M834.1 1526.8h0M837.7 1526h0M836.4 1524.3h0M837.3 1520.3h0M836.4 1509.9h0M837.5 1496.7h0M837.5 1493.3h0M837.8 1480.6h0M836 1478.4h0M837.1 1526.6h0M863.8 1528h0M864.9 1523.4h0M864.1 1520.1h0M864.8 1516.4h0M863.7 1513.8h0M864.1 1507.3h0M864.8 1502.7h0M865.2 1500.3h0M864.1 1498h0M864.2 1493.2h0M864.9 1491.4h0M863.8 1487.1h0M864.5 1483.3h0M864.7 1481h0M864.8 1473.2h0M864.6 1526.9h0M866.9 1524.1h0M866.5 1519.9h0M867.1 1516.5h0M866.9 1514.3h0M867.2 1511h0M866.1 1508.1h0M866.1 1500.6h0M866.1 1497h0M866.3 1489.9h0M866.9 1526.8h0M869.3 1528h0M869.9 1524.2h0M868.8 1519.5h0M868.5 1513.1h0M869.9 1510h0M869.6 1503.1h0M868.9 1496.5h0M868.5 1493.5h0M869.3 1473.2h0M869 1464.6h0M868.4 1461.9h0M869.4 1526.7h0M871.6 1524.6h0M870.7 1516.7h0M870.8 1512.8h0M871.7 1503.8h0M871.8 1494h0M871.1 1489.8h0M871.8 1476.5h0M871.6 1471.4h0M872 1463.5h0M870.9 1526.7h0M872.9 1527.7h0M873.6 1524.1h0M873.6 1519.3h0M873.3 1514.2h0M874.5 1509.4h0M873.3 1507h0M873 1497h0M873.5 1474.1h0M873.1 1464.5h0M873.2 1462h0M873.8 1457.5h0M873.8 1526.6h0M875.6 1526.1h0M876.1 1524.3h0M876.8 1517.1h0M876.5 1512.9h0M875.7 1511.7h0M875.5 1488.2h0M875.2 1476.4h0M876.7 1475.2h0M875.7 1467.3h0M876.2 1526.5h0M877.9 1526.1h0M878.6 1521h0M879.1 1517.4h0M878 1514.4h0M877.8 1506.8h0M878.6 1499.7h0M877.4 1496.5h0M878.8 1494h0M877.4 1489.6h0M878.6 1477.2h0M878.9 1473.1h0M877.8 1471.7h0M878.8 1526.6h0M913.7 1395h0M919.9 1454.9h0M915.1 1457.2h0M918.7 1465h0M916.3 1472.2h0M917.5 1485.4h0M921.1 1489h0M943.8 1487.8h0M951 1481.8h0M905.5 1463.8h0M906.7 1469.8h0M883.6 1431.5h0M883.5 1434.1h0M884 1436.7h0M883.8 1441.9h0M882.7 1447.1h0M882.9 1449.7h0M906.6 1463.8h0M906.2 1466.4h0M905.9 1469h0M906.8 1471.6h0M905.9 1474.2h0M906.6 1476.8h0M906.8 1479.4h0M905.7 1482h0M906.1 1484.6h0M906.6 1487.2h0M906.1 1489.8h0M905.6 1492.4h0M906.4 1497.6h0M952.5 1466.2h0M952.3 1468.8h0M952.1 1471.4h0M952.2 1474h0M951.7 1476.6h0M880.8 1527.5h0M879.7 1523.9h0M879.8 1520.3h0M880.8 1513.8h0M880.3 1506.6h0M880.5 1500.4h0M880.9 1492.9h0M880.9 1526.5h0M882.2 1527.6h0M881.8 1523.3h0M883 1519.4h0M881.8 1514.9h0M882.2 1510.1h0M883.3 1504h0M882.7 1496.3h0M882.5 1478.1h0M882.6 1526.6h0M884.6 1527.9h0M884.1 1522.8h0M885.4 1520.4h0M885 1515h0M885.4 1504h0M884.7 1496.3h0M885 1491.4h0M884.3 1480.4h0M885.1 1527h0M905.1 1526.5h0M905.3 1519.7h0M905 1517.1h0M906.2 1510.6h0M905.1 1503.7h0M905.4 1498.2h0M905.7 1495.1h0M906.5 1490h0M905.9 1526.8h0M908.2 1523.7h0M908.3 1520.1h0M907.5 1517.4h0M907.8 1514.2h0M907.2 1507.4h0M907.5 1503.5h0M908.6 1499.7h0M907.8 1497.2h0M908.1 1488.4h0M908 1475.4h0M907.9 1465.2h0M908 1526.7h0M910.7 1527.3h0M910.6 1521.5h0M909.7 1514.3h0M910.3 1506.7h0M910.9 1494.9h0M910.4 1491.5h0M910.9 1473.1h0M909.8 1470.8h0M910.4 1526.6h0M913.1 1528.1h0M913.1 1524h0M912.9 1520.3h0M913.1 1513h0M913.3 1510.1h0M913.1 1506.1h0M913.1 1503.4h0M911.7 1500.6h0M912 1498.2h0M912 1527h0M914.4 1526.5h0M915.7 1523.4h0M915.8 1511.1h0M914 1508.2h0M914.2 1486.7h0M915 1526.5h0M917.8 1522.7h0M918 1517.7h0M917 1513.5h0M916.9 1510.4h0M917.9 1506.7h0M916.5 1501.7h0M917.9 1484h0M916.7 1481.4h0M917.9 1478.2h0M917.5 1526.8h0M919.3 1526h0M918.6 1523.5h0M919.5 1502.9h0M919.1 1500.7h0M918.8 1497.4h0M919.7 1526.5h0M921.6 1519.5h0M922.5 1516.7h0M921.3 1513.6h0M922 1509.9h0M921.8 1503h0M921.4 1501.2h0M921 1490.6h0M921.5 1526.9h0M923.9 1520.8h0M924.2 1513.3h0M924.4 1509.4h0M924 1487.6h0M924.5 1527h0M939.9 1527.3h0M940 1524.3h0M939.7 1519.3h0M940.2 1516.4h0M939.9 1514.3h0M939.8 1510.6h0M940.8 1504.9h0M939.7 1498.4h0M940.5 1489.8h0M940.3 1478.6h0M941.7 1517.8h0M942.9 1514.3h0M943.3 1510.8h0M943.2 1508.1h0M942.5 1494.5h0M942.8 1526.9h0M943.9 1524.1h0M944.8 1518.1h0M943.9 1512.7h0M944.2 1506.1h0M944.5 1526.5h0M947.3 1526.7h0M947.1 1522.6h0M947.7 1519.5h0M946.9 1516.2h0M947.8 1510.4h0M947.8 1504.8h0M947.2 1498.4h0M946.6 1493.6h0M947.2 1526.8h0M949.2 1525.8h0M948.6 1523.7h0M948.5 1517.9h0M949.8 1527h0M951.5 1525.9h0M951.9 1522.7h0M951.1 1520.9h0M951.1 1516.3h0M951.6 1514.2h0M816 1376.1h0" stroke="#FFA500" stroke-width="7.1" stroke-linecap="round" fill="none"/>
<path d="M235.5 1352h0M235.5 1354.4h0M235.5 1356.8h0M235.5 1359.2h0M235.5 1361.6h0M235.5 1364h0M235.5 1366.4h0M235.5 1368.8h0M235.5 1369h0M235.5 1370.6h0M235.5 1373h0M235.5 1375.4h0M235.5 1377.8h0M235.5 1380.2h0M235.5 1382.6h0M235.5 1383h0M235.5 1409.3h0M235.5 1411.7h0M235.5 1414.1h0M235.5 1416.5h0M235.5 1418.9h0M235.5 1421.3h0M235.5 1423.7h0M235.5 1424.3h0M235.5 1436.2h0M235.5 1438.6h0M235.5 1441h0M235.5 1443.4h0M235.5 1445.8h0M235.5 1448.2h0M235.5 1450.6h0M235.5 1451.1h0M235.5 1455h0M235.5 1457.4h0M235.5 1459.8h0M235.5 1462.2h0M235.5 1464.6h0M235.5 1467h0M235.5 1469.4h0M235.5 1471.8h0M235.5 1474.2h0M235.5 1476.6h0M235.5 1477h0M235.5 1391.7h0M235.5 1493.5h0M318.4 930.5h0M318.4 932.9h0M318.4 935.3h0M318.4 937.7h0M318.4 940.1h0M318.4 942.5h0M318.4 944.9h0M318.4 947.3h0M318.4 949.7h0M318.4 952.1h0M318.4 954.5h0M318.4 956.9h0M318.4 959.3h0M318.4 961.7h0M318.4 964.1h0M318.4 966.5h0M318.4 968.9h0M318.4 971.3h0M318.4 973.7h0M318.4 976.1h0M318.4 978.5h0M318.4 980.9h0M318.4 983.3h0M318.4 985.7h0M318.4 988.1h0M318.4 990.5h0M318.4 992.9h0M318.4 993.3h0M318.4 1181h0M318.4 1183.4h0M318.4 1185.8h0M318.4 1188.2h0M318.4 1190.6h0M318.4 1193h0M318.4 1195.4h0M318.4 1197.8h0M318.4 1200.2h0M318.4 1202.6h0M318.4 1205h0M318.4 1207.4h0M318.4 1209.8h0M318.4 1212.2h0M318.4 1214.6h0M318.4 1217h0M318.4 1219.4h0M318.4 1221.8h0M318.4 1224.2h0M318.4 1226.6h0M318.4 1229h0M318.4 1231.4h0M318.4 1233.8h0M318.4 1236h0M318.4 1279.4h0M318.4 1281.8h0M318.4 1284.2h0M318.4 1286.6h0M318.4 1289h0M318.4 1291.4h0M318.4 1293.8h0M318.4 1296.2h0M318.4 1298.6h0M318.4 1301h0M318.4 1303.4h0M318.4 1305.8h0M318.4 1308.2h0M318.4 1310.6h0M318.4 1313h0M318.4 1313.9h0M318.4 1359.4h0M318.4 1361.8h0M318.4 1364.2h0M318.4 1366.6h0M318.4 1369h0M318.4 1371.4h0M318.4 1373.8h0M318.4 1376.2h0M318.4 1378.6h0M318.4 1381h0M318.4 1383.4h0M318.4 1385.8h0M318.4 1388.2h0M318.4 1390.6h0M318.4 1393h0M318.4 1395.4h0M318.4 1397.8h0M318.4 1400.2h0M318.4 1402.6h0M318.4 1405h0M318.4 1407.4h0M318.4 1409.8h0M318.4 1412.2h0M318.4 1414.6h0M318.4 1417h0M318.4 1419.4h0M318.4 1421.8h0M318.4 1424.2h0M318.4 1426.6h0M318.4 1429h0M318.4 1431.4h0M318.4 1433.8h0M318.4 1436.2h0M318.4 1438.6h0M318.4 1441h0M318.4 1442h0M318.4 1449h0M318.4 1451.4h0M318.4 1453.8h0M318.4 1456.2h0M318.4 1458.6h0M318.4 1459.6h0M318.4 1006.1h0M318.4 1035.9h0M318.4 1047.4h0M318.4 1052.4h0M318.4 1095h0M318.4 1246.9h0M318.4 1259.9h0M318.4 1326.2h0M318.4 1355.5h0M318.4 1472.6h0" stroke="#1E90FF" stroke-width="7.1" stroke-linecap="round" fill="none"/>
<path d="M48 900.2V1557.7H995" stroke="#262626" stroke-width="2" fill="none" stroke-linecap="butt"/>
<path d="M48 1363H995" stroke="#000" stroke-width="2" stroke-dasharray="5 5" fill="none"/>
<path d="M44.6 967.5H48" stroke="#333" stroke-width="1.5"/>
<text x="42" y="973.1" class="yt">20</text>
<path d="M44.6 1132.3H48" stroke="#333" stroke-width="1.5"/>
<text x="42" y="1137.9" class="yt">15</text>
<path d="M44.6 1297.1H48" stroke="#333" stroke-width="1.5"/>
<text x="42" y="1302.7" class="yt">10</text>
<path d="M44.6 1461.9H48" stroke="#333" stroke-width="1.5"/>
<text x="42" y="1467.5" class="yt">5</text>
<path d="M128.1 1557.7v3.4" stroke="#333" stroke-width="1.5"/>
<text x="128.1" y="1573.9" class="xt">1</text>
<path d="M200.6 1557.7v3.4" stroke="#333" stroke-width="1.5"/>
<text x="200.6" y="1573.9" class="xt">2</text>
<path d="M266.8 1557.7v3.4" stroke="#333" stroke-width="1.5"/>
<text x="266.8" y="1573.9" class="xt">3</text>
<path d="M325.1 1557.7v3.4" stroke="#333" stroke-width="1.5"/>
<text x="325.1" y="1573.9" class="xt">4</text>
<path d="M380.5 1557.7v3.4" stroke="#333" stroke-width="1.5"/>
<text x="380.5" y="1573.9" class="xt">5</text>
<path d="M432.9 1557.7v3.4" stroke="#333" stroke-width="1.5"/>
<text x="432.9" y="1573.9" class="xt">6</text>
<path d="M481.4 1557.7v3.4" stroke="#333" stroke-width="1.5"/>
<text x="481.4" y="1573.9" class="xt">7</text>
<path d="M527.2 1557.7v3.4" stroke="#333" stroke-width="1.5"/>
<text x="527.2" y="1573.9" class="xt">8</text>
<path d="M571.6 1557.7v3.4" stroke="#333" stroke-width="1.5"/>
<text x="571.6" y="1573.9" class="xt">9</text>
<path d="M613.2 1557.7v3.4" stroke="#333" stroke-width="1.5"/>
<text x="613.2" y="1573.9" class="xt">10</text>
<path d="M653.9 1557.7v3.4" stroke="#333" stroke-width="1.5"/>
<text x="653.9" y="1573.9" class="xt">11</text>
<path d="M695 1557.7v3.4" stroke="#333" stroke-width="1.5"/>
<text x="695" y="1573.9" class="xt">12</text>
<path d="M734.7 1557.7v3.4" stroke="#333" stroke-width="1.5"/>
<text x="734.7" y="1573.9" class="xt">13</text>
<path d="M768.3 1557.7v3.4" stroke="#333" stroke-width="1.5"/>
<text x="768.3" y="1573.9" class="xt">14</text>
<path d="M799.7 1557.7v3.4" stroke="#333" stroke-width="1.5"/>
<text x="799.7" y="1573.9" class="xt">15</text>
<path d="M825.7 1557.7v3.4" stroke="#333" stroke-width="1.5"/>
<text x="825.7" y="1573.9" class="xt">16</text>
<path d="M850.6 1557.7v3.4" stroke="#333" stroke-width="1.5"/>
<text x="850.6" y="1573.9" class="xt">17</text>
<path d="M875.1 1557.7v3.4" stroke="#333" stroke-width="1.5"/>
<text x="875.1" y="1573.9" class="xt">18</text>
<path d="M894.9 1557.7v3.4" stroke="#333" stroke-width="1.5"/>
<text x="894.9" y="1573.9" class="xt">19</text>
<path d="M913.2 1557.7v3.4" stroke="#333" stroke-width="1.5"/>
<text x="913.2" y="1573.9" class="xt">20</text>
<path d="M932.3 1557.7v3.4" stroke="#333" stroke-width="1.5"/>
<text x="932.3" y="1573.9" class="xt">21</text>
<path d="M947.3 1557.7v3.4" stroke="#333" stroke-width="1.5"/>
<text x="947.3" y="1573.9" class="xt">22</text>
<text x="521.3" y="1592.8" class="xl">Position</text>
<text transform="translate(19.8 1229) rotate(-90)" class="yl" textLength="135.5" lengthAdjust="spacingAndGlyphs">−log10(P−value)</text>
<path d="M106.3 2259h0M106.3 2263.8h0M102.4 2268.6h0M112.7 2271h0M112.7 2276.6h0M91.5 2286.2h0M91.5 2290.2h0M112.7 2289.4h0M138.3 2284.6h0M118.3 2311.7h0M150.3 2317.3h0M150.3 2323.7h0M157.4 2326.1h0M150.3 2334.9h0M91.2 2328.5h0M116.7 2328.5h0M126.3 2352.5h0M156.6 2341.3h0M137.7 2298.2h0M138.5 2300.8h0M137.7 2303.4h0M138.6 2306h0M138.6 2308.6h0M137.8 2311.2h0M138.2 2313.8h0M139 2316.4h0M137.6 2319h0M137.9 2324.2h0M138.1 2326.8h0M137.9 2332h0M138.3 2334.6h0M150.1 2299.8h0M150.7 2302.4h0M150.6 2307.6h0M150.5 2310.2h0M150.7 2312.8h0M149.8 2315.4h0M149.9 2318h0M150 2320.6h0M150.1 2323.2h0M150.7 2325.8h0M150 2336.2h0M150.4 2338.8h0M113 2269.4h0M112.3 2272h0M113 2277.2h0M112.6 2279.8h0M113.4 2285h0M112.7 2287.6h0M112.7 2290.2h0M112.8 2292.8h0M112.2 2295.4h0M112.3 2300.6h0M113 2303.2h0M112.7 2305.8h0M113.1 2308.4h0M112.6 2311h0M112.9 2313.6h0M112.2 2316.2h0M113 2318.8h0M96.6 2303h0M95.6 2305.6h0M96.6 2308.2h0M95.3 2310.8h0M102.1 2317.3h0M101.7 2319.9h0M102.9 2322.5h0M92.5 2376.9h0M91.9 2374.1h0M91.4 2359.5h0M92.1 2354.9h0M91.8 2350.4h0M92.4 2337.3h0M93.6 2373.9h0M94.1 2363.1h0M95.1 2360.3h0M93.9 2357.1h0M93.7 2349.9h0M95 2346.5h0M94.8 2340.1h0M93.5 2331.5h0M94.4 2376.8h0M96.9 2374h0M96.7 2354.6h0M95.8 2337.7h0M97.4 2334h0M97 2376.9h0M98.2 2377.9h0M98.7 2374.7h0M98.9 2367.5h0M98.2 2364.7h0M99.3 2361.1h0M99.5 2354.6h0M99.6 2350.9h0M98.3 2346.3h0M98.1 2333.9h0M98.5 2328.3h0M98.7 2324.2h0M98 2319.9h0M99.7 2318.5h0M99.4 2376.8h0M101 2370.9h0M100.7 2362.6h0M101.5 2351h0M101.9 2347.7h0M101.1 2337.1h0M101.4 2334.5h0M104 2378.1h0M102.7 2373.9h0M103.6 2361.1h0M103 2357.7h0M104.3 2346.8h0M103.7 2340.4h0M103.8 2331h0M104.3 2324.7h0M104.2 2317.4h0M103.5 2376.8h0M105.5 2368.2h0M106.5 2359.6h0M105 2357.6h0M105.7 2350h0M105.9 2333.3h0M105.8 2377h0M108.7 2376.5h0M108.6 2374.5h0M107.5 2366.9h0M108 2354.3h0M108.1 2351.4h0M107.3 2328.5h0M108.5 2376.7h0M109.9 2376.6h0M110.1 2363.5h0M110.1 2361.5h0M110.4 2354.5h0M110.1 2350.8h0M111.1 2346.1h0M110 2323.2h0M110.6 2376.9h0M113.1 2371.3h0M112.3 2366.8h0M113.2 2359.9h0M112.6 2337.6h0M113.3 2333.6h0M112.1 2377h0M115.3 2376.9h0M115.6 2364.4h0M114.2 2359.8h0M115.1 2358.4h0M114.4 2351.7h0M115.7 2343.8h0M114.4 2376.6h0M117.3 2374.2h0M116.7 2366.6h0M117.5 2364.1h0M117.7 2357.3h0M116.5 2341.5h0M117.7 2327.5h0M116.6 2323.1h0M117.6 2376.8h0M119.5 2370.1h0M119.9 2366h0M120.3 2364.4h0M120.4 2351.5h0M119.6 2344h0M119.3 2376.5h0M121.1 2373.2h0M121.3 2370.1h0M122.3 2359.6h0M121.6 2354.9h0M121.7 2348.3h0M121.8 2343.4h0M121.3 2335.2h0M121.4 2376.7h0M123.8 2374h0M124.2 2366h0M124.9 2364.9h0M124.8 2361.7h0M124.8 2356.7h0M123.6 2376.7h0M126.5 2366.3h0M127.3 2363.7h0M126.4 2376.7h0M134.5 2369.9h0M134.6 2367.1h0M134.3 2364.6h0M135.9 2337.6h0M135.2 2330.4h0M135.9 2313.6h0M134.6 2376.8h0M136.8 2377.3h0M137.8 2367h0M137.6 2358.3h0M137.5 2355.1h0M137.9 2348.3h0M138.3 2336.6h0M137.3 2376.5h0M139.4 2376.6h0M140.5 2369.2h0M140.6 2365h0M140 2353.3h0M139.2 2343.7h0M139.4 2330.7h0M140.2 2376.9h0M141.6 2377.1h0M141.7 2370.3h0M142.9 2363.3h0M141.5 2346.4h0M142.5 2335.2h0M142.9 2330.8h0M141.1 2328h0M142.4 2376.9h0M145 2377h0M144.9 2373.5h0M144 2370.6h0M144.1 2361h0M144.6 2346.7h0M143.6 2341.5h0M145.1 2324.9h0M143.7 2376.8h0M147.1 2376.2h0M146.4 2373.1h0M146 2369.9h0M146.4 2367.5h0M146.6 2356.4h0M146.2 2351.6h0M146 2341.5h0M146.9 2336.6h0M145.9 2330.1h0M146.5 2325.2h0M146.9 2317.1h0M146.2 2376.9h0M149.6 2369.6h0M148.5 2376.8h0M151.5 2376.9h0M151.6 2369.5h0M151.8 2367.9h0M151 2364.4h0M151.5 2361h0M151.8 2346.5h0M151.8 2344h0M151.2 2317.7h0M150.7 2376.9h0M154 2377.7h0M153.5 2372.5h0M154.2 2371.5h0M153.1 2361h0M152.8 2352.9h0M153.5 2345h0M153.6 2330.7h0M155 2376.6h0M155.6 2364h0M155.4 2359.7h0M155.1 2358.4h0M155.1 2347.7h0M155.3 2330h0M156.6 2327.9h0M155.8 2376.8h0M157.7 2374.1h0M158.2 2369.3h0M158 2368.1h0M158 2359.8h0M158.3 2357.8h0M157.5 2344h0M157.9 2341h0M158.2 2327.9h0M158.7 2323.5h0M157.8 2376.8h0M160.1 2376h0M160.4 2369.3h0M159.9 2364.5h0M160.5 2360h0M160.1 2356.9h0M160.1 2376.8h0M163.1 2376.6h0M163.4 2359.4h0M161.9 2354.8h0M162.2 2343.5h0M162.8 2338.2h0M162.5 2333.5h0M163.2 2376.8h0M164.9 2369.4h0M164.9 2368h0M165.1 2377h0M238.8 2377.6h0M239.1 2374.9h0M238.7 2369.6h0M239.4 2366.9h0M238.2 2357.5h0M238.9 2376.8h0M294.3 2195.6h0M294.3 2208.4h0M294.3 2292.6h0M294.3 2303h0M244 2310.1h0M260 2320.2h0M286.3 2311.7h0M291.1 2318.9h0M276.7 2329.3h0M256.8 2338.9h0M261.6 2343.7h0M269.5 2347.7h0M376.5 2270.2h0M376.5 2279.8h0M388.8 2275.8h0M388.8 2290.2h0M386.9 2304.6h0M395.7 2303.8h0M397.3 2299h0M355 2301.4h0M372.5 2320.5h0M369.3 2324.5h0M375.7 2330.9h0M381.3 2332.5h0M293.7 2255h0M294 2257.6h0M294.7 2260.2h0M294.3 2262.8h0M294.1 2265.4h0M294.5 2268h0M294.5 2273.2h0M294 2275.8h0M294.6 2278.4h0M293.8 2281h0M386.7 2301.4h0M387.3 2306.6h0M387.4 2309.2h0M387.3 2311.8h0M387 2314.4h0M386.5 2317h0M387.3 2319.6h0M386.9 2322.2h0M394.4 2320.5h0M394.3 2323.1h0M395.2 2325.7h0M394.6 2328.3h0M395.6 2330.9h0M394.3 2333.5h0M394.9 2336.1h0M394.7 2338.7h0M241.2 2378.1h0M240.9 2361.3h0M240.3 2356.6h0M241.3 2350h0M241.3 2344.7h0M240.5 2376.6h0M243.7 2373.1h0M243.2 2364.3h0M243.3 2360.9h0M242.8 2357.1h0M243.9 2352.8h0M243.8 2340.3h0M243.9 2337.2h0M242.6 2334.7h0M243.2 2315.1h0M243.4 2311.1h0M243 2376.7h0M245.3 2373.1h0M245.8 2360.7h0M244.7 2357h0M245.7 2352.9h0M245 2350h0M244.7 2342.9h0M245.7 2323.9h0M245.3 2310.8h0M245.6 2304h0M245.6 2376.6h0M248.3 2375.9h0M246.9 2373.3h0M248.1 2367.5h0M248.5 2361.1h0M247.9 2356.8h0M247.4 2337.9h0M250.4 2370.3h0M249.6 2367.7h0M250.7 2360h0M249.9 2356.2h0M249.3 2354.7h0M250 2344.1h0M250.4 2327.9h0M250.4 2321h0M249.6 2377h0M253.1 2376.8h0M253.2 2373.5h0M251.5 2370.3h0M252 2367.6h0M252.5 2360h0M251.6 2350h0M252.2 2348.4h0M254.7 2376.9h0M254.4 2374.3h0M255.4 2341.3h0M255.4 2335h0M254.5 2376.8h0M257.2 2377.4h0M257.6 2371h0M257.5 2367.5h0M256.9 2363.9h0M257.3 2349.5h0M256.9 2342.8h0M256.8 2376.6h0M258.8 2372.6h0M259.4 2366.1h0M259.6 2364.1h0M259.1 2353.4h0M259.5 2376.9h0M262.3 2377.4h0M262.2 2374.5h0M262.3 2371.3h0M261.1 2366.9h0M261.5 2356.9h0M261.3 2376.5h0M263.4 2374.8h0M264.3 2359.7h0M263.7 2356h0M264.4 2354.7h0M263.5 2346.3h0M263.4 2344.5h0M264.3 2333.6h0M264.3 2376.9h0M265.5 2377.8h0M265.4 2374.5h0M266.3 2362.9h0M266.8 2354h0M266.1 2376.6h0M268.3 2377.9h0M268.3 2372.8h0M267.9 2368.1h0M269 2361.1h0M267.6 2353.5h0M269 2345.1h0M267.7 2341.9h0M267.8 2334.6h0M268.3 2376.5h0M270 2373.2h0M271.2 2367.8h0M271.3 2362.9h0M270.6 2358h0M270.6 2376.9h0M272.2 2376.8h0M272.6 2372.8h0M273.3 2369.9h0M273.4 2363.8h0M272.8 2354.4h0M272.5 2376.8h0M275 2374.1h0M275.8 2370.3h0M275.7 2365h0M275.1 2354.2h0M275.9 2350.8h0M275 2344.7h0M275.5 2337.6h0M275.2 2334.1h0M275.6 2376.8h0M278.4 2376.1h0M277.5 2374.5h0M278.1 2364.1h0M277.2 2361.4h0M277.5 2350.4h0M278.5 2346.8h0M277.5 2338.3h0M278.1 2334.5h0M276.9 2323.3h0M277.8 2376.7h0M279.4 2364.5h0M280.5 2360h0M279 2351.2h0M279 2340.3h0M279.4 2337h0M280.7 2330h0M279.5 2314.9h0M280.3 2376.5h0M282.3 2366.9h0M281.3 2352.8h0M282.7 2347.8h0M281.6 2340.7h0M282.3 2336.9h0M281.9 2377h0M283.8 2377.5h0M285 2370.1h0M285.2 2366.2h0M284.3 2354.5h0M284.3 2347.1h0M285.3 2344.4h0M285.2 2331.6h0M284.1 2320.4h0M284.3 2377h0M286.4 2378h0M287.2 2373.4h0M286.4 2366.5h0M287.3 2353.3h0M286.4 2351.4h0M286.7 2341.3h0M288.7 2376.3h0M288.2 2374.5h0M289.5 2355.1h0M289.9 2350.2h0M289 2344.7h0M289.4 2337.8h0M289.1 2328.7h0M288.4 2323.4h0M289.2 2376.6h0M292.1 2372.7h0M290.5 2367.2h0M290.6 2363.7h0M291.8 2360.4h0M290.6 2354.1h0M291.7 2351.5h0M290.8 2347.1h0M291.2 2343.6h0M292 2333h0M291.7 2376.8h0M294.2 2376.9h0M292.9 2373.2h0M294.2 2366.3h0M293.1 2361.3h0M293 2356.2h0M293 2347.7h0M293.3 2341.5h0M293.1 2376.5h0M295.1 2369.9h0M296.1 2363h0M296.6 2360.1h0M296.7 2354.5h0M296.9 2348.4h0M296.6 2376.6h0M355.9 2378.1h0M355.4 2373.8h0M355.4 2366.2h0M355 2359.6h0M355.6 2354.8h0M356.6 2351.7h0M355.7 2343h0M355.6 2334.9h0M356.2 2326.5h0M355 2325.3h0M356.6 2322h0M355.8 2377h0M357.8 2371.2h0M358.8 2363.6h0M357.6 2353.2h0M357.7 2342.9h0M357.9 2376.9h0M361.1 2376.3h0M359.6 2374.1h0M359.7 2368.1h0M359.7 2358h0M360.6 2344.7h0M360.8 2324.7h0M360.5 2376.9h0M362.7 2364h0M363.6 2361.3h0M363.4 2353.7h0M362.6 2351.7h0M362.8 2337.1h0M362.3 2376.9h0M364.2 2372.7h0M364.5 2369.5h0M365.7 2367.6h0M365.6 2364.4h0M365.5 2360.5h0M364.8 2354.1h0M364.4 2350.3h0M364.6 2376.6h0M367.4 2369.3h0M367 2367.3h0M367.4 2363.8h0M367 2350.9h0M367.6 2347.7h0M367.7 2345.1h0M369.2 2377h0M369.4 2373.6h0M369.3 2367.3h0M369.3 2354.1h0M369.6 2350.7h0M370 2346.3h0M369.4 2376.9h0M371.3 2376.8h0M371.8 2374.1h0M371.6 2369.8h0M371.5 2367.5h0M371.2 2361.3h0M371.3 2348.3h0M371.9 2323.1h0M374.5 2377.8h0M374.7 2374.1h0M374.1 2370.2h0M375 2362.8h0M374.8 2361.3h0M374.9 2346.2h0M375 2335.2h0M374 2329.6h0M374.8 2328.1h0M374.8 2320.5h0M373.8 2376.5h0M375.9 2360.8h0M376.8 2352.8h0M376.9 2376.7h0M378.4 2374.2h0M379.6 2367.7h0M378.2 2364.2h0M378.4 2360.9h0M378 2343.7h0M378.5 2333.1h0M378.6 2376.5h0M380.4 2376.4h0M381.3 2374.8h0M380.9 2367.2h0M380.6 2365h0M380.7 2347.3h0M381.2 2376.5h0M384.1 2377.6h0M382.5 2367.2h0M382.8 2360.3h0M383.1 2355h0M383.4 2350.4h0M383.6 2321.4h0M383.6 2317.1h0M383.6 2376.6h0M386.1 2372.9h0M385.8 2370.6h0M386.3 2368h0M386.5 2360.3h0M384.9 2354.8h0M385.4 2349.8h0M385.3 2320.9h0M386.2 2376.9h0M387.4 2377.1h0M387.3 2372.6h0M388 2361.1h0M387.8 2350h0M388.6 2347.9h0M388 2343h0M388.8 2340.2h0M387.6 2376.7h0M391.1 2376.6h0M390.8 2372.6h0M390.5 2367.4h0M390.8 2347.4h0M390.8 2376.5h0M392 2372.6h0M393.1 2370.7h0M391.8 2363.8h0M392.8 2329.9h0M392.6 2376.6h0M395 2374.3h0M394.3 2364.5h0M394.7 2361h0M394.4 2357.7h0M395.3 2353h0M395.2 2349.6h0M395.6 2347h0M394.4 2343.6h0M395.6 2341h0M394.6 2376.6h0M397.9 2376h0M397.9 2369.4h0M397.1 2359.3h0M397.6 2356h0M397.4 2354.2h0M396.6 2348.2h0M396.3 2339.7h0M396.4 2337h0M398.1 2335.2h0M396.7 2376.6h0M400.2 2376.9h0M399.5 2373.4h0M399.1 2366.5h0M399.5 2356.9h0M399 2354.1h0M398.9 2337.3h0M399.5 2327.5h0M399.7 2323.1h0M399.9 2376.5h0M559.7 2222.3h0M559.7 2249h0M559.7 2264.6h0M503.5 2270.4h0M551.4 2273.4h0M559.7 2284.6h0M406.4 2284.6h0M403.2 2299h0M464.2 2292.1h0M461.2 2303h0M473.5 2307.7h0M494.2 2295h0M503.5 2295.8h0M503.8 2301.4h0M468.7 2315.7h0M408 2326.1h0M400 2332.5h0M407.2 2340.5h0M407.2 2350.1h0M494.4 2295h0M493.7 2297.6h0M493.9 2300.2h0M493.8 2302.8h0M494.5 2305.4h0M494.7 2308h0M494.1 2310.6h0M494.7 2313.2h0M493.9 2315.8h0M494.4 2318.4h0M493.6 2321h0M488.9 2312.5h0M489.8 2315.1h0M489.5 2317.7h0M489.8 2320.3h0M489.9 2322.9h0M489.7 2325.5h0M489.3 2328.1h0M489.5 2330.7h0M503.4 2339.7h0M503.9 2342.3h0M503.9 2344.9h0M504.2 2347.5h0M503.7 2350.1h0M503.3 2352.7h0M504.1 2355.3h0M504.4 2357.9h0M504.4 2360.5h0M503.2 2363.1h0M469 2315.7h0M468.1 2318.3h0M469.2 2320.9h0M468.7 2323.5h0M469.2 2326.1h0M468 2328.7h0M468.4 2331.3h0M469.3 2333.9h0M468 2339.1h0M400 2377.2h0M399.9 2365.9h0M400.5 2363.2h0M400.6 2357.5h0M400.7 2353.6h0M400.3 2330.6h0M400.6 2376.6h0M402.3 2374.1h0M402.7 2363.5h0M403 2356.8h0M402.8 2376.6h0M404.5 2373.1h0M405.2 2366.9h0M405.1 2357.9h0M405.6 2349.7h0M405.7 2348.1h0M405.2 2341.1h0M406.9 2377.4h0M406.7 2373.2h0M407.7 2370h0M407.3 2368h0M407.1 2355h0M406.6 2347h0M408 2339.5h0M406.7 2376.6h0M460.3 2377.3h0M460.9 2373.5h0M460.5 2367.8h0M459.9 2359.4h0M459.6 2356.6h0M460.6 2354.7h0M460.9 2351h0M460.1 2346.4h0M460.4 2376.6h0M461.7 2374.3h0M462.1 2367.5h0M462.2 2347.7h0M465.5 2376.6h0M465.2 2373.2h0M465.3 2369.8h0M464.8 2367.3h0M465.2 2363.4h0M465 2345h0M464.9 2337.4h0M463.8 2331.3h0M464.4 2376.7h0M466.6 2377h0M466.5 2374.5h0M467.2 2371.6h0M467.1 2367.9h0M467.9 2360.4h0M467 2357.8h0M467.5 2353.8h0M466.5 2350.2h0M466.5 2337.8h0M466.5 2318.2h0M467 2315.5h0M466.7 2376.6h0M469.3 2376.4h0M468.8 2364.3h0M469.3 2360.4h0M468.9 2357.7h0M469.2 2349.6h0M469.4 2346.6h0M469.4 2341.9h0M469.2 2330.4h0M469.7 2318.2h0M468.9 2376.6h0M471.3 2377.8h0M471.6 2366.3h0M471.5 2357.3h0M471.1 2354.7h0M470.8 2351.5h0M470.9 2346.2h0M471.6 2336.9h0M474.7 2372.7h0M474.7 2371.3h0M473.4 2361.5h0M474 2354.8h0M474.2 2351.2h0M473.1 2340.5h0M474.6 2324h0M473.6 2321.4h0M474.6 2318.3h0M473.8 2376.6h0M476.2 2374.3h0M476.3 2370.5h0M476.6 2357.7h0M477 2349.5h0M475.9 2347.4h0M476.7 2344.9h0M476.8 2328.5h0M475.8 2376.6h0M478.1 2376.5h0M478.1 2374h0M479.4 2371.1h0M479 2366h0M478.4 2364.2h0M478.8 2360.8h0M478.3 2354.8h0M478.8 2351.8h0M479.3 2333.6h0M478.5 2376.9h0M481.5 2373.6h0M481.4 2368.2h0M481.4 2363.9h0M481.1 2360.3h0M480.2 2356.2h0M481.5 2354.3h0M481 2376.6h0M482.9 2376.7h0M482.4 2374.7h0M483.6 2363.2h0M483 2357.8h0M482.8 2350.8h0M483 2347.2h0M484 2343.3h0M483 2331.5h0M483.5 2327.7h0M482.7 2376.5h0M485.8 2377.1h0M484.8 2357.4h0M485.7 2350.5h0M485.3 2347.4h0M486 2333.9h0M484.9 2324.2h0M484.8 2319.8h0M485.4 2377h0M487.2 2373.4h0M488.6 2366.6h0M487.3 2359.5h0M487.1 2358.2h0M487.8 2353.7h0M486.8 2344.7h0M487.6 2341.2h0M487.7 2317.3h0M488 2297.6h0M487.5 2376.6h0M490.2 2376.4h0M490.6 2370.3h0M489.1 2367.2h0M490.2 2360.2h0M489.7 2352.7h0M490.5 2341h0M489.6 2331.2h0M489.9 2297.1h0M490.4 2376.8h0M492.6 2366.7h0M492.9 2356h0M491.6 2347h0M492.5 2343.7h0M491.5 2336.5h0M493 2323.1h0M492.6 2318.6h0M495 2373h0M494.6 2366.3h0M494.3 2363.7h0M494.9 2361.5h0M495.3 2357h0M494.5 2347.5h0M494.6 2341.8h0M494.9 2338.2h0M494.7 2330.7h0M495.5 2327.2h0M494.2 2324.3h0M494.6 2317.8h0M494 2377h0M497.7 2376.9h0M496.7 2372.9h0M497.1 2357.5h0M497.7 2354.5h0M496.7 2341.1h0M496.2 2338.2h0M497.6 2334.2h0M497.1 2320.6h0M497.7 2316.8h0M496.4 2376.8h0M499.2 2373.6h0M499.5 2367.8h0M499.2 2364.2h0M499.1 2361.4h0M500 2346.4h0M499.1 2340.9h0M499 2376.9h0M502.3 2376.7h0M502.2 2372.8h0M501.1 2369.2h0M501.1 2366.7h0M502.2 2357.4h0M502.4 2354.6h0M502.4 2351.3h0M504.2 2377.1h0M504 2368h0M504.2 2356.8h0M503.5 2354.3h0M504.4 2350.5h0M502.9 2343.3h0M503.9 2339.7h0M503.6 2337h0M504.1 2376.7h0M505.8 2378h0M505.9 2373.3h0M505.9 2370.7h0M506.3 2366.3h0M506.1 2350.2h0M551.8 2372.7h0M552 2371.5h0M552.9 2363.7h0M552.8 2360.5h0M551.5 2347.9h0M551.3 2330h0M552.3 2317.6h0M552.4 2376.9h0M554.7 2376.6h0M554 2334.5h0M553.6 2330.2h0M554.3 2327.9h0M554.3 2376.7h0M557.3 2360.6h0M556.1 2354.4h0M557.3 2341h0M558.8 2377.2h0M559.8 2367.2h0M558.4 2361.2h0M559.8 2355h0M559.6 2349.8h0M558.2 2346.6h0M558.7 2345h0M559.3 2376.8h0M585.9 2231.9h0M582.4 2297.8h0M591.1 2305.3h0M592.7 2311.7h0M585.5 2317.3h0M578.4 2321.3h0M662.2 2286.2h0M663.8 2303h0M672.6 2304.2h0M651.8 2307.7h0M657.4 2311.7h0M663 2314.1h0M646.2 2314.1h0M634.3 2314.9h0M670.2 2315.7h0M657.4 2323.7h0M646.2 2330.9h0M670.2 2332.5h0M561.2 2304.6h0M561 2307.2h0M561.6 2309.8h0M561.9 2312.4h0M561 2315h0M562.1 2317.6h0M561.8 2320.2h0M561.8 2322.8h0M562 2325.4h0M561.4 2328h0M561.2 2330.6h0M561.6 2333.2h0M561 2335.8h0M560.9 2338.4h0M561.9 2341h0M561.8 2343.6h0M561.2 2346.2h0M561.6 2348.8h0M561.7 2351.4h0M561.3 2354h0M560.9 2377.7h0M560.1 2363.8h0M560.7 2338.5h0M561.2 2335.3h0M560.2 2315.4h0M561 2306.8h0M560.7 2376.7h0M562.8 2367.5h0M562.5 2360.9h0M563.3 2353.1h0M562.8 2343.9h0M562.8 2333.4h0M563 2320.9h0M561.8 2307.5h0M562.9 2376.8h0M570.2 2377.1h0M570.3 2370.7h0M569.6 2360.5h0M570.8 2351.1h0M570.3 2330.1h0M571.9 2376.3h0M571.8 2363.7h0M571.9 2356.8h0M573.5 2354.1h0M575.4 2377.3h0M575.4 2366.2h0M575.7 2361.3h0M574.4 2350.7h0M574.5 2347.8h0M574.5 2333.3h0M574.5 2376.9h0M577.6 2374.6h0M577.7 2366.1h0M577.2 2363.9h0M576.5 2361.3h0M578.1 2357.8h0M576.6 2343.3h0M577.7 2341.6h0M577.9 2334.7h0M576.7 2330.7h0M577.6 2327.2h0M577.2 2376.8h0M579.2 2376.1h0M580.1 2367.4h0M579.3 2363.1h0M580 2361.1h0M578.9 2358.4h0M578.9 2346.7h0M579 2341.2h0M580 2338h0M579.7 2376.8h0M582.4 2377.4h0M582.1 2373.4h0M582.4 2371.1h0M582 2367.5h0M581.5 2364.1h0M581.4 2356.3h0M581.5 2343.3h0M582.1 2340.8h0M581.2 2309.9h0M581.8 2376.6h0M584.8 2377.2h0M583.4 2374.6h0M583.3 2370.3h0M584.6 2317.3h0M584.2 2376.5h0M586.1 2369.8h0M586.2 2364.5h0M585.7 2358.4h0M586.5 2346.3h0M586.1 2343.5h0M586.7 2376.7h0M589.3 2377.6h0M588.8 2374.9h0M588.9 2370h0M589.1 2366.2h0M588.4 2359.7h0M588.5 2354h0M588.7 2350.2h0M588.5 2343.4h0M588 2339.5h0M588.2 2376.8h0M592 2378.1h0M590.3 2374.4h0M590.4 2367.4h0M591.6 2353.3h0M590.9 2349.4h0M590.6 2346.3h0M591.4 2343.1h0M591.1 2338h0M591.3 2376.9h0M592.6 2367h0M592.6 2357h0M635.3 2376.8h0M635.6 2372.8h0M634.1 2363h0M635.3 2358.2h0M634.5 2354.2h0M635 2376.5h0M637.3 2376.6h0M636.8 2370.6h0M636.8 2360.9h0M638 2352.8h0M637.5 2347h0M636.4 2329.8h0M638 2327.6h0M637.2 2377h0M638.9 2374.7h0M639 2370.9h0M639.4 2352.9h0M638.7 2343h0M639.2 2376.8h0M642.3 2374.8h0M642.4 2364.9h0M642.1 2376.6h0M643.7 2373.7h0M644.2 2369.7h0M643.5 2363.5h0M644.1 2356.9h0M643.1 2347.4h0M644.4 2344.9h0M643.8 2377h0M646.1 2377.6h0M646.3 2373.7h0M646.1 2370h0M646.1 2366.4h0M645.7 2363.4h0M646 2356.1h0M646.2 2354.1h0M646.9 2349.9h0M645.7 2376.7h0M647.9 2372.6h0M649.2 2363h0M649.1 2361.4h0M649 2321.4h0M648.6 2318.3h0M648.1 2376.6h0M650.4 2372.6h0M651.8 2371.3h0M651.6 2353.6h0M650.9 2346.9h0M650.8 2344.5h0M651.2 2325.3h0M651 2376.8h0M652.4 2369.7h0M652.4 2362.8h0M653.8 2359.4h0M653 2358.3h0M653.2 2355h0M653.8 2351.3h0M653.6 2346.9h0M654.1 2337.8h0M653.3 2376.5h0M655.9 2376.2h0M655.2 2374.3h0M655.1 2369.5h0M654.9 2367.6h0M654.8 2363.5h0M656.3 2353.4h0M656.1 2376.8h0M658.2 2377.7h0M657.3 2373.3h0M657.3 2370.4h0M657.7 2367.1h0M657.7 2364.2h0M658.3 2357.6h0M657.1 2340.1h0M657.4 2337.5h0M657.7 2376.6h0M660.2 2376.3h0M659.3 2369.9h0M660.2 2356.8h0M659.6 2348.4h0M660.4 2336.7h0M659.7 2376.9h0M662 2377.6h0M663.1 2374.7h0M662.8 2370.5h0M662.6 2364.6h0M661.6 2361.3h0M661.6 2355h0M661.7 2335.1h0M661.6 2331.1h0M662 2328.3h0M662.9 2314.2h0M662.8 2376.8h0M664.6 2372.7h0M665.2 2368.3h0M664 2363.3h0M664.5 2350h0M665.2 2346.6h0M665.1 2330.7h0M664.3 2376.9h0M667.5 2377.2h0M666.6 2373.8h0M667.8 2366.5h0M667.8 2364.1h0M667.3 2358.2h0M667.7 2337.1h0M666.5 2334.1h0M667.2 2324.6h0M666.2 2318.8h0M667 2376.6h0M669.2 2377.9h0M669.2 2363.6h0M669.7 2350.4h0M668.7 2348.3h0M669.5 2376.8h0M671.1 2378.2h0M671.9 2373.2h0M672.3 2371.4h0M671.6 2367.2h0M671.5 2363.1h0M672.1 2360.6h0M671.4 2353.5h0M671.2 2346.9h0M671.1 2376.8h0M673.1 2378.2h0M673 2373.8h0M673.4 2365.9h0M673 2339.7h0M673 2336.9h0M673.4 2376.9h0M718.9 2377.9h0M717.9 2373.7h0M718.9 2366h0M718.6 2364.8h0M717.6 2346.6h0M718.1 2376.8h0M803 2230.3h0M842.6 2285.1h0M741.6 2285.4h0M732.8 2293.4h0M741.6 2301.4h0M747.1 2306.9h0M747.5 2316.5h0M728.8 2322.1h0M724.8 2333.3h0M794.3 2300.1h0M801.4 2302.2h0M810.2 2308.2h0M801.4 2321.8h0M810.2 2319.7h0M794.3 2327.7h0M810.2 2328.5h0M862.1 2316.5h0M854.1 2327.7h0M724 2342.9h0M840.8 2306.1h0M840.9 2308.7h0M841.5 2311.3h0M840.7 2313.9h0M841.1 2316.5h0M841.2 2319.1h0M841.6 2321.7h0M840.8 2326.9h0M841.4 2329.5h0M841 2332.1h0M841.4 2334.7h0M841.9 2337.3h0M736.5 2291.8h0M735.7 2294.4h0M735.7 2297h0M735.7 2299.6h0M735.6 2302.2h0M736.1 2304.8h0M735.6 2307.4h0M736.5 2310h0M735.4 2315.2h0M735.5 2317.8h0M735.8 2320.4h0M720.8 2376.3h0M720.3 2361.4h0M721 2349.5h0M721.2 2376.8h0M723.9 2370.9h0M722.5 2360.4h0M722.2 2354.6h0M723.2 2333.8h0M723 2331.3h0M722.6 2376.7h0M724.9 2377.2h0M726.1 2371.6h0M725.2 2366.1h0M724.6 2364.9h0M725.8 2359.7h0M725.9 2351.6h0M725 2328.3h0M725.2 2325.4h0M728.5 2374.2h0M728.6 2364.1h0M727.9 2357.6h0M728.4 2353.4h0M727.4 2351.4h0M727.6 2343.6h0M726.9 2337.5h0M727.2 2335h0M727.3 2376.8h0M730 2369.9h0M730.1 2367h0M730.6 2364.8h0M729.4 2347.5h0M730.1 2324.2h0M730.2 2320.1h0M730.4 2376.7h0M732.8 2373.7h0M731.8 2340.4h0M731.9 2336.9h0M731.7 2321.2h0M732.4 2376.8h0M734 2372.5h0M735.4 2371.5h0M734.6 2368h0M734.5 2363.3h0M735.1 2359.4h0M734.3 2357.3h0M734.8 2309.9h0M734.6 2376.9h0M737.6 2377.5h0M737.2 2373.9h0M737.7 2370.8h0M737.5 2367.4h0M736.3 2362.8h0M737.1 2361.5h0M736.6 2357.2h0M736.3 2354.4h0M736.8 2346.1h0M736.8 2340.5h0M737 2376.7h0M739 2376.3h0M738.7 2367.5h0M738.9 2359.5h0M739.1 2358.2h0M738.7 2327.6h0M738.8 2308.5h0M739 2376.5h0M740.6 2369.4h0M742.3 2367.2h0M742.3 2353.1h0M742.3 2350.6h0M741.2 2348.4h0M744.2 2377.8h0M744.5 2372.7h0M744.5 2369.4h0M744 2367.2h0M744.2 2361.4h0M744.5 2354.5h0M744.6 2350.4h0M743.4 2346.4h0M743.3 2336.8h0M744.1 2326.6h0M744.5 2323.6h0M743.5 2376.6h0M746.4 2377h0M746.9 2370.1h0M745.5 2367.5h0M745.3 2364.8h0M746.4 2361.4h0M745.7 2358.1h0M746 2348.3h0M745.7 2338.3h0M745.4 2331.6h0M745.6 2328h0M746.1 2324.2h0M746 2376.5h0M749 2373.2h0M747.7 2369.6h0M748.8 2368.1h0M748 2360.2h0M748.4 2376.9h0M751.9 2364h0M751.8 2357.4h0M786.4 2376.3h0M786.3 2367.4h0M786.7 2359.6h0M785.9 2356.4h0M785.6 2351.1h0M786.3 2346.9h0M785.8 2376.9h0M788.5 2377.1h0M789.3 2372.7h0M789.2 2366.7h0M788.5 2363.8h0M788.2 2357.8h0M787.7 2354.1h0M789.2 2343h0M789.1 2376.6h0M790.6 2376.2h0M790.8 2373.6h0M791.5 2370.3h0M790.1 2368.2h0M790.9 2353.3h0M791.4 2376.9h0M792.4 2376.6h0M793.5 2371.6h0M792.3 2363.3h0M792.4 2354.8h0M792.7 2340.5h0M793.5 2329.6h0M792.7 2327.1h0M792.6 2376.6h0M795.3 2373.7h0M796.1 2371h0M795.4 2363.7h0M795.8 2349.7h0M794.7 2340.6h0M796 2376.9h0M797.9 2374.1h0M798.2 2364.6h0M797.7 2357.8h0M797.3 2353.6h0M797.8 2376.6h0M800.4 2372.8h0M800.2 2370.9h0M799.9 2366.8h0M799.6 2360.6h0M799.8 2358.1h0M800.3 2352.8h0M800.8 2349.5h0M799.7 2344.9h0M799.4 2340.8h0M800 2376.7h0M802.2 2368h0M802.4 2354.7h0M801.8 2339.9h0M801.6 2328.4h0M802.3 2376.9h0M804.6 2373.6h0M804.6 2370.5h0M804.9 2367.7h0M804.2 2364.4h0M805.5 2360.8h0M806.9 2375.9h0M806.9 2372.7h0M806.7 2370.3h0M806.5 2364.4h0M807.6 2339.9h0M806.8 2326.9h0M807.2 2377h0M808.9 2374.3h0M809.9 2371.5h0M808.7 2356.7h0M809.5 2343h0M811 2369.4h0M810.8 2354.9h0M839.8 2375.9h0M838.4 2373.4h0M838.4 2370.6h0M838.4 2357h0M838.9 2353.9h0M839.4 2348.2h0M838.7 2344.2h0M838.8 2376.8h0M842.1 2372.5h0M841.6 2369.9h0M841.4 2364.2h0M841.5 2361.1h0M841.6 2350.1h0M841.1 2344.1h0M840.9 2333.5h0M841.4 2376.6h0M843.5 2376.1h0M844.1 2373.5h0M844.6 2371.2h0M844.4 2363.2h0M844.1 2357.8h0M843.8 2349.5h0M844.6 2333.6h0M843.7 2323h0M846 2378.1h0M845.4 2373.9h0M846.9 2370.9h0M846.3 2362.9h0M847 2360.9h0M846.7 2357h0M845.6 2336.2h0M846 2327h0M845.2 2320.2h0M845.8 2317.1h0M845.9 2376.9h0M849.3 2366h0M847.8 2351.4h0M849 2318.7h0M848.2 2376.9h0M850.3 2375.9h0M851.2 2366.4h0M850.1 2360.8h0M851.2 2355h0M850.9 2351.4h0M850.7 2376.9h0M853.1 2373.8h0M853.3 2367.1h0M853.6 2350.8h0M853.3 2376.7h0M855.2 2375.8h0M855.7 2373.3h0M855.2 2367h0M854.9 2359.7h0M856 2357.6h0M855 2348.3h0M855.8 2343.9h0M855.1 2334.6h0M854.7 2376.9h0M858 2368h0M857 2364.4h0M857.5 2351.2h0M858.1 2376.9h0M860.7 2376.4h0M859.1 2367.6h0M860 2360.4h0M860.3 2355h0M860.1 2341.5h0M859.5 2330.7h0M862.8 2376.9h0M862.1 2360.2h0M861.3 2356.7h0M861.5 2346.9h0M862.6 2344h0M862.4 2376.9h0M901.9 2275.8h0M903.4 2283h0M892.3 2287.2h0M892.3 2293.2h0M901.9 2293.8h0M901.9 2296.8h0M892.3 2306.3h0M901.9 2308.1h0M930.7 2306.9h0M934.3 2306.9h0M934 2312.9h0M899.5 2321.3h0M887.5 2321.3h0M902.3 2317.7h0M902.3 2320.3h0M901.6 2322.9h0M902.3 2325.5h0M901.8 2328.1h0M902 2330.7h0M901.6 2333.3h0M893 2305.7h0M892.6 2308.3h0M892.7 2313.5h0M891.7 2316.1h0M892.2 2318.7h0M892.2 2321.3h0M887 2377h0M886.5 2369.8h0M887.9 2367.3h0M887.9 2364.5h0M887.5 2358.2h0M886.4 2353.2h0M887.1 2346.1h0M886.8 2343.4h0M887.3 2336.9h0M887.2 2330.8h0M887.8 2320.8h0M887.4 2376.9h0M890.2 2369.9h0M890 2363.4h0M890.2 2360.3h0M888.9 2354.4h0M890.2 2348.4h0M890 2344.3h0M889.7 2376.8h0M891.5 2376.4h0M891.5 2372.7h0M892.2 2360.3h0M892.3 2353.2h0M891.9 2334.7h0M891.7 2324.5h0M891.4 2376.8h0M893.9 2373.3h0M894.4 2369.2h0M894.1 2363.4h0M894.9 2350.6h0M893.6 2344h0M894.2 2341h0M894 2335.1h0M893.7 2318.6h0M894.5 2376.5h0M897.3 2373.2h0M896.1 2369.4h0M896.5 2366h0M896.7 2359.3h0M896.8 2350.1h0M896.4 2347.6h0M896.6 2376.8h0M898 2377.5h0M899.3 2369.9h0M899.6 2367.4h0M898.8 2360.8h0M899.5 2347.4h0M901.4 2373.5h0M901.7 2366.9h0M901.2 2357.7h0M900.8 2354h0M901.8 2347.4h0M900.4 2340.1h0M900.8 2376.5h0M904 2374.2h0M904.2 2371h0M902.5 2368.1h0M902.8 2363.5h0M902.5 2361.2h0M903.2 2354.1h0M902.7 2343.4h0M903.7 2334.6h0M902.7 2321.1h0M904.2 2318.2h0M903.1 2377h0M904.9 2350.5h0M924.9 2361h0M924.8 2357.2h0M924.5 2350.7h0M926.4 2367h0M926.3 2376.6h0M928.4 2369.9h0M928.3 2368h0M928 2362.8h0M928 2359.8h0M929.3 2351.5h0M928.4 2376.7h0M931.4 2372.8h0M931.4 2366.3h0M930.8 2360.2h0M931.4 2358.4h0M930.4 2351.6h0M931.7 2348.2h0M931 2376.8h0M932.4 2374.6h0M933.9 2363.3h0M932.4 2351.5h0M934.1 2341.6h0M932.6 2335h0M933 2329.8h0M932.9 2376.9h0M936 2377.4h0M935.8 2367.7h0M935.1 2337.2h0M935 2334.1h0M935.7 2331.9h0M935.9 2376.6h0M937.2 2377h0M937.6 2371h0M938.6 2366.9h0M938.6 2363.3h0M937.1 2353h0M938.3 2351.5h0M294.5 2172.4h0" stroke="#FF0000" stroke-width="7.1" stroke-linecap="round" fill="none"/>
<path d="M234.9 2231.9h0M187 2282.2h0M201.7 2292.6h0M201.7 2296.6h0M207.7 2301.4h0M214.1 2304.6h0M221.3 2307.7h0M187 2310.1h0M187 2322.1h0M175 2323.7h0M199.8 2322.1h0M188.6 2333.3h0M220.5 2315.7h0M230.1 2328.5h0M235 2240.7h0M234.5 2243.3h0M234.6 2245.9h0M234.8 2248.5h0M234.9 2251.1h0M234.8 2253.7h0M235.2 2256.3h0M235.2 2258.9h0M234.4 2261.5h0M235.3 2264.1h0M235.5 2266.7h0M235 2269.3h0M235.4 2271.9h0M234.8 2274.5h0M234.7 2277.1h0M234.8 2279.7h0M234.9 2282.3h0M235.3 2284.9h0M235.3 2287.5h0M235.1 2290.1h0M234.6 2292.7h0M235.3 2295.3h0M234.8 2297.9h0M234.7 2300.5h0M234.5 2303.1h0M235.2 2305.7h0M235.3 2308.3h0M207.4 2298.2h0M207.7 2300.8h0M208.4 2303.4h0M207.3 2306h0M207.7 2308.6h0M207.7 2311.2h0M207 2313.8h0M208.1 2316.4h0M208.3 2319h0M207.6 2321.6h0M186.6 2307.7h0M187.5 2310.3h0M186.7 2312.9h0M187.1 2315.5h0M186.8 2318.1h0M187.6 2320.7h0M187 2323.3h0M186.7 2325.9h0M187.2 2328.5h0M186.6 2331.1h0M187.4 2333.7h0M187.3 2336.3h0M187.6 2338.9h0M215.5 2303h0M215.1 2308.2h0M215.7 2310.8h0M215.1 2316h0M215.1 2318.6h0M215.8 2321.2h0M165.4 2377.5h0M165.4 2361.7h0M168 2377.8h0M166.7 2370.1h0M167.2 2366.5h0M168 2364.9h0M167.5 2361.4h0M166.9 2347.9h0M167.9 2341.5h0M167.5 2336.9h0M167 2376.8h0M170.3 2374.7h0M169.9 2370.7h0M170.2 2364.4h0M168.9 2351h0M169.3 2340.9h0M169.8 2376.6h0M171.8 2371.4h0M171.6 2366.1h0M171.4 2356.4h0M172.6 2351.7h0M174.9 2374.7h0M173.7 2369.4h0M173.3 2365h0M174.3 2361h0M173.5 2353.5h0M173.9 2376.6h0M176.1 2378.1h0M176.5 2373.1h0M175.9 2371h0M176.1 2364h0M177.1 2361.6h0M177 2357h0M176.9 2350.9h0M176 2344.1h0M176.7 2376.9h0M178.4 2370.5h0M179.3 2368.1h0M179.5 2359.4h0M178.2 2353.1h0M178 2343.6h0M178.1 2333.3h0M179.4 2323.9h0M178.8 2376.9h0M180.6 2373.3h0M180.3 2370.6h0M180.3 2359.8h0M180.8 2337.6h0M181.1 2330.8h0M181.3 2376.8h0M183.7 2377.8h0M183.3 2367.4h0M184.2 2362.8h0M182.9 2354.7h0M184 2350.5h0M183.5 2329.7h0M183.6 2376.9h0M185.8 2362.9h0M185.7 2360.1h0M186.1 2354.9h0M184.9 2336.6h0M186.2 2376.7h0M188 2376.3h0M187.8 2373.3h0M188.7 2370.2h0M188.2 2368.1h0M188.8 2360.1h0M187.5 2356.2h0M188.4 2354h0M187.3 2347.7h0M188.8 2345.1h0M187.9 2341.3h0M187.7 2334.5h0M187.6 2376.8h0M189.8 2368.2h0M190.3 2364.7h0M190.5 2353.9h0M189.9 2339.8h0M191.1 2336.7h0M191.2 2328.1h0M189.9 2376.9h0M193.4 2376.7h0M192.3 2370.6h0M193.2 2366.7h0M192.7 2363.8h0M193.2 2359.8h0M191.9 2356h0M193.3 2348.4h0M193.1 2341.8h0M192.8 2376.9h0M194.1 2374.4h0M194.2 2371h0M195.3 2366.7h0M195.7 2363.6h0M194.3 2351.2h0M195.5 2347.1h0M195.4 2344.9h0M194.3 2376.9h0M198.1 2374.5h0M196.9 2360.2h0M196.9 2353.9h0M196.9 2377h0M198.8 2364.7h0M199.7 2355h0M199.2 2351h0M200.2 2344.4h0M199 2335h0M199.6 2314.7h0M198.9 2376.7h0M201.1 2376.9h0M202.5 2374.4h0M201.7 2368.1h0M202.5 2356.2h0M201.4 2353.6h0M201 2351.6h0M202.1 2376.6h0M204.3 2370.1h0M203.3 2365h0M204.3 2353.4h0M204.3 2344h0M203.7 2317h0M204.1 2376.6h0M205.5 2373.3h0M205.5 2361h0M205.8 2353.3h0M205.9 2350.6h0M205.9 2343.6h0M205.6 2320.8h0M206.2 2316.7h0M206.1 2376.5h0M208.7 2374.5h0M209.4 2370.3h0M209.6 2362.8h0M208 2361.1h0M208.7 2357.3h0M208.8 2349.6h0M208.5 2348h0M208.4 2337.3h0M208.7 2328.4h0M208.5 2325h0M208.9 2376.7h0M211.2 2367.9h0M210.3 2361.1h0M210.9 2358.3h0M211 2376.9h0M214 2371.4h0M214 2367.4h0M212.7 2363.7h0M213.9 2361.7h0M213.4 2357h0M212.5 2354.1h0M213 2351.5h0M213.7 2347.2h0M213.5 2337h0M213.3 2328.2h0M213.8 2324.7h0M215.1 2378.1h0M214.8 2361.7h0M216.5 2353.1h0M215.3 2341.8h0M215.9 2323.9h0M215.5 2317.5h0M218.3 2375.9h0M217.9 2370.6h0M217.1 2361.3h0M217.4 2353.9h0M218.4 2351.3h0M217 2314h0M217.7 2376.5h0M220 2376.9h0M219.8 2369.9h0M219.4 2367.1h0M219.9 2356.2h0M220 2348.5h0M220 2334.5h0M220.3 2376.6h0M222.9 2377.5h0M223.2 2360.3h0M222 2352.8h0M221.7 2351.2h0M223 2347.4h0M222.4 2328.1h0M222.9 2323.7h0M221.9 2376.9h0M224.5 2377.4h0M225.1 2362.8h0M225.4 2356.7h0M224.7 2349.5h0M225.5 2347.2h0M225.6 2331.1h0M224.6 2325.2h0M225.3 2313.7h0M225.3 2376.7h0M226.7 2377.8h0M227.7 2374.6h0M227.2 2371.5h0M227.1 2361.4h0M226.8 2349.9h0M226.6 2337h0M226.9 2328.3h0M229.4 2370.2h0M228.6 2366h0M229.2 2364.6h0M229.1 2360.4h0M229.5 2353.4h0M229.2 2350.7h0M229.3 2347.2h0M228.8 2344.4h0M228.9 2335.2h0M228.8 2331.6h0M229.4 2325.3h0M228.9 2376.7h0M231.1 2376.8h0M232.3 2373h0M232 2364.8h0M231 2352.8h0M232.4 2351.6h0M232.5 2331.3h0M231.6 2376.8h0M233.4 2370.5h0M233.3 2367.2h0M233.2 2363.2h0M234.8 2353.8h0M234.1 2350.5h0M234.9 2330.4h0M234.3 2326.8h0M234.4 2376.9h0M236.7 2374.1h0M235.5 2369.3h0M235.8 2366.3h0M236 2361.6h0M235.9 2350.1h0M236.4 2376.7h0M298.3 2267h0M304.7 2276.6h0M306.3 2283h0M298.3 2290.2h0M327.8 2267h0M333.4 2283h0M304.7 2302.2h0M320.6 2303.8h0M314.7 2317h0M318.2 2323.7h0M352.6 2309.3h0M353.4 2318.9h0M348.6 2321.3h0M298.7 2296.6h0M298.6 2299.2h0M298.9 2301.8h0M298.5 2304.4h0M298.4 2307h0M297.6 2312.2h0M297.9 2314.8h0M297.7 2317.4h0M298.5 2320h0M298 2322.6h0M305.7 2312.5h0M305.7 2315.1h0M305.9 2317.7h0M305.2 2320.3h0M306 2322.9h0M305.1 2325.5h0M305.9 2328.1h0M305.9 2330.7h0M352.5 2301.4h0M352.1 2304h0M352.1 2306.6h0M352.3 2309.2h0M298.1 2364.1h0M298 2360.1h0M298.3 2354.3h0M298 2340h0M298.1 2327.1h0M298.5 2324.5h0M298.9 2376.6h0M300.9 2376.7h0M301 2370.1h0M300.5 2362.8h0M300.6 2361.5h0M300 2354.6h0M300.7 2341.6h0M301.2 2331.7h0M299.7 2323.3h0M300.1 2318h0M301.1 2301.5h0M301 2376.5h0M302.7 2377.7h0M303 2372.7h0M302.7 2369.2h0M303.1 2364.9h0M303.1 2360.6h0M303.1 2357.6h0M303.7 2327.3h0M303.6 2307.2h0M302.3 2303.8h0M303.2 2377h0M304.4 2378h0M304.5 2371.1h0M306.1 2368h0M305.6 2363.7h0M305.7 2361.1h0M304.4 2356.3h0M305.6 2353.2h0M304.7 2346.4h0M306.1 2344.8h0M305.3 2341.9h0M305.6 2336.7h0M304.9 2335h0M304.4 2328.2h0M305.3 2376.7h0M308.4 2376.6h0M307.8 2374.4h0M307.4 2367.8h0M307.7 2357h0M308 2353.8h0M307.3 2334.2h0M306.9 2324.9h0M308 2376.7h0M310.2 2376h0M310.5 2374.1h0M309.2 2362.7h0M309.7 2344h0M310 2376.9h0M311.7 2376.2h0M312.7 2373.5h0M312.9 2366.4h0M311.7 2359.8h0M312.5 2350.8h0M311.4 2346.9h0M311.6 2341.5h0M311.2 2336.7h0M311.5 2327.9h0M312.1 2376.8h0M314.7 2369.4h0M315.3 2368.1h0M313.8 2363h0M314.6 2356.4h0M315 2348h0M313.8 2331.6h0M314.1 2324.7h0M314 2376.8h0M316.3 2377h0M316.2 2370h0M316 2366.2h0M317.3 2360.2h0M317 2351.2h0M316.3 2376.8h0M319.1 2372.9h0M318.3 2371.4h0M318.2 2367.3h0M319.5 2363.7h0M318.8 2348.3h0M319.1 2344.6h0M319 2376.6h0M321.3 2369.6h0M321 2361.1h0M321 2357.2h0M320.8 2353.4h0M321.3 2351.3h0M321.4 2333.3h0M320.9 2325.3h0M321 2316.8h0M320.9 2376.6h0M323.1 2377.3h0M322.7 2370.5h0M324.1 2367.6h0M322.9 2360.7h0M324.4 2356.2h0M324.3 2352.8h0M323.7 2347.2h0M322.9 2344.5h0M323.7 2337.5h0M323.3 2333.7h0M324.4 2331.2h0M323.2 2376.9h0M325.7 2374.1h0M325.6 2369.4h0M325.5 2350.5h0M326 2330.2h0M326.5 2318.1h0M325.5 2376.8h0M327.8 2377.7h0M328.6 2363.7h0M328.3 2358.2h0M327.5 2353h0M327.8 2347.1h0M327.6 2341.7h0M328.3 2321.7h0M327.5 2311.6h0M327.5 2306.9h0M328.1 2376.9h0M330.4 2377.9h0M331.4 2373.7h0M330.4 2369.9h0M330.1 2366.9h0M331.1 2363.1h0M330.6 2357.5h0M330.9 2350.8h0M329.8 2339.9h0M330.4 2337.1h0M332.9 2377.5h0M332.4 2360.1h0M332.7 2354.9h0M332.6 2344h0M332.2 2336.3h0M333.1 2327h0M333.2 2376.8h0M335.2 2373.5h0M335 2371.2h0M335.1 2367.9h0M335.8 2362.7h0M335.3 2359.8h0M334.6 2353.2h0M335.2 2350.5h0M334.2 2348.3h0M334.6 2320.8h0M335.8 2314.3h0M335.4 2376.9h0M336.9 2377.6h0M336.5 2372.5h0M336.7 2371.3h0M338 2366.8h0M336.7 2364.8h0M337.5 2356.9h0M336.9 2341.6h0M336.9 2376.7h0M338.8 2377.8h0M340.5 2373.9h0M340.1 2371.2h0M339.6 2367.8h0M339 2359.5h0M340.2 2341.1h0M339.5 2335.2h0M339.6 2376.9h0M341.8 2376.3h0M341.3 2369.8h0M341.2 2366.4h0M342.7 2363.7h0M342.5 2343.1h0M342.3 2341.7h0M342.6 2376.8h0M343.6 2376.4h0M344.2 2374.2h0M344.7 2369.6h0M343.9 2366.7h0M344.8 2346.5h0M344.8 2320.8h0M347.4 2369.6h0M345.8 2353.9h0M347.4 2347.3h0M346.1 2376.9h0M348.5 2374.3h0M349.1 2364.2h0M349 2361.3h0M348.1 2353.4h0M348.6 2351.4h0M349.4 2346.9h0M349.5 2325.1h0M348.5 2376.8h0M350.4 2377.7h0M351.9 2371h0M351 2367.6h0M350.6 2353.1h0M351.8 2341.5h0M351.1 2334.4h0M351.9 2318h0M353.3 2376.3h0M353.3 2370.6h0M353 2364h0M353.5 2360.9h0M353.2 2354.1h0M353.3 2376.6h0M508.3 2211.1h0M508.3 2248.7h0M409.9 2257.4h0M419.2 2255.4h0M422 2293.7h0M447.6 2302.6h0M454.6 2307.4h0M433.5 2310.9h0M408.3 2312.9h0M408.3 2320.5h0M424 2317h0M431.1 2321.8h0M443.4 2321.3h0M455.1 2321.3h0M458.3 2326.9h0M418.4 2323.7h0M509.4 2294.2h0M511 2303h0M519 2313.3h0M525.3 2318.1h0M526.9 2291.5h0M533.8 2289.4h0M548.5 2313.3h0M511.8 2322.9h0M533.9 2315.7h0M533.4 2318.3h0M533.9 2320.9h0M533.6 2323.5h0M532.9 2326.1h0M533.6 2331.3h0M532.9 2333.9h0M533.3 2336.5h0M410.3 2375.8h0M409.2 2370.4h0M409.3 2363.6h0M409.4 2376.8h0M412.6 2376.3h0M411.9 2372.5h0M411.3 2352.9h0M412.5 2339.9h0M412.4 2376.7h0M413.5 2378.1h0M414.3 2371h0M414 2364.3h0M414 2360h0M414.5 2358.3h0M414.3 2353.9h0M413.3 2350.1h0M414.6 2346.4h0M414.4 2344.4h0M413.3 2336.4h0M413.6 2330.8h0M414.4 2377h0M416 2376.5h0M416.8 2373.7h0M416.5 2369.4h0M415.9 2353.4h0M415.9 2351.7h0M417.2 2336.5h0M417 2314.8h0M416.2 2376.7h0M418.8 2377.2h0M418.6 2366.8h0M418.7 2361.6h0M419.5 2338.3h0M419.3 2317.7h0M418.7 2376.5h0M421.3 2377.1h0M421.5 2373.1h0M421.8 2361.5h0M420.4 2356.2h0M420.2 2350.3h0M421.7 2346.4h0M420.5 2343.7h0M420.1 2337.1h0M420.7 2325.2h0M423.8 2376.5h0M423 2361.2h0M422.6 2357.1h0M423 2353.4h0M423.8 2351.6h0M423.9 2376.9h0M425.2 2368h0M426.4 2364h0M425.7 2356.6h0M426.5 2341.2h0M427.8 2376.2h0M428.8 2374.6h0M427.8 2364.1h0M427.2 2334.2h0M427.8 2326.7h0M430.6 2376.3h0M429.9 2370.7h0M430.1 2364.2h0M430.7 2351.5h0M429.4 2345.1h0M430.7 2376.6h0M431.7 2377.5h0M431.6 2366.3h0M432.4 2364.7h0M432 2344.9h0M433.3 2341.8h0M432.4 2330.7h0M434.4 2377h0M435.7 2363.8h0M434 2360.2h0M434.9 2353.7h0M435.6 2343.4h0M434.5 2376.9h0M436.9 2369.8h0M436.8 2366.8h0M436.8 2357.1h0M437.3 2353.5h0M437.7 2337.2h0M436.5 2377h0M440.2 2372.7h0M439 2366.6h0M439.5 2362.9h0M438.6 2358.2h0M438.6 2355h0M438.6 2326.9h0M439.9 2376.6h0M441.8 2374h0M441.3 2371.3h0M441 2353h0M441.3 2333.7h0M441.2 2376.6h0M444 2371.1h0M443.5 2367.3h0M444.8 2362.9h0M444.1 2360.4h0M444.4 2354.7h0M444.1 2344.6h0M444.7 2341.5h0M444.8 2333.9h0M444 2330.9h0M444.1 2376.9h0M446.8 2373.4h0M446.4 2363.4h0M446.1 2357.2h0M446.7 2346.7h0M446.3 2376.8h0M449.5 2371.5h0M447.8 2354.3h0M449.3 2350.4h0M448.6 2376.8h0M451.6 2377.9h0M450.7 2374.8h0M451 2361.1h0M451.3 2343.9h0M450.8 2376.7h0M453.2 2374h0M452.4 2371.6h0M452.4 2367.3h0M452.4 2361.5h0M453.6 2357.8h0M452.7 2354.3h0M453.5 2376.7h0M455.1 2376.6h0M456.3 2369.8h0M455.4 2366.2h0M456.1 2364.4h0M455.7 2357.5h0M455.4 2376.6h0M457.3 2377.4h0M457.6 2374.6h0M457 2369.5h0M458.3 2366.1h0M457.4 2360.3h0M457.1 2358h0M457.8 2349.7h0M457.4 2377h0M459.4 2369.3h0M507.9 2377.3h0M508.5 2347.7h0M509.3 2343.1h0M508.6 2376.9h0M510.2 2376.7h0M510.5 2366.2h0M509.9 2361.4h0M510.6 2358h0M511.2 2347.1h0M511.3 2339.8h0M510.4 2376.7h0M513.2 2376.4h0M512.2 2374.3h0M513.8 2370h0M513.9 2364.2h0M513 2351.5h0M513 2347.3h0M512.6 2376.9h0M514.6 2378.1h0M515.8 2372.9h0M515 2363.3h0M516.2 2353h0M515.4 2350.7h0M518.2 2373.3h0M517 2369.4h0M518.1 2363.8h0M518.5 2360.7h0M517.8 2351.1h0M517 2347.4h0M518.3 2341.8h0M517.8 2376.7h0M520.1 2374h0M519.4 2366.3h0M520.8 2360.3h0M520.3 2353.9h0M519.4 2349.7h0M520.8 2346.9h0M519.5 2344.2h0M520.1 2339.9h0M519.7 2333.7h0M520.2 2376.7h0M522.9 2370.5h0M521.9 2367.1h0M522.4 2363h0M522.1 2358h0M522.4 2351.1h0M522.3 2347h0M522.2 2376.7h0M524.9 2377.4h0M524.2 2374.8h0M525 2366.8h0M524.3 2364h0M523.8 2360.8h0M524.4 2357.8h0M524.4 2350h0M525.1 2347.4h0M523.8 2344.1h0M525 2331.4h0M524.9 2376.6h0M527.5 2377.9h0M526.3 2366.1h0M527.4 2363.5h0M527.1 2359.5h0M527 2353.4h0M527.7 2348.5h0M526.6 2343.2h0M526.5 2376.7h0M529.5 2376.8h0M528.7 2369.3h0M528.6 2362.9h0M529.9 2360.4h0M528.4 2356.6h0M529.5 2354h0M529.6 2376.7h0M531.7 2373h0M531.1 2364.7h0M530.8 2356.2h0M531.5 2354.3h0M531 2343.5h0M531.4 2316.7h0M531.7 2313.7h0M530.9 2376.7h0M533.2 2376.8h0M534.6 2368.1h0M533 2361h0M534.5 2356.2h0M534.6 2349.8h0M533.4 2346.3h0M533.7 2331.3h0M533.8 2323.8h0M533.3 2376.5h0M536.1 2376.7h0M536.1 2374.6h0M536.2 2369.6h0M536.1 2366.3h0M535.6 2364.3h0M536 2356.5h0M535.7 2354.7h0M536.4 2350.8h0M536 2337h0M535.9 2333h0M536.2 2376.5h0M538.8 2378.1h0M539 2363.2h0M537.6 2357.3h0M538.8 2353.2h0M537.4 2338h0M538.6 2334.9h0M537.7 2326.9h0M539 2321.4h0M538.7 2318.7h0M538.9 2376.5h0M540.7 2373.3h0M540.5 2366.1h0M540.9 2360.3h0M541 2356.4h0M540.3 2352.9h0M540.7 2351.7h0M541.5 2333.7h0M540.9 2317.9h0M540.6 2376.6h0M542.5 2363.3h0M543.4 2351.8h0M542.4 2344.3h0M542.8 2331.1h0M542.5 2376.8h0M545.1 2371.6h0M545.5 2363.5h0M545.4 2353.7h0M544.8 2349.5h0M544.8 2346.3h0M545.6 2337.1h0M545.6 2323.5h0M545.5 2320.8h0M548.3 2377.7h0M548.3 2373.4h0M547.4 2347.9h0M548.2 2333.4h0M547.4 2327.4h0M547.3 2323.6h0M546.8 2320.4h0M547.7 2318.5h0M550.2 2377h0M549.4 2370.6h0M550 2364.6h0M549 2354.9h0M550 2346.9h0M550.4 2337.6h0M550.6 2328.2h0M549.8 2376.5h0M617.2 2249h0M629.5 2279h0M595.4 2282.2h0M595.4 2295.3h0M595.4 2305.3h0M599.6 2313.3h0M623.1 2303h0M629.5 2304.6h0M625.5 2325.3h0M632.7 2330.1h0M679.4 2302.6h0M683 2312.5h0M679 2314.9h0M705.6 2292.9h0M705.6 2303h0M703.7 2320.5h0M701.3 2324.5h0M696.5 2330.9h0M713.3 2330.1h0M713.3 2334.1h0M607.6 2334.9h0M679.8 2336.5h0M595.4 2318.9h0M595 2321.5h0M594.5 2326.7h0M595.1 2329.3h0M595.7 2331.9h0M595.5 2334.5h0M628.8 2304.6h0M629.1 2307.2h0M628.9 2309.8h0M628.9 2312.4h0M629.7 2315h0M629.9 2317.6h0M630 2320.2h0M630 2322.8h0M629.8 2325.4h0M629.9 2328h0M617.3 2317.3h0M617 2319.9h0M617.4 2322.5h0M617.3 2325.1h0M617.7 2330.3h0M678.9 2320.5h0M678.4 2323.1h0M678.8 2325.7h0M679.6 2328.3h0M679.6 2330.9h0M678.5 2333.5h0M678.6 2336.1h0M678.7 2338.7h0M593.8 2373.3h0M593.6 2363.8h0M593.3 2353h0M593.2 2343.1h0M594.2 2327.5h0M593.9 2376.5h0M596.5 2377h0M594.8 2362.9h0M596.1 2358.2h0M596.1 2352.7h0M596.1 2341.6h0M596 2331.2h0M595.8 2326.6h0M598.8 2372.6h0M597.7 2360.4h0M598.5 2354.8h0M597.5 2343.8h0M598.6 2340.1h0M598.1 2333.6h0M598.3 2321.9h0M597.4 2376.6h0M600.6 2376.7h0M600.1 2369.6h0M601 2363.4h0M599.5 2359.8h0M599.5 2333h0M603.2 2376h0M602.8 2373.3h0M601.9 2366.1h0M603.4 2363.8h0M602.3 2376.5h0M605.7 2374h0M605 2371.1h0M604 2352.9h0M605.7 2351h0M604.1 2342.8h0M604 2334.2h0M604.6 2377h0M608.1 2373.7h0M606.5 2371h0M607.2 2366.3h0M607.6 2337.3h0M608 2330h0M607 2376.8h0M609.1 2378.1h0M608.9 2373.5h0M608.9 2364h0M609.9 2356.1h0M609.5 2350h0M608.6 2337.9h0M609.3 2330.6h0M609.3 2326.7h0M609.7 2376.7h0M612.3 2370.6h0M612.6 2364.2h0M612.4 2359.4h0M611.6 2350.4h0M611.7 2348h0M612.4 2341.1h0M611.7 2338.1h0M611 2326.4h0M612 2376.6h0M614.4 2366.8h0M614.1 2363h0M614.1 2358.1h0M614.8 2354.7h0M613.5 2347.5h0M613.4 2342.9h0M613.8 2331.5h0M614.4 2328.6h0M613.5 2323.9h0M614.3 2318.3h0M614.6 2377h0M617 2374.3h0M616.3 2371h0M616.9 2364.5h0M616.9 2361.1h0M617.2 2356.6h0M616.3 2351.3h0M616.2 2346.5h0M615.5 2344.1h0M616.8 2338.3h0M616.8 2333.9h0M615.9 2328.6h0M616.3 2376.8h0M619.3 2369.3h0M619.2 2363.8h0M619.4 2357.5h0M618.6 2354.8h0M619.1 2376.9h0M621.5 2377.5h0M621.2 2373.8h0M621.3 2370.9h0M621.1 2367.2h0M621 2360h0M621.8 2358h0M621.8 2343.3h0M621 2376.8h0M623.3 2368.3h0M623.3 2360.5h0M624 2357.4h0M622.5 2346.5h0M623.3 2324.1h0M622.7 2318.3h0M623 2376.8h0M625.2 2377h0M625.7 2373.6h0M625.3 2371.1h0M625.6 2366.6h0M625.5 2353h0M625.7 2346.1h0M626.1 2377h0M628.4 2374.5h0M628.1 2343.1h0M628.1 2376.8h0M630.9 2373.2h0M629.5 2370.4h0M630.3 2366.2h0M629.4 2363.2h0M629.8 2356.4h0M630.4 2350.4h0M630.8 2341.2h0M629.7 2320.6h0M633.2 2373.6h0M632.4 2370.1h0M632.2 2368.1h0M631.7 2356.5h0M632.2 2354.1h0M632.6 2349.9h0M632.9 2340.5h0M632.4 2320.2h0M632.7 2376.5h0M674.6 2369.9h0M674.7 2347.6h0M674.1 2344.9h0M674.4 2329.7h0M675.4 2370.2h0M675.5 2366.7h0M676.5 2361.7h0M675.5 2357.1h0M676.7 2344.2h0M676.9 2329.7h0M676.5 2376.8h0M678 2373.9h0M678.9 2370.7h0M678.3 2367h0M678.8 2364.2h0M679.1 2360.1h0M678.2 2357h0M679.4 2354.9h0M679.4 2344.5h0M677.9 2327.5h0M677.9 2323.6h0M678.9 2376.9h0M681.5 2372.9h0M680.2 2370.4h0M680.6 2357.2h0M680.7 2355h0M681.4 2341.5h0M680.9 2376.7h0M683.7 2375.9h0M683.8 2371.5h0M683.9 2368.1h0M682.6 2359.6h0M682.5 2356.3h0M683.8 2352.8h0M682.9 2350.3h0M682.6 2346.1h0M682.5 2376.8h0M685.9 2372.7h0M685.6 2363.8h0M685 2354.3h0M684.6 2338.4h0M684.8 2376.8h0M686.8 2373.4h0M688.5 2369.5h0M687.3 2366.3h0M687.6 2363.6h0M687.2 2358.3h0M688.1 2376.5h0M690.1 2376.7h0M689.8 2367.4h0M689.6 2363.7h0M689.7 2361.1h0M690.7 2333.7h0M690.4 2376.8h0M691.7 2377.2h0M691.9 2366.9h0M692.3 2363.2h0M693 2357.9h0M691.6 2347h0M692.4 2338.4h0M691.7 2376.7h0M695 2368h0M694.8 2347h0M694.6 2340.9h0M695.3 2334h0M694.9 2330.6h0M695.4 2327.2h0M697.6 2364.8h0M696.2 2356.3h0M697.2 2376.7h0M698.8 2376.9h0M699.6 2367h0M699.7 2353.7h0M699.7 2349.7h0M699.8 2331.5h0M699 2376.7h0M701.6 2376.3h0M701.9 2372.9h0M701.4 2370.9h0M701.9 2363.2h0M702.3 2360.1h0M700.8 2356.4h0M701.8 2354.6h0M702 2341.2h0M701 2376.6h0M703.4 2371.2h0M704.3 2366.9h0M703.8 2363.7h0M703 2360.6h0M703.4 2351.7h0M704.2 2326.8h0M704.2 2325.3h0M703.5 2376.9h0M706.8 2376.8h0M706.8 2373.7h0M705.8 2360.8h0M705.3 2357h0M706.5 2353.2h0M706.1 2351.1h0M706.4 2376.8h0M707.7 2373.1h0M707.5 2370.1h0M708.4 2366.9h0M708.1 2344.7h0M708.7 2330.4h0M708.1 2376.9h0M711 2376.5h0M709.9 2370.4h0M710.6 2363.4h0M711.4 2340.9h0M710.2 2376.8h0M712.3 2369.9h0M713.5 2366.1h0M712.4 2363.4h0M712.6 2351.7h0M713.4 2346.7h0M713.3 2334.9h0M713 2376.7h0M777.2 2259.5h0M835.3 2253.1h0M775.1 2279.8h0M831 2277.1h0M832.6 2295.3h0M767.1 2293.4h0M780.7 2299.4h0M756.7 2303h0M767.9 2311.7h0M836.6 2303.8h0M835 2323.7h0M873.3 2312.5h0M877.3 2310.1h0M866.1 2318.9h0M875.7 2328.5h0M831.8 2334.1h0M866.1 2338.1h0M870.1 2337.3h0M820.9 2275.8h0M820.3 2278.4h0M820.3 2281h0M821.1 2283.6h0M820.1 2288.8h0M820.3 2291.4h0M821.1 2294h0M820.2 2296.6h0M820 2299.2h0M820.7 2301.8h0M820.7 2304.4h0M820.7 2307h0M820.2 2309.6h0M819.9 2312.2h0M820.5 2314.8h0M819.9 2317.4h0M821.2 2322.6h0M820.5 2325.2h0M820.3 2327.8h0M821.2 2330.4h0M820.6 2333h0M820.1 2335.6h0M820 2338.2h0M759.7 2266.2h0M759.2 2268.8h0M760.1 2271.4h0M760.3 2274h0M760.1 2276.6h0M759.4 2279.2h0M760.6 2281.8h0M759.6 2284.4h0M759.7 2287h0M760.2 2289.6h0M759.9 2292.2h0M760 2294.8h0M776.6 2306.1h0M776.1 2311.3h0M776.1 2313.9h0M775.3 2316.5h0M776.3 2321.7h0M775.5 2324.3h0M776.4 2326.9h0M776.4 2329.5h0M776 2332.1h0M775.7 2334.7h0M776.4 2337.3h0M752.7 2377.3h0M752.8 2372.7h0M753.1 2361.4h0M753 2347.6h0M753.4 2343h0M752.7 2334.7h0M752.8 2327.8h0M752.3 2376.7h0M755.5 2377.3h0M755.8 2373.6h0M755 2366.9h0M755.5 2364.1h0M755.5 2356.1h0M755.9 2347.2h0M755.4 2334.4h0M754.4 2307.9h0M755.2 2304.9h0M755.3 2301.2h0M754.6 2294.4h0M755.5 2376.8h0M757.5 2376.7h0M758.2 2370.1h0M757.3 2367.2h0M757.2 2363.2h0M757.3 2345h0M757.6 2339.9h0M756.8 2336.3h0M756.9 2331.4h0M756.5 2328.5h0M756.9 2318.5h0M757.2 2310.8h0M757.5 2376.6h0M758.9 2374.1h0M759.2 2370.8h0M760.4 2350.1h0M759.9 2347.9h0M759.1 2340.7h0M759 2335.3h0M759.6 2376.9h0M761.2 2372.5h0M761.9 2370.2h0M761.6 2365.9h0M762.1 2362.6h0M761.8 2358.2h0M761.6 2346.2h0M762.5 2343h0M761.9 2334.5h0M761.7 2332h0M762 2319.8h0M762.5 2314.4h0M761.6 2377h0M764.6 2375.9h0M764.8 2373.1h0M764.4 2366.3h0M763.7 2364.4h0M764.8 2345h0M763.6 2337.2h0M764.7 2376.7h0M767.2 2376.6h0M765.8 2358.3h0M766.9 2353.9h0M766.5 2340.3h0M766.6 2323.1h0M766.3 2376.9h0M768.3 2377.3h0M769.1 2356.4h0M768.1 2354.9h0M769.2 2349.9h0M768.6 2330.6h0M768.4 2328.1h0M768.6 2376.9h0M770.9 2378.2h0M770.5 2374.7h0M771.9 2367.4h0M771.8 2359.4h0M771.2 2354.2h0M771.6 2335.1h0M771 2323.4h0M774.2 2374.5h0M774 2369.7h0M774 2367.2h0M774.3 2358h0M773.1 2346.3h0M773.8 2344.2h0M772.9 2341.5h0M773.3 2328.2h0M774.3 2321.7h0M773.5 2376.8h0M776.2 2378.2h0M775.2 2374.5h0M776.5 2362.9h0M776 2350.4h0M776.4 2333.3h0M775.8 2328.6h0M775.8 2308.6h0M775.5 2376.5h0M777.3 2372.6h0M778.8 2362.7h0M778.3 2359.7h0M778.8 2358.2h0M777.9 2352.9h0M777.2 2334.4h0M777.9 2316.4h0M778.6 2376.8h0M780.1 2373.2h0M780.8 2371.3h0M780 2368.2h0M780.8 2364.7h0M780.1 2353.7h0M780.5 2350.1h0M779.8 2346.5h0M780.7 2337.4h0M780.4 2376.8h0M812.2 2360.9h0M812.3 2357.5h0M811.1 2376.7h0M814.6 2375.9h0M814.7 2373.9h0M813.9 2367.5h0M813.4 2359.7h0M814.1 2349.5h0M813.5 2337.2h0M814.7 2333.7h0M813.5 2376.9h0M816.4 2377.5h0M815.3 2370.2h0M816.2 2367.9h0M816.6 2363.7h0M817 2361.5h0M816.2 2354.3h0M816.1 2350.2h0M815.6 2348.4h0M817 2340.8h0M816.5 2331.4h0M816.9 2323.2h0M815.7 2320.9h0M816.8 2310.7h0M815.8 2376.8h0M818.4 2377.6h0M818.2 2367.7h0M817.6 2357.4h0M817.8 2346.7h0M818.8 2341.7h0M818.6 2376.9h0M821.1 2377h0M821.3 2370.1h0M820.7 2360.7h0M820.2 2356.2h0M821.7 2331h0M820.2 2305h0M820.4 2376.7h0M822.9 2376.4h0M822.7 2360.8h0M823.6 2357h0M822.8 2343.7h0M823.3 2376.7h0M826.1 2364.4h0M825.8 2356.7h0M825.2 2353.6h0M825.6 2340.2h0M825.7 2376.9h0M827 2378.2h0M828.1 2363.1h0M827.9 2354.1h0M828.2 2346.4h0M827.3 2338.5h0M828.1 2333.9h0M827.4 2376.8h0M829.7 2376h0M829.9 2373.5h0M829.8 2370.1h0M829.5 2366.4h0M829.5 2361h0M830.5 2350.8h0M830.7 2341.7h0M830.8 2334.9h0M831.9 2366h0M831.8 2364.3h0M832.2 2356.1h0M832.9 2354.3h0M832.7 2347.8h0M831.9 2376.7h0M834.1 2376.8h0M834 2374.9h0M834.5 2369.4h0M833.7 2350.5h0M833.7 2344.4h0M835.3 2337.9h0M835.3 2325h0M834.6 2376.7h0M836.7 2377.9h0M837.6 2368.2h0M837.6 2364.5h0M837.1 2355.1h0M837.2 2376.8h0M864.2 2376.1h0M864.7 2369.3h0M864.3 2363.4h0M865.3 2353.7h0M863.9 2334.3h0M865.2 2315h0M865 2312h0M863.7 2307h0M865 2376.5h0M866.5 2369.8h0M866.2 2366.7h0M867.3 2363.6h0M866.4 2360.6h0M866.5 2356.9h0M866 2352.9h0M866 2350.5h0M867.4 2320.6h0M866.9 2318.8h0M867.3 2376.6h0M869 2378.1h0M868.4 2374.7h0M869.2 2368.3h0M868.4 2363.8h0M868.7 2359.4h0M868.7 2356.1h0M869.1 2347.2h0M869.3 2344.3h0M869.5 2340.7h0M868.2 2337.3h0M869.8 2320h0M868.5 2376.5h0M872.1 2371.4h0M871.9 2363.3h0M871.1 2344h0M870.7 2339.9h0M871.2 2327.3h0M870.8 2376.6h0M873.4 2377.3h0M873.8 2372.9h0M874.1 2361.6h0M873.8 2349.7h0M873.7 2343h0M874.2 2340.5h0M873.2 2376.5h0M875.1 2376.8h0M875.3 2373.7h0M875.4 2369.3h0M875.1 2356.3h0M875.5 2350.4h0M875.6 2340.8h0M875.7 2330h0M876.5 2327h0M875.5 2376.9h0M878.8 2378h0M878 2373.8h0M878.4 2370h0M877.5 2359.8h0M877.7 2350.7h0M877.4 2348.1h0M879.1 2344.9h0M878.7 2341.7h0M878.2 2316.6h0M878.8 2376.5h0M907.9 2292h0M907.9 2295.6h0M907.9 2306.9h0M877.4 2310.5h0M872.6 2312.9h0M920.5 2321.3h0M913.3 2328.5h0M875.6 2328.5h0M885.1 2329.7h0M878 2333.3h0M885.1 2338.1h0M866 2318.9h0M866 2326.1h0M952.8 2322.5h0M907.9 2305.7h0M908.1 2308.3h0M908.5 2313.5h0M908.4 2316.1h0M907.4 2318.7h0M908.4 2321.3h0M907.4 2323.9h0M908.6 2326.5h0M907.4 2329.1h0M880.2 2377.1h0M881.2 2372.8h0M880.5 2371.1h0M880.5 2363h0M880.7 2347.8h0M880.2 2344.9h0M879.9 2340.2h0M880.4 2376.7h0M882.2 2374.2h0M882.9 2367.2h0M881.9 2359.3h0M883 2351.2h0M883 2344.5h0M883 2340.3h0M882.3 2328.6h0M882.5 2376.5h0M884.7 2373.4h0M884.2 2367.4h0M885.5 2361.7h0M885.1 2356.7h0M884.9 2341h0M884.5 2338.3h0M884.9 2327.8h0M884.7 2376.7h0M905.1 2377h0M905.1 2374.7h0M905.7 2370.9h0M905.7 2364.7h0M906.4 2361.2h0M905.1 2343.1h0M905.4 2376.6h0M907.3 2373.3h0M908.6 2369.8h0M907.7 2367h0M907.1 2347.7h0M908.8 2341.2h0M908.3 2336.8h0M907.2 2324.5h0M907.5 2319.8h0M908 2376.9h0M910.9 2376.3h0M910 2374.8h0M910.7 2359.7h0M909.6 2352.8h0M910.4 2351.5h0M910.8 2346.9h0M910.5 2338.1h0M910.5 2333.2h0M909.8 2312h0M912.7 2373h0M912.3 2371.1h0M911.8 2360h0M912.5 2350.3h0M912.7 2323.7h0M912.3 2376.9h0M914.1 2360.3h0M914.1 2356.7h0M915.3 2350.1h0M914.8 2376.5h0M916.7 2367h0M917.6 2363.9h0M917.1 2330.6h0M917.3 2376.8h0M920.1 2376.9h0M919.7 2373.3h0M918.9 2371.3h0M919.2 2368.3h0M920 2353.8h0M919.6 2350.3h0M919.6 2334.9h0M919.3 2376.9h0M922.3 2373h0M922.5 2369.4h0M921.5 2367.8h0M922.2 2362.8h0M921.8 2358.4h0M922.1 2354.7h0M921.1 2350.3h0M922.3 2376.9h0M923.6 2377.6h0M924.4 2373.2h0M923.2 2367.5h0M923.8 2353h0M924.4 2376.9h0M940.1 2374h0M939.7 2371.2h0M941.1 2366.3h0M939.8 2364.3h0M941 2360.5h0M940.4 2341.1h0M939.7 2331.5h0M939.8 2376.8h0M942.9 2376.6h0M942.2 2374.7h0M942 2361.3h0M942.6 2344.8h0M943.2 2338.5h0M943.2 2323.8h0M942.1 2376.8h0M944.9 2364.8h0M944.9 2359.6h0M945.5 2354.9h0M944.1 2334.5h0M944.9 2326.9h0M944.2 2376.9h0M946.7 2377.4h0M947.6 2370.2h0M947.8 2367.4h0M947.9 2356.3h0M946.6 2350.9h0M946.4 2339.7h0M947.8 2337.2h0M947.2 2334.1h0M946.8 2330.4h0M946.7 2376.5h0M950.1 2374.8h0M949.5 2366.9h0M949 2364.5h0M948.9 2303.5h0M948.9 2376.9h0M952 2369.2h0M951.9 2367.3h0M952.1 2363.8h0M951.2 2358h0M952 2352.7h0M951.1 2336.4h0M952.5 2334.3h0M951.9 2376.6h0" stroke="#FFA500" stroke-width="7.1" stroke-linecap="round" fill="none"/>
<path d="M317.9 2309.3h0M317.9 2312.5h0M317 2339.7h0M317.9 2345.3h0M317.8 1780.2h0M317.8 1789.5h0M317.8 1966.6h0M317.8 2095h0M317.8 2114.6h0M317.9 2135.1h0M317.9 2141.1h0" stroke="#1E90FF" stroke-width="7.1" stroke-linecap="round" fill="none"/>
<path d="M48 1750.3V2407.8H995" stroke="#262626" stroke-width="2" fill="none" stroke-linecap="butt"/>
<path d="M48 2150.2H995" stroke="#000" stroke-width="2" stroke-dasharray="5 5" fill="none"/>
<path d="M44.6 1786.4H48" stroke="#333" stroke-width="1.5"/>
<text x="42" y="1792" class="yt">16</text>
<path d="M44.6 1968.3H48" stroke="#333" stroke-width="1.5"/>
<text x="42" y="1973.9" class="yt">12</text>
<path d="M44.6 2150.2H48" stroke="#333" stroke-width="1.5"/>
<text x="42" y="2155.8" class="yt">8</text>
<path d="M44.6 2332.1H48" stroke="#333" stroke-width="1.5"/>
<text x="42" y="2337.7" class="yt">4</text>
<path d="M128.1 2407.8v3.4" stroke="#333" stroke-width="1.5"/>
<text x="128.1" y="2424" class="xt">1</text>
<path d="M200.6 2407.8v3.4" stroke="#333" stroke-width="1.5"/>
<text x="200.6" y="2424" class="xt">2</text>
<path d="M266.8 2407.8v3.4" stroke="#333" stroke-width="1.5"/>
<text x="266.8" y="2424" class="xt">3</text>
<path d="M325.1 2407.8v3.4" stroke="#333" stroke-width="1.5"/>
<text x="325.1" y="2424" class="xt">4</text>
<path d="M380.5 2407.8v3.4" stroke="#333" stroke-width="1.5"/>
<text x="380.5" y="2424" class="xt">5</text>
<path d="M432.9 2407.8v3.4" stroke="#333" stroke-width="1.5"/>
<text x="432.9" y="2424" class="xt">6</text>
<path d="M481.4 2407.8v3.4" stroke="#333" stroke-width="1.5"/>
<text x="481.4" y="2424" class="xt">7</text>
<path d="M527.2 2407.8v3.4" stroke="#333" stroke-width="1.5"/>
<text x="527.2" y="2424" class="xt">8</text>
<path d="M571.6 2407.8v3.4" stroke="#333" stroke-width="1.5"/>
<text x="571.6" y="2424" class="xt">9</text>
<path d="M613.2 2407.8v3.4" stroke="#333" stroke-width="1.5"/>
<text x="613.2" y="2424" class="xt">10</text>
<path d="M653.9 2407.8v3.4" stroke="#333" stroke-width="1.5"/>
<text x="653.9" y="2424" class="xt">11</text>
<path d="M695 2407.8v3.4" stroke="#333" stroke-width="1.5"/>
<text x="695" y="2424" class="xt">12</text>
<path d="M734.7 2407.8v3.4" stroke="#333" stroke-width="1.5"/>
<text x="734.7" y="2424" class="xt">13</text>
<path d="M768.3 2407.8v3.4" stroke="#333" stroke-width="1.5"/>
<text x="768.3" y="2424" class="xt">14</text>
<path d="M799.7 2407.8v3.4" stroke="#333" stroke-width="1.5"/>
<text x="799.7" y="2424" class="xt">15</text>
<path d="M825.7 2407.8v3.4" stroke="#333" stroke-width="1.5"/>
<text x="825.7" y="2424" class="xt">16</text>
<path d="M850.6 2407.8v3.4" stroke="#333" stroke-width="1.5"/>
<text x="850.6" y="2424" class="xt">17</text>
<path d="M875.1 2407.8v3.4" stroke="#333" stroke-width="1.5"/>
<text x="875.1" y="2424" class="xt">18</text>
<path d="M894.9 2407.8v3.4" stroke="#333" stroke-width="1.5"/>
<text x="894.9" y="2424" class="xt">19</text>
<path d="M913.2 2407.8v3.4" stroke="#333" stroke-width="1.5"/>
<text x="913.2" y="2424" class="xt">20</text>
<path d="M932.3 2407.8v3.4" stroke="#333" stroke-width="1.5"/>
<text x="932.3" y="2424" class="xt">21</text>
<path d="M947.3 2407.8v3.4" stroke="#333" stroke-width="1.5"/>
<text x="947.3" y="2424" class="xt">22</text>
<text x="521.3" y="2442.9" class="xl">Position</text>
<text transform="translate(19.8 2079.1) rotate(-90)" class="yl" textLength="135.5" lengthAdjust="spacingAndGlyphs">−log10(P−value)</text>
<text x="811.4" y="75.6" class="lab">CYP1A2</text>
<text x="893.6" y="85.3" class="lab">chr18q22.2</text>
<text x="326" y="925.9" class="lab">UGT2B</text>
<text x="243.1" y="1350.8" class="lab">UGT1A</text>
<text x="326" y="1775.7" class="lab">UGT2B</text>

<text transform="translate(37.5 21.6) scale(1 1.07)" class="ttl"><tspan font-weight="bold">A</tspan>. Clozapine C/D</text>
<text transform="translate(38.5 861.5) scale(1 1.07)" class="ttl"><tspan font-weight="bold">B</tspan>. Norclozapine C/D</text>
<text transform="translate(37.5 1710.5) scale(1 1.07)" class="ttl"><tspan font-weight="bold">C</tspan>. Clozapine to norclozapine ratio</text>
<text x="38.3" y="2472.5" class="cap" textLength="829.5" lengthAdjust="spacingAndGlyphs">Base pairs corresponding to labeled genes or regions are highlighted in blue. Chromosomes are</text>
<text x="38.3" y="2495.5" class="cap" textLength="296" lengthAdjust="spacingAndGlyphs">alternately colored red and yellow.</text>
</svg>
</body></html>
